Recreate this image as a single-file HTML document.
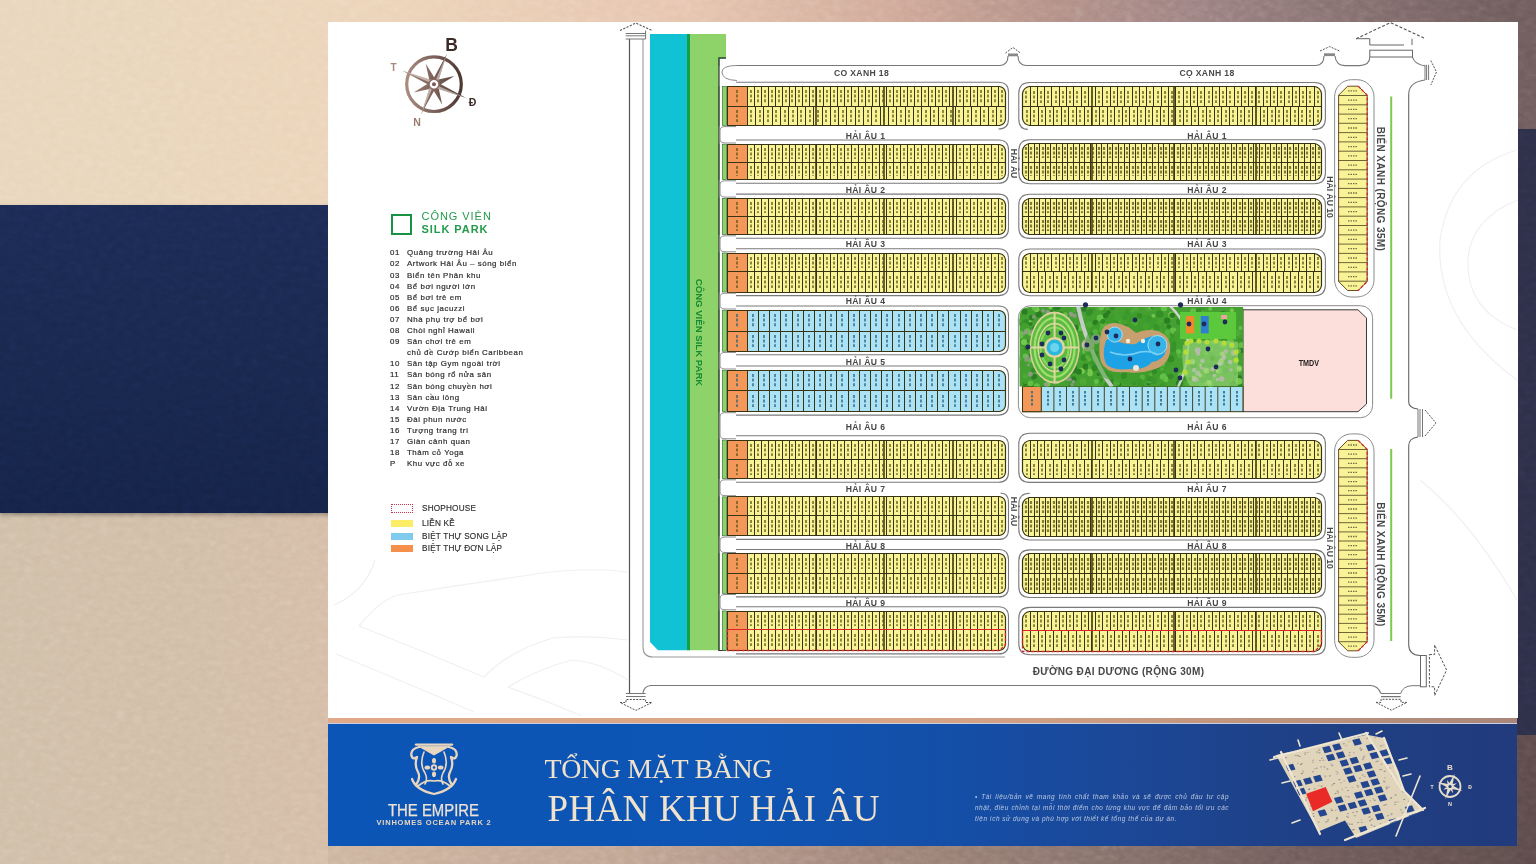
<!DOCTYPE html>
<html><head><meta charset="utf-8"><title>Tổng mặt bằng Phân khu Hải Âu</title>
<style>
*{margin:0;padding:0;box-sizing:border-box}
html,body{width:1536px;height:864px;overflow:hidden}
body{position:relative;font-family:"Liberation Sans",sans-serif;background:#d6c1a8}
.abs{position:absolute}
#bgTop{left:0;top:0;width:1536px;height:205px;background:linear-gradient(90deg,#e8d6bc 0%,#ecd3b8 25%,#e6c4ae 45%,#d0a898 58%,#bc968a 65%,#9c8080 78%,#7c6868 91%,#6a5858 100%)}
#bgNavy{left:0;top:205px;width:340px;height:308px;background:linear-gradient(180deg,#1b2a52,#18274c 50%,#142246);box-shadow:0 2px 4px rgba(0,0,0,.35)}
#bgLow{left:0;top:513px;width:340px;height:351px;background:linear-gradient(90deg,#cfbea7,#d1bda6 50%,#d5bca6)}
#bgBot{left:328px;top:846px;width:1208px;height:18px;background:linear-gradient(90deg,#cdb49e 0%,#c0a492 25%,#a08478 45%,#88726c 62%,#6f5c5a 80%,#5c4c4a 100%)}
#bgR1{left:1517px;top:0;width:19px;height:129px;background:#6e5b5c}
#bgR2{left:1517px;top:129px;width:19px;height:606px;background:#2d2e47}
#bgR3{left:1517px;top:735px;width:19px;height:129px;background:#5c4a4a}
#card{left:328px;top:22px;width:1190px;height:695.5px;background:#fff}
#stripe{left:328px;top:717.5px;width:1189px;height:5px;background:linear-gradient(90deg,#e0aa88,#d8a486 50%,#b8907c 85%,#a8867a)}
#stripe2{left:328px;top:722.5px;width:1189px;height:1.5px;background:#c9cfe0}
#banner{left:328px;top:724px;width:1189px;height:122px;background:linear-gradient(90deg,#0b55b6 0%,#0e55b4 35%,#144fa8 52%,#1b4898 66%,#1f4188 80%,#213b7c 100%)}
svg.full{position:absolute;left:0;top:0;width:1536px;height:864px}
.li{position:absolute;left:390px;height:10px;font-size:7.9px;line-height:10px;color:#2e2e2e;white-space:nowrap;letter-spacing:0.55px;-webkit-text-stroke:0.2px #2e2e2e}
.ln{display:inline-block;width:17px}
.lt{display:inline-block}
#parkT{left:421.5px;top:209.5px;color:#239a4c;font-size:11px;line-height:13.5px;white-space:nowrap;letter-spacing:0.95px}
#parkT b{font-weight:bold}
#parkSq{left:390.5px;top:213.8px;width:21.5px;height:21px;border:2.2px solid #1a9244}
.sw{position:absolute;left:390.5px;width:22px;height:7px}
.swt{position:absolute;left:422px;font-size:8.2px;line-height:9px;color:#2e2e2e;white-space:nowrap;letter-spacing:0.2px;-webkit-text-stroke:0.15px #2e2e2e}
#t1{left:544.5px;top:752.6px;font-family:"Liberation Serif",serif;font-size:28px;line-height:32px;color:#f0e2cc;letter-spacing:-0.4px;white-space:nowrap}
#t2{left:547.5px;top:789.2px;font-family:"Liberation Serif",serif;font-size:37px;line-height:40px;color:#f0e2cc;letter-spacing:0.3px;white-space:nowrap}
#emp{left:386px;top:801px;width:96px;text-align:center;font-family:"Liberation Serif",serif;font-size:17px;line-height:18px;color:#ead6bf;letter-spacing:-0.8px;white-space:nowrap;-webkit-text-stroke:0.35px #ead6bf}
#vop{left:370px;top:818.5px;width:128px;text-align:center;font-size:7.5px;line-height:8px;font-weight:bold;color:#e4d4c0;white-space:nowrap;letter-spacing:0.8px}
#disc{left:975px;top:791px;width:254px;font-size:6.4px;line-height:11px;font-style:italic;color:#dfe4f0;opacity:.8;letter-spacing:0.55px;white-space:nowrap}#disc span{display:block;text-align:justify;text-align-last:justify}#disc span.l{text-align-last:left}
</style></head><body>
<div class="abs" id="bgTop"></div>
<div class="abs" id="bgLow"></div>
<div class="abs" id="bgNavy"></div>
<div class="abs" id="bgBot"></div>
<div class="abs" id="bgR1"></div><div class="abs" id="bgR2"></div><div class="abs" id="bgR3"></div>
<svg class="full" style="opacity:0.28;mix-blend-mode:overlay" viewBox="0 0 1536 864"><filter id="nz" x="0" y="0" width="100%" height="100%"><feTurbulence type="fractalNoise" baseFrequency="0.12 0.18" numOctaves="3" seed="4"/><feColorMatrix type="saturate" values="0"/></filter><rect width="1536" height="864" filter="url(#nz)"/></svg>
<div class="abs" id="card"></div>
<div class="abs" id="stripe"></div><div class="abs" id="stripe2"></div>
<div class="abs" id="banner"></div>
<svg class="full" viewBox="0 0 1536 864">
<g fill="none" stroke="#f0f0f0" stroke-width="1.2"><path d="M334 605Q365 592 375 560"/><path d="M359 626Q380 600 398 595Q460 585 523 576Q580 566 628 572"/><path d="M359 626Q420 650 484 677Q510 650 553 638Q590 635 628 640"/><path d="M336 654Q400 680 474 712"/><path d="M508 687Q540 668 572 660Q600 662 628 680"/><path d="M508 687Q545 700 582 716"/><path d="M1517 150Q1450 170 1440 240Q1435 320 1517 380"/><path d="M1517 200Q1470 220 1468 260Q1466 310 1517 330"/><path d="M1420 480Q1470 520 1517 600"/></g>
<defs><linearGradient id="cg" x1="0" y1="0" x2="1" y2="0"><stop offset="0" stop-color="#a98b80"/><stop offset="1" stop-color="#4e3832"/></linearGradient></defs><circle cx="434" cy="84.2" r="27.3" fill="none" stroke="url(#cg)" stroke-width="3.2"/><path d="M431.1 82.9L446.9 53.8L436.9 85.5ZM432.6 80.7L454.4 76L435.4 87.7ZM435.3 81.3L466.2 97.9L432.7 87.1ZM437.5 82.8L442.2 104.6L430.5 85.6ZM436.9 85.5L421.1 114.6L431.1 82.9ZM435.4 87.7L413.6 92.4L432.6 80.7ZM432.7 87.1L401.8 70.5L435.3 81.3ZM430.5 85.6L425.8 63.8L437.5 82.8Z" fill="url(#cg)"/><path d="M434 84.2L446.9 53.8L436.9 85.5ZM434 84.2L466.2 97.9L432.7 87.1ZM434 84.2L421.1 114.6L431.1 82.9ZM434 84.2L401.8 70.5L435.3 81.3Z" fill="#f4ece8" opacity="0.55"/><circle cx="434" cy="84.2" r="5" fill="#fff" stroke="#8a6a60" stroke-width="1.5"/><circle cx="434" cy="84.2" r="2" fill="#7a5a50"/><text x="451.5" y="44.5" font-size="17.5" fill="#3a2a28" font-family="Liberation Sans" font-weight="bold" text-anchor="middle" dominant-baseline="central">B</text><text x="393.5" y="67.6" font-size="10" fill="#a88a7c" font-family="Liberation Sans" font-weight="bold" text-anchor="middle" dominant-baseline="central">T</text><text x="417" y="122" font-size="10.5" fill="#9a7c70" font-family="Liberation Sans" font-weight="bold" text-anchor="middle" dominant-baseline="central">N</text><text x="472.5" y="102" font-size="10.5" fill="#3a2a28" font-family="Liberation Sans" font-weight="bold" text-anchor="middle" dominant-baseline="central">Đ</text>
<path d="M650 34H687V650.3H658L650 642Z" fill="#10c2d3"/><rect x="687" y="34" width="3.5" height="616.3" fill="#17a03c"/><path d="M690.5 34H726V58H719V650.3H690.5Z" fill="#8dd36a"/><path d="M629.5 39V693" stroke="#555" stroke-width="1.2" fill="none"/><path d="M643 39V647Q643 657 653 657H1005" stroke="#9a9a9a" stroke-width="1.1" fill="none"/><path d="M650 685.5H1371Q1378 686 1381 693.5" stroke="#777" stroke-width="1.1" fill="none"/><path d="M643 693Q644 686 651 685.5" stroke="#777" stroke-width="1.1" fill="none"/><path d="M726 58H719V650.5H726" stroke="#333" stroke-width="1.2" fill="none"/><rect x="722.3" y="86.4" width="4" height="39" fill="#8dd36a" stroke="#2a6a2a" stroke-width="0.6"/><path d="M718.8 85.9V125.9" stroke="#3f5f3f" stroke-width="1.3"/><path d="M727.5 86.5H999.5Q1004.6 87.4 1005.5 92.5V119.5Q1004.6 124.6 999.5 125.5H727.5Q727.5 125.5 727.5 125.5V86.5Q727.5 86.5 727.5 86.5Z" fill="#f9f397" stroke="#37340f" stroke-width="1.2"/><rect x="727.5" y="86.5" width="20" height="39" fill="#f4985a" stroke="#37340f" stroke-width="1"/><path d="M727.5 106.5H1005.5M754.5 86.5V106.5M761.5 86.5V106.5M768.5 86.5V106.5M775.5 86.5V106.5M782.5 86.5V106.5M789.5 86.5V106.5M795.5 86.5V106.5M802.5 86.5V106.5M809.5 86.5V106.5M816.5 86.5V106.5M823.5 86.5V106.5M830.5 86.5V106.5M837.5 86.5V106.5M844.5 86.5V106.5M851.5 86.5V106.5M858.5 86.5V106.5M865.5 86.5V106.5M872.5 86.5V106.5M879.5 86.5V106.5M886.5 86.5V106.5M893.5 86.5V106.5M900.5 86.5V106.5M907.5 86.5V106.5M914.5 86.5V106.5M921.5 86.5V106.5M928.5 86.5V106.5M935.5 86.5V106.5M942.5 86.5V106.5M949.5 86.5V106.5M956.5 86.5V106.5M963.5 86.5V106.5M970.5 86.5V106.5M977.5 86.5V106.5M984.5 86.5V106.5M991.5 86.5V106.5M998.5 86.5V106.5M755.5 106.5V125.5M763.5 106.5V125.5M772.5 106.5V125.5M780.5 106.5V125.5M788.5 106.5V125.5M797.5 106.5V125.5M805.5 106.5V125.5M813.5 106.5V125.5M822.5 106.5V125.5M830.5 106.5V125.5M838.5 106.5V125.5M846.5 106.5V125.5M855.5 106.5V125.5M863.5 106.5V125.5M871.5 106.5V125.5M880.5 106.5V125.5M888.5 106.5V125.5M896.5 106.5V125.5M905.5 106.5V125.5M913.5 106.5V125.5M921.5 106.5V125.5M930.5 106.5V125.5M938.5 106.5V125.5M946.5 106.5V125.5M955.5 106.5V125.5M963.5 106.5V125.5M971.5 106.5V125.5M980.5 106.5V125.5M988.5 106.5V125.5M996.5 106.5V125.5" stroke="#37340f" stroke-width="1" fill="none"/><path d="M816 86.5V125.5M884 86.5V125.5M953 86.5V125.5" stroke="#37340f" stroke-width="1.5" fill="none"/><path d="M751 90V103M758 90V103M765 90V103M772 90V103M779 90V103M786 90V103M792 90V103M799 90V103M806 90V103M813 90V103M820 90V103M827 90V103M834 90V103M841 90V103M848 90V103M855 90V103M862 90V103M869 90V103M876 90V103M883 90V103M890 90V103M897 90V103M904 90V103M911 90V103M918 90V103M925 90V103M932 90V103M939 90V103M946 90V103M953 90V103M960 90V103M967 90V103M974 90V103M981 90V103M988 90V103M995 90V103M1002 90V103M751 110V122M760 110V122M768 110V122M776 110V122M785 110V122M793 110V122M801 110V122M810 110V122M818 110V122M826 110V122M835 110V122M843 110V122M851 110V122M859 110V122M868 110V122M876 110V122M884 110V122M893 110V122M901 110V122M909 110V122M918 110V122M926 110V122M934 110V122M943 110V122M951 110V122M959 110V122M968 110V122M976 110V122M984 110V122M993 110V122M1001 110V122M737 90V103M737 110V122" stroke="#59540f" stroke-width="1.8" stroke-dasharray="3 1.6" fill="none" opacity="0.75"/><path d="M736 82.2 H998.5 Q1008.5 82.2 1008.5 92.2 V119 Q1008.5 129 998.5 129 " fill="none" stroke="#7a7a7a" stroke-width="1.1"/><rect x="722.3" y="144.2" width="4" height="35.4" fill="#8dd36a" stroke="#2a6a2a" stroke-width="0.6"/><path d="M718.8 143.7V180.1" stroke="#3f5f3f" stroke-width="1.3"/><path d="M727.5 144.5H999.5Q1004.6 145.4 1005.5 150.5V173.5Q1004.6 178.6 999.5 179.5H727.5Q727.5 179.5 727.5 179.5V144.5Q727.5 144.5 727.5 144.5Z" fill="#f9f397" stroke="#37340f" stroke-width="1.2"/><rect x="727.5" y="144.5" width="20" height="35" fill="#f4985a" stroke="#37340f" stroke-width="1"/><path d="M727.5 162.5H1005.5M754.5 144.5V162.5M761.5 144.5V162.5M768.5 144.5V162.5M775.5 144.5V162.5M782.5 144.5V162.5M789.5 144.5V162.5M795.5 144.5V162.5M802.5 144.5V162.5M809.5 144.5V162.5M816.5 144.5V162.5M823.5 144.5V162.5M830.5 144.5V162.5M837.5 144.5V162.5M844.5 144.5V162.5M851.5 144.5V162.5M858.5 144.5V162.5M865.5 144.5V162.5M872.5 144.5V162.5M879.5 144.5V162.5M886.5 144.5V162.5M893.5 144.5V162.5M900.5 144.5V162.5M907.5 144.5V162.5M914.5 144.5V162.5M921.5 144.5V162.5M928.5 144.5V162.5M935.5 144.5V162.5M942.5 144.5V162.5M949.5 144.5V162.5M956.5 144.5V162.5M963.5 144.5V162.5M970.5 144.5V162.5M977.5 144.5V162.5M984.5 144.5V162.5M991.5 144.5V162.5M998.5 144.5V162.5M754.5 162.5V179.5M761.5 162.5V179.5M768.5 162.5V179.5M775.5 162.5V179.5M782.5 162.5V179.5M789.5 162.5V179.5M795.5 162.5V179.5M802.5 162.5V179.5M809.5 162.5V179.5M816.5 162.5V179.5M823.5 162.5V179.5M830.5 162.5V179.5M837.5 162.5V179.5M844.5 162.5V179.5M851.5 162.5V179.5M858.5 162.5V179.5M865.5 162.5V179.5M872.5 162.5V179.5M879.5 162.5V179.5M886.5 162.5V179.5M893.5 162.5V179.5M900.5 162.5V179.5M907.5 162.5V179.5M914.5 162.5V179.5M921.5 162.5V179.5M928.5 162.5V179.5M935.5 162.5V179.5M942.5 162.5V179.5M949.5 162.5V179.5M956.5 162.5V179.5M963.5 162.5V179.5M970.5 162.5V179.5M977.5 162.5V179.5M984.5 162.5V179.5M991.5 162.5V179.5M998.5 162.5V179.5" stroke="#37340f" stroke-width="1" fill="none"/><path d="M816 144.5V179.5M884 144.5V179.5M953 144.5V179.5" stroke="#37340f" stroke-width="1.5" fill="none"/><path d="M751 148V159M758 148V159M765 148V159M772 148V159M779 148V159M786 148V159M792 148V159M799 148V159M806 148V159M813 148V159M820 148V159M827 148V159M834 148V159M841 148V159M848 148V159M855 148V159M862 148V159M869 148V159M876 148V159M883 148V159M890 148V159M897 148V159M904 148V159M911 148V159M918 148V159M925 148V159M932 148V159M939 148V159M946 148V159M953 148V159M960 148V159M967 148V159M974 148V159M981 148V159M988 148V159M995 148V159M1002 148V159M751 166V176M758 166V176M765 166V176M772 166V176M779 166V176M786 166V176M792 166V176M799 166V176M806 166V176M813 166V176M820 166V176M827 166V176M834 166V176M841 166V176M848 166V176M855 166V176M862 166V176M869 166V176M876 166V176M883 166V176M890 166V176M897 166V176M904 166V176M911 166V176M918 166V176M925 166V176M932 166V176M939 166V176M946 166V176M953 166V176M960 166V176M967 166V176M974 166V176M981 166V176M988 166V176M995 166V176M1002 166V176M737 148V159M737 166V176" stroke="#59540f" stroke-width="1.8" stroke-dasharray="3 1.6" fill="none" opacity="0.75"/><path d="M736 140 H998.5 Q1008.5 140 1008.5 150 V173.2 Q1008.5 183.2 998.5 183.2 H736" fill="none" stroke="#7a7a7a" stroke-width="1.1"/><path d="M736 126.6 H725 Q720 126.6 720 130.6 V139 Q720 143 725 143 H736" fill="none" stroke="#8c8c8c" stroke-width="1"/><rect x="722.3" y="198.3" width="4" height="36.3" fill="#8dd36a" stroke="#2a6a2a" stroke-width="0.6"/><path d="M718.8 197.8V235.1" stroke="#3f5f3f" stroke-width="1.3"/><path d="M727.5 198.5H999.5Q1004.6 199.4 1005.5 204.5V228.5Q1004.6 233.6 999.5 234.5H727.5Q727.5 234.5 727.5 234.5V198.5Q727.5 198.5 727.5 198.5Z" fill="#f9f397" stroke="#37340f" stroke-width="1.2"/><rect x="727.5" y="198.5" width="20" height="36" fill="#f4985a" stroke="#37340f" stroke-width="1"/><path d="M727.5 216.5H1005.5M754.5 198.5V216.5M761.5 198.5V216.5M768.5 198.5V216.5M775.5 198.5V216.5M782.5 198.5V216.5M789.5 198.5V216.5M795.5 198.5V216.5M802.5 198.5V216.5M809.5 198.5V216.5M816.5 198.5V216.5M823.5 198.5V216.5M830.5 198.5V216.5M837.5 198.5V216.5M844.5 198.5V216.5M851.5 198.5V216.5M858.5 198.5V216.5M865.5 198.5V216.5M872.5 198.5V216.5M879.5 198.5V216.5M886.5 198.5V216.5M893.5 198.5V216.5M900.5 198.5V216.5M907.5 198.5V216.5M914.5 198.5V216.5M921.5 198.5V216.5M928.5 198.5V216.5M935.5 198.5V216.5M942.5 198.5V216.5M949.5 198.5V216.5M956.5 198.5V216.5M963.5 198.5V216.5M970.5 198.5V216.5M977.5 198.5V216.5M984.5 198.5V216.5M991.5 198.5V216.5M998.5 198.5V216.5M754.5 216.5V234.5M761.5 216.5V234.5M768.5 216.5V234.5M775.5 216.5V234.5M782.5 216.5V234.5M789.5 216.5V234.5M795.5 216.5V234.5M802.5 216.5V234.5M809.5 216.5V234.5M816.5 216.5V234.5M823.5 216.5V234.5M830.5 216.5V234.5M837.5 216.5V234.5M844.5 216.5V234.5M851.5 216.5V234.5M858.5 216.5V234.5M865.5 216.5V234.5M872.5 216.5V234.5M879.5 216.5V234.5M886.5 216.5V234.5M893.5 216.5V234.5M900.5 216.5V234.5M907.5 216.5V234.5M914.5 216.5V234.5M921.5 216.5V234.5M928.5 216.5V234.5M935.5 216.5V234.5M942.5 216.5V234.5M949.5 216.5V234.5M956.5 216.5V234.5M963.5 216.5V234.5M970.5 216.5V234.5M977.5 216.5V234.5M984.5 216.5V234.5M991.5 216.5V234.5M998.5 216.5V234.5" stroke="#37340f" stroke-width="1" fill="none"/><path d="M816 198.5V234.5M884 198.5V234.5M953 198.5V234.5" stroke="#37340f" stroke-width="1.5" fill="none"/><path d="M751 202V213M758 202V213M765 202V213M772 202V213M779 202V213M786 202V213M792 202V213M799 202V213M806 202V213M813 202V213M820 202V213M827 202V213M834 202V213M841 202V213M848 202V213M855 202V213M862 202V213M869 202V213M876 202V213M883 202V213M890 202V213M897 202V213M904 202V213M911 202V213M918 202V213M925 202V213M932 202V213M939 202V213M946 202V213M953 202V213M960 202V213M967 202V213M974 202V213M981 202V213M988 202V213M995 202V213M1002 202V213M751 220V231M758 220V231M765 220V231M772 220V231M779 220V231M786 220V231M792 220V231M799 220V231M806 220V231M813 220V231M820 220V231M827 220V231M834 220V231M841 220V231M848 220V231M855 220V231M862 220V231M869 220V231M876 220V231M883 220V231M890 220V231M897 220V231M904 220V231M911 220V231M918 220V231M925 220V231M932 220V231M939 220V231M946 220V231M953 220V231M960 220V231M967 220V231M974 220V231M981 220V231M988 220V231M995 220V231M1002 220V231M737 202V213M737 220V231" stroke="#59540f" stroke-width="1.8" stroke-dasharray="3 1.6" fill="none" opacity="0.75"/><path d="M736 194.1 H998.5 Q1008.5 194.1 1008.5 204.1 V228.2 Q1008.5 238.2 998.5 238.2 H736" fill="none" stroke="#7a7a7a" stroke-width="1.1"/><path d="M736 180.8 H725 Q720 180.8 720 184.8 V193.1 Q720 197.1 725 197.1 H736" fill="none" stroke="#8c8c8c" stroke-width="1"/><rect x="722.3" y="253" width="4" height="39" fill="#8dd36a" stroke="#2a6a2a" stroke-width="0.6"/><path d="M718.8 252.5V292.5" stroke="#3f5f3f" stroke-width="1.3"/><path d="M727.5 253.5H999.5Q1004.6 254.4 1005.5 259.5V286.5Q1004.6 291.6 999.5 292.5H727.5Q727.5 292.5 727.5 292.5V253.5Q727.5 253.5 727.5 253.5Z" fill="#f9f397" stroke="#37340f" stroke-width="1.2"/><rect x="727.5" y="253.5" width="20" height="39" fill="#f4985a" stroke="#37340f" stroke-width="1"/><path d="M727.5 271.5H1005.5M754.5 253.5V271.5M761.5 253.5V271.5M768.5 253.5V271.5M775.5 253.5V271.5M782.5 253.5V271.5M789.5 253.5V271.5M795.5 253.5V271.5M802.5 253.5V271.5M809.5 253.5V271.5M816.5 253.5V271.5M823.5 253.5V271.5M830.5 253.5V271.5M837.5 253.5V271.5M844.5 253.5V271.5M851.5 253.5V271.5M858.5 253.5V271.5M865.5 253.5V271.5M872.5 253.5V271.5M879.5 253.5V271.5M886.5 253.5V271.5M893.5 253.5V271.5M900.5 253.5V271.5M907.5 253.5V271.5M914.5 253.5V271.5M921.5 253.5V271.5M928.5 253.5V271.5M935.5 253.5V271.5M942.5 253.5V271.5M949.5 253.5V271.5M956.5 253.5V271.5M963.5 253.5V271.5M970.5 253.5V271.5M977.5 253.5V271.5M984.5 253.5V271.5M991.5 253.5V271.5M998.5 253.5V271.5M754.5 271.5V292.5M761.5 271.5V292.5M768.5 271.5V292.5M775.5 271.5V292.5M782.5 271.5V292.5M789.5 271.5V292.5M795.5 271.5V292.5M802.5 271.5V292.5M809.5 271.5V292.5M816.5 271.5V292.5M823.5 271.5V292.5M830.5 271.5V292.5M837.5 271.5V292.5M844.5 271.5V292.5M851.5 271.5V292.5M858.5 271.5V292.5M865.5 271.5V292.5M872.5 271.5V292.5M879.5 271.5V292.5M886.5 271.5V292.5M893.5 271.5V292.5M900.5 271.5V292.5M907.5 271.5V292.5M914.5 271.5V292.5M921.5 271.5V292.5M928.5 271.5V292.5M935.5 271.5V292.5M942.5 271.5V292.5M949.5 271.5V292.5M956.5 271.5V292.5M963.5 271.5V292.5M970.5 271.5V292.5M977.5 271.5V292.5M984.5 271.5V292.5M991.5 271.5V292.5M998.5 271.5V292.5" stroke="#37340f" stroke-width="1" fill="none"/><path d="M816 253.5V292.5M884 253.5V292.5M953 253.5V292.5" stroke="#37340f" stroke-width="1.5" fill="none"/><path d="M751 257V268M758 257V268M765 257V268M772 257V268M779 257V268M786 257V268M792 257V268M799 257V268M806 257V268M813 257V268M820 257V268M827 257V268M834 257V268M841 257V268M848 257V268M855 257V268M862 257V268M869 257V268M876 257V268M883 257V268M890 257V268M897 257V268M904 257V268M911 257V268M918 257V268M925 257V268M932 257V268M939 257V268M946 257V268M953 257V268M960 257V268M967 257V268M974 257V268M981 257V268M988 257V268M995 257V268M1002 257V268M751 276V288M758 276V288M765 276V288M772 276V288M779 276V288M786 276V288M792 276V288M799 276V288M806 276V288M813 276V288M820 276V288M827 276V288M834 276V288M841 276V288M848 276V288M855 276V288M862 276V288M869 276V288M876 276V288M883 276V288M890 276V288M897 276V288M904 276V288M911 276V288M918 276V288M925 276V288M932 276V288M939 276V288M946 276V288M953 276V288M960 276V288M967 276V288M974 276V288M981 276V288M988 276V288M995 276V288M1002 276V288M737 257V268M737 276V288" stroke="#59540f" stroke-width="1.8" stroke-dasharray="3 1.6" fill="none" opacity="0.75"/><path d="M736 248.8 H998.5 Q1008.5 248.8 1008.5 258.8 V285.6 Q1008.5 295.6 998.5 295.6 H736" fill="none" stroke="#7a7a7a" stroke-width="1.1"/><path d="M736 235.8 H725 Q720 235.8 720 239.8 V247.8 Q720 251.8 725 251.8 H736" fill="none" stroke="#8c8c8c" stroke-width="1"/><rect x="722.3" y="310.2" width="4" height="41" fill="#8dd36a" stroke="#2a6a2a" stroke-width="0.6"/><path d="M718.8 309.7V351.7" stroke="#3f5f3f" stroke-width="1.3"/><path d="M727.5 310.5H999.5Q1004.6 311.4 1005.5 316.5V345.5Q1004.6 350.6 999.5 351.5H727.5Q727.5 351.5 727.5 351.5V310.5Q727.5 310.5 727.5 310.5Z" fill="#acE2f6" stroke="#37340f" stroke-width="1.2"/><rect x="727.5" y="310.5" width="20" height="41" fill="#f4985a" stroke="#37340f" stroke-width="1"/><path d="M727.5 331.5H1005.5M758.5 310.5V331.5M769.5 310.5V331.5M780.5 310.5V331.5M792.5 310.5V331.5M803.5 310.5V331.5M814.5 310.5V331.5M825.5 310.5V331.5M836.5 310.5V331.5M848.5 310.5V331.5M859.5 310.5V331.5M870.5 310.5V331.5M881.5 310.5V331.5M892.5 310.5V331.5M904.5 310.5V331.5M915.5 310.5V331.5M926.5 310.5V331.5M937.5 310.5V331.5M948.5 310.5V331.5M960.5 310.5V331.5M971.5 310.5V331.5M982.5 310.5V331.5M993.5 310.5V331.5M758.5 331.5V351.5M769.5 331.5V351.5M780.5 331.5V351.5M792.5 331.5V351.5M803.5 331.5V351.5M814.5 331.5V351.5M825.5 331.5V351.5M836.5 331.5V351.5M848.5 331.5V351.5M859.5 331.5V351.5M870.5 331.5V351.5M881.5 331.5V351.5M892.5 331.5V351.5M904.5 331.5V351.5M915.5 331.5V351.5M926.5 331.5V351.5M937.5 331.5V351.5M948.5 331.5V351.5M960.5 331.5V351.5M971.5 331.5V351.5M982.5 331.5V351.5M993.5 331.5V351.5" stroke="#37340f" stroke-width="1" fill="none"/><path d="M753 314V327M764 314V327M775 314V327M786 314V327M798 314V327M809 314V327M820 314V327M831 314V327M842 314V327M854 314V327M865 314V327M876 314V327M887 314V327M899 314V327M910 314V327M921 314V327M932 314V327M943 314V327M955 314V327M966 314V327M977 314V327M988 314V327M999 314V327M753 335V347M764 335V347M775 335V347M786 335V347M798 335V347M809 335V347M820 335V347M831 335V347M842 335V347M854 335V347M865 335V347M876 335V347M887 335V347M899 335V347M910 335V347M921 335V347M932 335V347M943 335V347M955 335V347M966 335V347M977 335V347M988 335V347M999 335V347M737 314V327M737 335V347" stroke="#24607a" stroke-width="1.8" stroke-dasharray="3 1.6" fill="none" opacity="0.75"/><path d="M736 306 H998.5 Q1008.5 306 1008.5 316 V344.8 Q1008.5 354.8 998.5 354.8 H736" fill="none" stroke="#7a7a7a" stroke-width="1.1"/><path d="M736 293.2 H725 Q720 293.2 720 297.2 V305 Q720 309 725 309 H736" fill="none" stroke="#8c8c8c" stroke-width="1"/><rect x="722.3" y="370.2" width="4" height="41.3" fill="#8dd36a" stroke="#2a6a2a" stroke-width="0.6"/><path d="M718.8 369.7V412" stroke="#3f5f3f" stroke-width="1.3"/><path d="M727.5 370.5H999.5Q1004.6 371.4 1005.5 376.5V405.5Q1004.6 410.6 999.5 411.5H727.5Q727.5 411.5 727.5 411.5V370.5Q727.5 370.5 727.5 370.5Z" fill="#acE2f6" stroke="#37340f" stroke-width="1.2"/><rect x="727.5" y="370.5" width="20" height="41" fill="#f4985a" stroke="#37340f" stroke-width="1"/><path d="M727.5 390.5H1005.5M758.5 370.5V390.5M769.5 370.5V390.5M780.5 370.5V390.5M792.5 370.5V390.5M803.5 370.5V390.5M814.5 370.5V390.5M825.5 370.5V390.5M836.5 370.5V390.5M848.5 370.5V390.5M859.5 370.5V390.5M870.5 370.5V390.5M881.5 370.5V390.5M892.5 370.5V390.5M904.5 370.5V390.5M915.5 370.5V390.5M926.5 370.5V390.5M937.5 370.5V390.5M948.5 370.5V390.5M960.5 370.5V390.5M971.5 370.5V390.5M982.5 370.5V390.5M993.5 370.5V390.5M758.5 390.5V411.5M769.5 390.5V411.5M780.5 390.5V411.5M792.5 390.5V411.5M803.5 390.5V411.5M814.5 390.5V411.5M825.5 390.5V411.5M836.5 390.5V411.5M848.5 390.5V411.5M859.5 390.5V411.5M870.5 390.5V411.5M881.5 390.5V411.5M892.5 390.5V411.5M904.5 390.5V411.5M915.5 390.5V411.5M926.5 390.5V411.5M937.5 390.5V411.5M948.5 390.5V411.5M960.5 390.5V411.5M971.5 390.5V411.5M982.5 390.5V411.5M993.5 390.5V411.5" stroke="#37340f" stroke-width="1" fill="none"/><path d="M753 374V387M764 374V387M775 374V387M786 374V387M798 374V387M809 374V387M820 374V387M831 374V387M842 374V387M854 374V387M865 374V387M876 374V387M887 374V387M899 374V387M910 374V387M921 374V387M932 374V387M943 374V387M955 374V387M966 374V387M977 374V387M988 374V387M999 374V387M753 395V407M764 395V407M775 395V407M786 395V407M798 395V407M809 395V407M820 395V407M831 395V407M842 395V407M854 395V407M865 395V407M876 395V407M887 395V407M899 395V407M910 395V407M921 395V407M932 395V407M943 395V407M955 395V407M966 395V407M977 395V407M988 395V407M999 395V407M737 374V387M737 395V407" stroke="#24607a" stroke-width="1.8" stroke-dasharray="3 1.6" fill="none" opacity="0.75"/><path d="M736 366 H998.5 Q1008.5 366 1008.5 376 V405.1 Q1008.5 415.1 998.5 415.1 H736" fill="none" stroke="#7a7a7a" stroke-width="1.1"/><path d="M736 352.4 H725 Q720 352.4 720 356.4 V365 Q720 369 725 369 H736" fill="none" stroke="#8c8c8c" stroke-width="1"/><rect x="722.3" y="440" width="4" height="38.6" fill="#8dd36a" stroke="#2a6a2a" stroke-width="0.6"/><path d="M718.8 439.5V479.1" stroke="#3f5f3f" stroke-width="1.3"/><path d="M727.5 440.5H999.5Q1004.6 441.4 1005.5 446.5V472.5Q1004.6 477.6 999.5 478.5H727.5Q727.5 478.5 727.5 478.5V440.5Q727.5 440.5 727.5 440.5Z" fill="#f9f397" stroke="#37340f" stroke-width="1.2"/><rect x="727.5" y="440.5" width="20" height="38" fill="#f4985a" stroke="#37340f" stroke-width="1"/><path d="M727.5 459.5H1005.5M754.5 440.5V459.5M761.5 440.5V459.5M768.5 440.5V459.5M775.5 440.5V459.5M782.5 440.5V459.5M789.5 440.5V459.5M795.5 440.5V459.5M802.5 440.5V459.5M809.5 440.5V459.5M816.5 440.5V459.5M823.5 440.5V459.5M830.5 440.5V459.5M837.5 440.5V459.5M844.5 440.5V459.5M851.5 440.5V459.5M858.5 440.5V459.5M865.5 440.5V459.5M872.5 440.5V459.5M879.5 440.5V459.5M886.5 440.5V459.5M893.5 440.5V459.5M900.5 440.5V459.5M907.5 440.5V459.5M914.5 440.5V459.5M921.5 440.5V459.5M928.5 440.5V459.5M935.5 440.5V459.5M942.5 440.5V459.5M949.5 440.5V459.5M956.5 440.5V459.5M963.5 440.5V459.5M970.5 440.5V459.5M977.5 440.5V459.5M984.5 440.5V459.5M991.5 440.5V459.5M998.5 440.5V459.5M754.5 459.5V478.5M761.5 459.5V478.5M768.5 459.5V478.5M775.5 459.5V478.5M782.5 459.5V478.5M789.5 459.5V478.5M795.5 459.5V478.5M802.5 459.5V478.5M809.5 459.5V478.5M816.5 459.5V478.5M823.5 459.5V478.5M830.5 459.5V478.5M837.5 459.5V478.5M844.5 459.5V478.5M851.5 459.5V478.5M858.5 459.5V478.5M865.5 459.5V478.5M872.5 459.5V478.5M879.5 459.5V478.5M886.5 459.5V478.5M893.5 459.5V478.5M900.5 459.5V478.5M907.5 459.5V478.5M914.5 459.5V478.5M921.5 459.5V478.5M928.5 459.5V478.5M935.5 459.5V478.5M942.5 459.5V478.5M949.5 459.5V478.5M956.5 459.5V478.5M963.5 459.5V478.5M970.5 459.5V478.5M977.5 459.5V478.5M984.5 459.5V478.5M991.5 459.5V478.5M998.5 459.5V478.5" stroke="#37340f" stroke-width="1" fill="none"/><path d="M816 440.5V478.5M884 440.5V478.5M953 440.5V478.5" stroke="#37340f" stroke-width="1.5" fill="none"/><path d="M751 444V456M758 444V456M765 444V456M772 444V456M779 444V456M786 444V456M792 444V456M799 444V456M806 444V456M813 444V456M820 444V456M827 444V456M834 444V456M841 444V456M848 444V456M855 444V456M862 444V456M869 444V456M876 444V456M883 444V456M890 444V456M897 444V456M904 444V456M911 444V456M918 444V456M925 444V456M932 444V456M939 444V456M946 444V456M953 444V456M960 444V456M967 444V456M974 444V456M981 444V456M988 444V456M995 444V456M1002 444V456M751 464V475M758 464V475M765 464V475M772 464V475M779 464V475M786 464V475M792 464V475M799 464V475M806 464V475M813 464V475M820 464V475M827 464V475M834 464V475M841 464V475M848 464V475M855 464V475M862 464V475M869 464V475M876 464V475M883 464V475M890 464V475M897 464V475M904 464V475M911 464V475M918 464V475M925 464V475M932 464V475M939 464V475M946 464V475M953 464V475M960 464V475M967 464V475M974 464V475M981 464V475M988 464V475M995 464V475M1002 464V475M737 444V456M737 464V475" stroke="#59540f" stroke-width="1.8" stroke-dasharray="3 1.6" fill="none" opacity="0.75"/><path d="M736 435.8 H998.5 Q1008.5 435.8 1008.5 445.8 V472.2 Q1008.5 482.2 998.5 482.2 H736" fill="none" stroke="#7a7a7a" stroke-width="1.1"/><path d="M736 412.7 H725 Q720 412.7 720 416.7 V434.8 Q720 438.8 725 438.8 H736" fill="none" stroke="#8c8c8c" stroke-width="1"/><rect x="722.3" y="496.9" width="4" height="38.9" fill="#8dd36a" stroke="#2a6a2a" stroke-width="0.6"/><path d="M718.8 496.4V536.3" stroke="#3f5f3f" stroke-width="1.3"/><path d="M727.5 496.5H999.5Q1004.6 497.4 1005.5 502.5V529.5Q1004.6 534.6 999.5 535.5H727.5Q727.5 535.5 727.5 535.5V496.5Q727.5 496.5 727.5 496.5Z" fill="#f9f397" stroke="#37340f" stroke-width="1.2"/><rect x="727.5" y="496.5" width="20" height="39" fill="#f4985a" stroke="#37340f" stroke-width="1"/><path d="M727.5 515.5H1005.5M754.5 496.5V515.5M761.5 496.5V515.5M768.5 496.5V515.5M775.5 496.5V515.5M782.5 496.5V515.5M789.5 496.5V515.5M795.5 496.5V515.5M802.5 496.5V515.5M809.5 496.5V515.5M816.5 496.5V515.5M823.5 496.5V515.5M830.5 496.5V515.5M837.5 496.5V515.5M844.5 496.5V515.5M851.5 496.5V515.5M858.5 496.5V515.5M865.5 496.5V515.5M872.5 496.5V515.5M879.5 496.5V515.5M886.5 496.5V515.5M893.5 496.5V515.5M900.5 496.5V515.5M907.5 496.5V515.5M914.5 496.5V515.5M921.5 496.5V515.5M928.5 496.5V515.5M935.5 496.5V515.5M942.5 496.5V515.5M949.5 496.5V515.5M956.5 496.5V515.5M963.5 496.5V515.5M970.5 496.5V515.5M977.5 496.5V515.5M984.5 496.5V515.5M991.5 496.5V515.5M998.5 496.5V515.5M754.5 515.5V535.5M761.5 515.5V535.5M768.5 515.5V535.5M775.5 515.5V535.5M782.5 515.5V535.5M789.5 515.5V535.5M795.5 515.5V535.5M802.5 515.5V535.5M809.5 515.5V535.5M816.5 515.5V535.5M823.5 515.5V535.5M830.5 515.5V535.5M837.5 515.5V535.5M844.5 515.5V535.5M851.5 515.5V535.5M858.5 515.5V535.5M865.5 515.5V535.5M872.5 515.5V535.5M879.5 515.5V535.5M886.5 515.5V535.5M893.5 515.5V535.5M900.5 515.5V535.5M907.5 515.5V535.5M914.5 515.5V535.5M921.5 515.5V535.5M928.5 515.5V535.5M935.5 515.5V535.5M942.5 515.5V535.5M949.5 515.5V535.5M956.5 515.5V535.5M963.5 515.5V535.5M970.5 515.5V535.5M977.5 515.5V535.5M984.5 515.5V535.5M991.5 515.5V535.5M998.5 515.5V535.5" stroke="#37340f" stroke-width="1" fill="none"/><path d="M816 496.5V535.5M884 496.5V535.5M953 496.5V535.5" stroke="#37340f" stroke-width="1.5" fill="none"/><path d="M751 501V512M758 501V512M765 501V512M772 501V512M779 501V512M786 501V512M792 501V512M799 501V512M806 501V512M813 501V512M820 501V512M827 501V512M834 501V512M841 501V512M848 501V512M855 501V512M862 501V512M869 501V512M876 501V512M883 501V512M890 501V512M897 501V512M904 501V512M911 501V512M918 501V512M925 501V512M932 501V512M939 501V512M946 501V512M953 501V512M960 501V512M967 501V512M974 501V512M981 501V512M988 501V512M995 501V512M1002 501V512M751 520V532M758 520V532M765 520V532M772 520V532M779 520V532M786 520V532M792 520V532M799 520V532M806 520V532M813 520V532M820 520V532M827 520V532M834 520V532M841 520V532M848 520V532M855 520V532M862 520V532M869 520V532M876 520V532M883 520V532M890 520V532M897 520V532M904 520V532M911 520V532M918 520V532M925 520V532M932 520V532M939 520V532M946 520V532M953 520V532M960 520V532M967 520V532M974 520V532M981 520V532M988 520V532M995 520V532M1002 520V532M737 501V512M737 520V532" stroke="#59540f" stroke-width="1.8" stroke-dasharray="3 1.6" fill="none" opacity="0.75"/><path d="M1000.5 493.2 Q1008.5 492.7 1008.5 502.7 V529.4 Q1008.5 539.4 998.5 539.4 H736" fill="none" stroke="#7a7a7a" stroke-width="1.1"/><path d="M736 479.8 H725 Q720 479.8 720 483.8 V491.7 Q720 495.7 725 495.7 H736" fill="none" stroke="#8c8c8c" stroke-width="1"/><rect x="722.3" y="553.7" width="4" height="39.6" fill="#8dd36a" stroke="#2a6a2a" stroke-width="0.6"/><path d="M718.8 553.2V593.8" stroke="#3f5f3f" stroke-width="1.3"/><path d="M727.5 553.5H999.5Q1004.6 554.4 1005.5 559.5V587.5Q1004.6 592.6 999.5 593.5H727.5Q727.5 593.5 727.5 593.5V553.5Q727.5 553.5 727.5 553.5Z" fill="#f9f397" stroke="#37340f" stroke-width="1.2"/><rect x="727.5" y="553.5" width="20" height="40" fill="#f4985a" stroke="#37340f" stroke-width="1"/><path d="M727.5 573.5H1005.5M754.5 553.5V573.5M761.5 553.5V573.5M768.5 553.5V573.5M775.5 553.5V573.5M782.5 553.5V573.5M789.5 553.5V573.5M795.5 553.5V573.5M802.5 553.5V573.5M809.5 553.5V573.5M816.5 553.5V573.5M823.5 553.5V573.5M830.5 553.5V573.5M837.5 553.5V573.5M844.5 553.5V573.5M851.5 553.5V573.5M858.5 553.5V573.5M865.5 553.5V573.5M872.5 553.5V573.5M879.5 553.5V573.5M886.5 553.5V573.5M893.5 553.5V573.5M900.5 553.5V573.5M907.5 553.5V573.5M914.5 553.5V573.5M921.5 553.5V573.5M928.5 553.5V573.5M935.5 553.5V573.5M942.5 553.5V573.5M949.5 553.5V573.5M956.5 553.5V573.5M963.5 553.5V573.5M970.5 553.5V573.5M977.5 553.5V573.5M984.5 553.5V573.5M991.5 553.5V573.5M998.5 553.5V573.5M754.5 573.5V593.5M761.5 573.5V593.5M768.5 573.5V593.5M775.5 573.5V593.5M782.5 573.5V593.5M789.5 573.5V593.5M795.5 573.5V593.5M802.5 573.5V593.5M809.5 573.5V593.5M816.5 573.5V593.5M823.5 573.5V593.5M830.5 573.5V593.5M837.5 573.5V593.5M844.5 573.5V593.5M851.5 573.5V593.5M858.5 573.5V593.5M865.5 573.5V593.5M872.5 573.5V593.5M879.5 573.5V593.5M886.5 573.5V593.5M893.5 573.5V593.5M900.5 573.5V593.5M907.5 573.5V593.5M914.5 573.5V593.5M921.5 573.5V593.5M928.5 573.5V593.5M935.5 573.5V593.5M942.5 573.5V593.5M949.5 573.5V593.5M956.5 573.5V593.5M963.5 573.5V593.5M970.5 573.5V593.5M977.5 573.5V593.5M984.5 573.5V593.5M991.5 573.5V593.5M998.5 573.5V593.5" stroke="#37340f" stroke-width="1" fill="none"/><path d="M816 553.5V593.5M884 553.5V593.5M953 553.5V593.5" stroke="#37340f" stroke-width="1.5" fill="none"/><path d="M751 558V569M758 558V569M765 558V569M772 558V569M779 558V569M786 558V569M792 558V569M799 558V569M806 558V569M813 558V569M820 558V569M827 558V569M834 558V569M841 558V569M848 558V569M855 558V569M862 558V569M869 558V569M876 558V569M883 558V569M890 558V569M897 558V569M904 558V569M911 558V569M918 558V569M925 558V569M932 558V569M939 558V569M946 558V569M953 558V569M960 558V569M967 558V569M974 558V569M981 558V569M988 558V569M995 558V569M1002 558V569M751 577V589M758 577V589M765 577V589M772 577V589M779 577V589M786 577V589M792 577V589M799 577V589M806 577V589M813 577V589M820 577V589M827 577V589M834 577V589M841 577V589M848 577V589M855 577V589M862 577V589M869 577V589M876 577V589M883 577V589M890 577V589M897 577V589M904 577V589M911 577V589M918 577V589M925 577V589M932 577V589M939 577V589M946 577V589M953 577V589M960 577V589M967 577V589M974 577V589M981 577V589M988 577V589M995 577V589M1002 577V589M737 558V569M737 577V589" stroke="#59540f" stroke-width="1.8" stroke-dasharray="3 1.6" fill="none" opacity="0.75"/><path d="M736 549.5 H998.5 Q1008.5 549.5 1008.5 559.5 V586.9 Q1008.5 596.9 998.5 596.9 H736" fill="none" stroke="#7a7a7a" stroke-width="1.1"/><path d="M736 537 H725 Q720 537 720 541 V548.5 Q720 552.5 725 552.5 H736" fill="none" stroke="#8c8c8c" stroke-width="1"/><rect x="722.3" y="611" width="4" height="39.3" fill="#8dd36a" stroke="#2a6a2a" stroke-width="0.6"/><path d="M718.8 610.5V650.8" stroke="#3f5f3f" stroke-width="1.3"/><path d="M727.5 611.5H999.5Q1004.6 612.4 1005.5 617.5V644.5Q1004.6 649.6 999.5 650.5H727.5Q727.5 650.5 727.5 650.5V611.5Q727.5 611.5 727.5 611.5Z" fill="#f9f397" stroke="#37340f" stroke-width="1.2"/><rect x="727.5" y="611.5" width="20" height="39" fill="#f4985a" stroke="#37340f" stroke-width="1"/><path d="M727.5 629.5H1005.5M754.5 611.5V629.5M761.5 611.5V629.5M768.5 611.5V629.5M775.5 611.5V629.5M782.5 611.5V629.5M789.5 611.5V629.5M795.5 611.5V629.5M802.5 611.5V629.5M809.5 611.5V629.5M816.5 611.5V629.5M823.5 611.5V629.5M830.5 611.5V629.5M837.5 611.5V629.5M844.5 611.5V629.5M851.5 611.5V629.5M858.5 611.5V629.5M865.5 611.5V629.5M872.5 611.5V629.5M879.5 611.5V629.5M886.5 611.5V629.5M893.5 611.5V629.5M900.5 611.5V629.5M907.5 611.5V629.5M914.5 611.5V629.5M921.5 611.5V629.5M928.5 611.5V629.5M935.5 611.5V629.5M942.5 611.5V629.5M949.5 611.5V629.5M956.5 611.5V629.5M963.5 611.5V629.5M970.5 611.5V629.5M977.5 611.5V629.5M984.5 611.5V629.5M991.5 611.5V629.5M998.5 611.5V629.5M754.5 629.5V650.5M761.5 629.5V650.5M768.5 629.5V650.5M775.5 629.5V650.5M782.5 629.5V650.5M789.5 629.5V650.5M795.5 629.5V650.5M802.5 629.5V650.5M809.5 629.5V650.5M816.5 629.5V650.5M823.5 629.5V650.5M830.5 629.5V650.5M837.5 629.5V650.5M844.5 629.5V650.5M851.5 629.5V650.5M858.5 629.5V650.5M865.5 629.5V650.5M872.5 629.5V650.5M879.5 629.5V650.5M886.5 629.5V650.5M893.5 629.5V650.5M900.5 629.5V650.5M907.5 629.5V650.5M914.5 629.5V650.5M921.5 629.5V650.5M928.5 629.5V650.5M935.5 629.5V650.5M942.5 629.5V650.5M949.5 629.5V650.5M956.5 629.5V650.5M963.5 629.5V650.5M970.5 629.5V650.5M977.5 629.5V650.5M984.5 629.5V650.5M991.5 629.5V650.5M998.5 629.5V650.5" stroke="#37340f" stroke-width="1" fill="none"/><path d="M816 611.5V650.5M884 611.5V650.5M953 611.5V650.5" stroke="#37340f" stroke-width="1.5" fill="none"/><path d="M751 615V626M758 615V626M765 615V626M772 615V626M779 615V626M786 615V626M792 615V626M799 615V626M806 615V626M813 615V626M820 615V626M827 615V626M834 615V626M841 615V626M848 615V626M855 615V626M862 615V626M869 615V626M876 615V626M883 615V626M890 615V626M897 615V626M904 615V626M911 615V626M918 615V626M925 615V626M932 615V626M939 615V626M946 615V626M953 615V626M960 615V626M967 615V626M974 615V626M981 615V626M988 615V626M995 615V626M1002 615V626M751 634V646M758 634V646M765 634V646M772 634V646M779 634V646M786 634V646M792 634V646M799 634V646M806 634V646M813 634V646M820 634V646M827 634V646M834 634V646M841 634V646M848 634V646M855 634V646M862 634V646M869 634V646M876 634V646M883 634V646M890 634V646M897 634V646M904 634V646M911 634V646M918 634V646M925 634V646M932 634V646M939 634V646M946 634V646M953 634V646M960 634V646M967 634V646M974 634V646M981 634V646M988 634V646M995 634V646M1002 634V646M737 615V626M737 634V646" stroke="#59540f" stroke-width="1.8" stroke-dasharray="3 1.6" fill="none" opacity="0.75"/><path d="M727.5 629.5V650.5H999.5L1005.5 644.5V629.5" fill="none" stroke="#d8242a" stroke-width="1.3" stroke-dasharray="3 2"/><path d="M727.5 629.5H1005.5" stroke="#d8242a" stroke-width="1.2"/><path d="M736 606.8 H998.5 Q1008.5 606.8 1008.5 616.8 V643.9 Q1008.5 653.9 998.5 653.9 H736" fill="none" stroke="#7a7a7a" stroke-width="1.1"/><path d="M736 594.5 H725 Q720 594.5 720 598.5 V605.8 Q720 609.8 725 609.8 H736" fill="none" stroke="#8c8c8c" stroke-width="1"/><path d="M737 65.5 Q722 65.5 722 72 Q722 80 737 80.5" fill="none" stroke="#8c8c8c" stroke-width="1"/><path d="M726 58H718.8V66" fill="none" stroke="#3f5f3f" stroke-width="1.3"/><path d="M1029.5 86.5H1314.5Q1320.5 87.5 1321.5 93.5V118.5Q1320.5 124.5 1314.5 125.5H1029.5Q1023.5 124.5 1022.5 118.5V93.5Q1023.5 87.5 1029.5 86.5Z" fill="#f9f397" stroke="#37340f" stroke-width="1.2"/><path d="M1022.5 106.5H1321.5M1030.5 86.5V106.5M1037.5 86.5V106.5M1044.5 86.5V106.5M1051.5 86.5V106.5M1059.5 86.5V106.5M1066.5 86.5V106.5M1073.5 86.5V106.5M1081.5 86.5V106.5M1088.5 86.5V106.5M1095.5 86.5V106.5M1102.5 86.5V106.5M1110.5 86.5V106.5M1117.5 86.5V106.5M1124.5 86.5V106.5M1132.5 86.5V106.5M1139.5 86.5V106.5M1146.5 86.5V106.5M1153.5 86.5V106.5M1161.5 86.5V106.5M1168.5 86.5V106.5M1175.5 86.5V106.5M1183.5 86.5V106.5M1190.5 86.5V106.5M1197.5 86.5V106.5M1204.5 86.5V106.5M1212.5 86.5V106.5M1219.5 86.5V106.5M1226.5 86.5V106.5M1234.5 86.5V106.5M1241.5 86.5V106.5M1248.5 86.5V106.5M1255.5 86.5V106.5M1263.5 86.5V106.5M1270.5 86.5V106.5M1277.5 86.5V106.5M1284.5 86.5V106.5M1292.5 86.5V106.5M1299.5 86.5V106.5M1306.5 86.5V106.5M1314.5 86.5V106.5M1030.5 106.5V125.5M1038.5 106.5V125.5M1045.5 106.5V125.5M1053.5 106.5V125.5M1061.5 106.5V125.5M1068.5 106.5V125.5M1076.5 106.5V125.5M1084.5 106.5V125.5M1091.5 106.5V125.5M1099.5 106.5V125.5M1107.5 106.5V125.5M1114.5 106.5V125.5M1122.5 106.5V125.5M1129.5 106.5V125.5M1137.5 106.5V125.5M1145.5 106.5V125.5M1152.5 106.5V125.5M1160.5 106.5V125.5M1168.5 106.5V125.5M1175.5 106.5V125.5M1183.5 106.5V125.5M1191.5 106.5V125.5M1198.5 106.5V125.5M1206.5 106.5V125.5M1214.5 106.5V125.5M1221.5 106.5V125.5M1229.5 106.5V125.5M1237.5 106.5V125.5M1244.5 106.5V125.5M1252.5 106.5V125.5M1260.5 106.5V125.5M1267.5 106.5V125.5M1275.5 106.5V125.5M1283.5 106.5V125.5M1290.5 106.5V125.5M1298.5 106.5V125.5M1306.5 106.5V125.5M1313.5 106.5V125.5" stroke="#37340f" stroke-width="1" fill="none"/><path d="M1092 86.5V125.5M1174 86.5V125.5M1256 86.5V125.5" stroke="#37340f" stroke-width="1.5" fill="none"/><path d="M1026 91V103M1034 91V103M1041 91V103M1048 91V103M1056 91V103M1063 91V103M1070 91V103M1077 91V103M1085 91V103M1092 91V103M1099 91V103M1107 91V103M1114 91V103M1121 91V103M1128 91V103M1136 91V103M1143 91V103M1150 91V103M1158 91V103M1165 91V103M1172 91V103M1179 91V103M1187 91V103M1194 91V103M1201 91V103M1209 91V103M1216 91V103M1223 91V103M1230 91V103M1238 91V103M1245 91V103M1252 91V103M1259 91V103M1267 91V103M1274 91V103M1281 91V103M1289 91V103M1296 91V103M1303 91V103M1310 91V103M1318 91V103M1027 110V122M1034 110V122M1042 110V122M1050 110V122M1057 110V122M1065 110V122M1073 110V122M1080 110V122M1088 110V122M1096 110V122M1103 110V122M1111 110V122M1119 110V122M1126 110V122M1134 110V122M1141 110V122M1149 110V122M1157 110V122M1164 110V122M1172 110V122M1180 110V122M1187 110V122M1195 110V122M1203 110V122M1210 110V122M1218 110V122M1226 110V122M1233 110V122M1241 110V122M1249 110V122M1256 110V122M1264 110V122M1272 110V122M1279 110V122M1287 110V122M1295 110V122M1302 110V122M1310 110V122M1318 110V122" stroke="#59540f" stroke-width="1.8" stroke-dasharray="3 1.6" fill="none" opacity="0.75"/><path d="M1027.8 129.4Q1018.8 129.4 1018.8 118.4V93.5Q1018.8 82.5 1029.8 82.5H1314.4Q1325.4 82.5 1325.4 93.5V118.4Q1325.4 129.4 1314.4 129.4H1312.4" fill="none" stroke="#7a7a7a" stroke-width="1.1"/><path d="M1029.5 143.5H1314.5Q1320.5 144.6 1321.5 150.5V173.5Q1320.5 179.4 1314.5 180.5H1029.5Q1023.5 179.4 1022.5 173.5V150.5Q1023.5 144.6 1029.5 143.5Z" fill="#f9f397" stroke="#37340f" stroke-width="1.2"/><path d="M1022.5 162.5H1321.5M1028.5 143.5V162.5M1034.5 143.5V162.5M1039.5 143.5V162.5M1045.5 143.5V162.5M1050.5 143.5V162.5M1056.5 143.5V162.5M1062.5 143.5V162.5M1067.5 143.5V162.5M1073.5 143.5V162.5M1079.5 143.5V162.5M1084.5 143.5V162.5M1090.5 143.5V162.5M1096.5 143.5V162.5M1101.5 143.5V162.5M1107.5 143.5V162.5M1112.5 143.5V162.5M1118.5 143.5V162.5M1124.5 143.5V162.5M1129.5 143.5V162.5M1135.5 143.5V162.5M1141.5 143.5V162.5M1146.5 143.5V162.5M1152.5 143.5V162.5M1158.5 143.5V162.5M1163.5 143.5V162.5M1169.5 143.5V162.5M1174.5 143.5V162.5M1180.5 143.5V162.5M1186.5 143.5V162.5M1191.5 143.5V162.5M1197.5 143.5V162.5M1203.5 143.5V162.5M1208.5 143.5V162.5M1214.5 143.5V162.5M1219.5 143.5V162.5M1225.5 143.5V162.5M1231.5 143.5V162.5M1236.5 143.5V162.5M1242.5 143.5V162.5M1248.5 143.5V162.5M1253.5 143.5V162.5M1259.5 143.5V162.5M1265.5 143.5V162.5M1270.5 143.5V162.5M1276.5 143.5V162.5M1281.5 143.5V162.5M1287.5 143.5V162.5M1293.5 143.5V162.5M1298.5 143.5V162.5M1304.5 143.5V162.5M1310.5 143.5V162.5M1315.5 143.5V162.5M1028.5 162.5V180.5M1034.5 162.5V180.5M1039.5 162.5V180.5M1045.5 162.5V180.5M1050.5 162.5V180.5M1056.5 162.5V180.5M1062.5 162.5V180.5M1067.5 162.5V180.5M1073.5 162.5V180.5M1079.5 162.5V180.5M1084.5 162.5V180.5M1090.5 162.5V180.5M1096.5 162.5V180.5M1101.5 162.5V180.5M1107.5 162.5V180.5M1112.5 162.5V180.5M1118.5 162.5V180.5M1124.5 162.5V180.5M1129.5 162.5V180.5M1135.5 162.5V180.5M1141.5 162.5V180.5M1146.5 162.5V180.5M1152.5 162.5V180.5M1158.5 162.5V180.5M1163.5 162.5V180.5M1169.5 162.5V180.5M1174.5 162.5V180.5M1180.5 162.5V180.5M1186.5 162.5V180.5M1191.5 162.5V180.5M1197.5 162.5V180.5M1203.5 162.5V180.5M1208.5 162.5V180.5M1214.5 162.5V180.5M1219.5 162.5V180.5M1225.5 162.5V180.5M1231.5 162.5V180.5M1236.5 162.5V180.5M1242.5 162.5V180.5M1248.5 162.5V180.5M1253.5 162.5V180.5M1259.5 162.5V180.5M1265.5 162.5V180.5M1270.5 162.5V180.5M1276.5 162.5V180.5M1281.5 162.5V180.5M1287.5 162.5V180.5M1293.5 162.5V180.5M1298.5 162.5V180.5M1304.5 162.5V180.5M1310.5 162.5V180.5M1315.5 162.5V180.5" stroke="#37340f" stroke-width="1" fill="none"/><path d="M1092 143.5V180.5M1174 143.5V180.5M1256 143.5V180.5" stroke="#37340f" stroke-width="1.5" fill="none"/><path d="M1026 147V158M1031 147V158M1037 147V158M1043 147V158M1048 147V158M1054 147V158M1059 147V158M1065 147V158M1071 147V158M1076 147V158M1082 147V158M1088 147V158M1093 147V158M1099 147V158M1104 147V158M1110 147V158M1116 147V158M1121 147V158M1127 147V158M1133 147V158M1138 147V158M1144 147V158M1150 147V158M1155 147V158M1161 147V158M1166 147V158M1172 147V158M1178 147V158M1183 147V158M1189 147V158M1195 147V158M1200 147V158M1206 147V158M1212 147V158M1217 147V158M1223 147V158M1228 147V158M1234 147V158M1240 147V158M1245 147V158M1251 147V158M1257 147V158M1262 147V158M1268 147V158M1274 147V158M1279 147V158M1285 147V158M1290 147V158M1296 147V158M1302 147V158M1307 147V158M1313 147V158M1319 147V158M1026 166V176M1031 166V176M1037 166V176M1043 166V176M1048 166V176M1054 166V176M1059 166V176M1065 166V176M1071 166V176M1076 166V176M1082 166V176M1088 166V176M1093 166V176M1099 166V176M1104 166V176M1110 166V176M1116 166V176M1121 166V176M1127 166V176M1133 166V176M1138 166V176M1144 166V176M1150 166V176M1155 166V176M1161 166V176M1166 166V176M1172 166V176M1178 166V176M1183 166V176M1189 166V176M1195 166V176M1200 166V176M1206 166V176M1212 166V176M1217 166V176M1223 166V176M1228 166V176M1234 166V176M1240 166V176M1245 166V176M1251 166V176M1257 166V176M1262 166V176M1268 166V176M1274 166V176M1279 166V176M1285 166V176M1290 166V176M1296 166V176M1302 166V176M1307 166V176M1313 166V176M1319 166V176" stroke="#59540f" stroke-width="2.2" stroke-dasharray="3 1.6" fill="none" opacity="0.75"/><path d="M1314.4 183.8H1029.8Q1018.8 183.8 1018.8 172.8V150.8Q1018.8 139.8 1029.8 139.8H1314.4Q1325.4 139.8 1325.4 150.8V172.8Q1325.4 183.8 1314.4 183.8" fill="none" stroke="#7a7a7a" stroke-width="1.1"/><path d="M1029.5 198.5H1314.5Q1320.5 199.6 1321.5 205.5V227.5Q1320.5 233.4 1314.5 234.5H1029.5Q1023.5 233.4 1022.5 227.5V205.5Q1023.5 199.6 1029.5 198.5Z" fill="#f9f397" stroke="#37340f" stroke-width="1.2"/><path d="M1022.5 216.5H1321.5M1028.5 198.5V216.5M1034.5 198.5V216.5M1039.5 198.5V216.5M1045.5 198.5V216.5M1050.5 198.5V216.5M1056.5 198.5V216.5M1062.5 198.5V216.5M1067.5 198.5V216.5M1073.5 198.5V216.5M1079.5 198.5V216.5M1084.5 198.5V216.5M1090.5 198.5V216.5M1096.5 198.5V216.5M1101.5 198.5V216.5M1107.5 198.5V216.5M1112.5 198.5V216.5M1118.5 198.5V216.5M1124.5 198.5V216.5M1129.5 198.5V216.5M1135.5 198.5V216.5M1141.5 198.5V216.5M1146.5 198.5V216.5M1152.5 198.5V216.5M1158.5 198.5V216.5M1163.5 198.5V216.5M1169.5 198.5V216.5M1174.5 198.5V216.5M1180.5 198.5V216.5M1186.5 198.5V216.5M1191.5 198.5V216.5M1197.5 198.5V216.5M1203.5 198.5V216.5M1208.5 198.5V216.5M1214.5 198.5V216.5M1219.5 198.5V216.5M1225.5 198.5V216.5M1231.5 198.5V216.5M1236.5 198.5V216.5M1242.5 198.5V216.5M1248.5 198.5V216.5M1253.5 198.5V216.5M1259.5 198.5V216.5M1265.5 198.5V216.5M1270.5 198.5V216.5M1276.5 198.5V216.5M1281.5 198.5V216.5M1287.5 198.5V216.5M1293.5 198.5V216.5M1298.5 198.5V216.5M1304.5 198.5V216.5M1310.5 198.5V216.5M1315.5 198.5V216.5M1028.5 216.5V234.5M1034.5 216.5V234.5M1039.5 216.5V234.5M1045.5 216.5V234.5M1050.5 216.5V234.5M1056.5 216.5V234.5M1062.5 216.5V234.5M1067.5 216.5V234.5M1073.5 216.5V234.5M1079.5 216.5V234.5M1084.5 216.5V234.5M1090.5 216.5V234.5M1096.5 216.5V234.5M1101.5 216.5V234.5M1107.5 216.5V234.5M1112.5 216.5V234.5M1118.5 216.5V234.5M1124.5 216.5V234.5M1129.5 216.5V234.5M1135.5 216.5V234.5M1141.5 216.5V234.5M1146.5 216.5V234.5M1152.5 216.5V234.5M1158.5 216.5V234.5M1163.5 216.5V234.5M1169.5 216.5V234.5M1174.5 216.5V234.5M1180.5 216.5V234.5M1186.5 216.5V234.5M1191.5 216.5V234.5M1197.5 216.5V234.5M1203.5 216.5V234.5M1208.5 216.5V234.5M1214.5 216.5V234.5M1219.5 216.5V234.5M1225.5 216.5V234.5M1231.5 216.5V234.5M1236.5 216.5V234.5M1242.5 216.5V234.5M1248.5 216.5V234.5M1253.5 216.5V234.5M1259.5 216.5V234.5M1265.5 216.5V234.5M1270.5 216.5V234.5M1276.5 216.5V234.5M1281.5 216.5V234.5M1287.5 216.5V234.5M1293.5 216.5V234.5M1298.5 216.5V234.5M1304.5 216.5V234.5M1310.5 216.5V234.5M1315.5 216.5V234.5" stroke="#37340f" stroke-width="1" fill="none"/><path d="M1092 198.5V234.5M1174 198.5V234.5M1256 198.5V234.5" stroke="#37340f" stroke-width="1.5" fill="none"/><path d="M1026 202V213M1031 202V213M1037 202V213M1043 202V213M1048 202V213M1054 202V213M1059 202V213M1065 202V213M1071 202V213M1076 202V213M1082 202V213M1088 202V213M1093 202V213M1099 202V213M1104 202V213M1110 202V213M1116 202V213M1121 202V213M1127 202V213M1133 202V213M1138 202V213M1144 202V213M1150 202V213M1155 202V213M1161 202V213M1166 202V213M1172 202V213M1178 202V213M1183 202V213M1189 202V213M1195 202V213M1200 202V213M1206 202V213M1212 202V213M1217 202V213M1223 202V213M1228 202V213M1234 202V213M1240 202V213M1245 202V213M1251 202V213M1257 202V213M1262 202V213M1268 202V213M1274 202V213M1279 202V213M1285 202V213M1290 202V213M1296 202V213M1302 202V213M1307 202V213M1313 202V213M1319 202V213M1026 220V231M1031 220V231M1037 220V231M1043 220V231M1048 220V231M1054 220V231M1059 220V231M1065 220V231M1071 220V231M1076 220V231M1082 220V231M1088 220V231M1093 220V231M1099 220V231M1104 220V231M1110 220V231M1116 220V231M1121 220V231M1127 220V231M1133 220V231M1138 220V231M1144 220V231M1150 220V231M1155 220V231M1161 220V231M1166 220V231M1172 220V231M1178 220V231M1183 220V231M1189 220V231M1195 220V231M1200 220V231M1206 220V231M1212 220V231M1217 220V231M1223 220V231M1228 220V231M1234 220V231M1240 220V231M1245 220V231M1251 220V231M1257 220V231M1262 220V231M1268 220V231M1274 220V231M1279 220V231M1285 220V231M1290 220V231M1296 220V231M1302 220V231M1307 220V231M1313 220V231M1319 220V231" stroke="#59540f" stroke-width="2.2" stroke-dasharray="3 1.6" fill="none" opacity="0.75"/><path d="M1314.4 238.4H1029.8Q1018.8 238.4 1018.8 227.4V205.3Q1018.8 194.3 1029.8 194.3H1314.4Q1325.4 194.3 1325.4 205.3V227.4Q1325.4 238.4 1314.4 238.4" fill="none" stroke="#7a7a7a" stroke-width="1.1"/><path d="M1029.5 253.5H1314.5Q1320.5 254.6 1321.5 260.5V285.5Q1320.5 291.4 1314.5 292.5H1029.5Q1023.5 291.4 1022.5 285.5V260.5Q1023.5 254.6 1029.5 253.5Z" fill="#f9f397" stroke="#37340f" stroke-width="1.2"/><path d="M1022.5 271.5H1321.5M1030.5 253.5V271.5M1037.5 253.5V271.5M1044.5 253.5V271.5M1051.5 253.5V271.5M1059.5 253.5V271.5M1066.5 253.5V271.5M1073.5 253.5V271.5M1081.5 253.5V271.5M1088.5 253.5V271.5M1095.5 253.5V271.5M1102.5 253.5V271.5M1110.5 253.5V271.5M1117.5 253.5V271.5M1124.5 253.5V271.5M1132.5 253.5V271.5M1139.5 253.5V271.5M1146.5 253.5V271.5M1153.5 253.5V271.5M1161.5 253.5V271.5M1168.5 253.5V271.5M1175.5 253.5V271.5M1183.5 253.5V271.5M1190.5 253.5V271.5M1197.5 253.5V271.5M1204.5 253.5V271.5M1212.5 253.5V271.5M1219.5 253.5V271.5M1226.5 253.5V271.5M1234.5 253.5V271.5M1241.5 253.5V271.5M1248.5 253.5V271.5M1255.5 253.5V271.5M1263.5 253.5V271.5M1270.5 253.5V271.5M1277.5 253.5V271.5M1284.5 253.5V271.5M1292.5 253.5V271.5M1299.5 253.5V271.5M1306.5 253.5V271.5M1314.5 253.5V271.5M1030.5 271.5V292.5M1038.5 271.5V292.5M1045.5 271.5V292.5M1053.5 271.5V292.5M1061.5 271.5V292.5M1068.5 271.5V292.5M1076.5 271.5V292.5M1084.5 271.5V292.5M1091.5 271.5V292.5M1099.5 271.5V292.5M1107.5 271.5V292.5M1114.5 271.5V292.5M1122.5 271.5V292.5M1129.5 271.5V292.5M1137.5 271.5V292.5M1145.5 271.5V292.5M1152.5 271.5V292.5M1160.5 271.5V292.5M1168.5 271.5V292.5M1175.5 271.5V292.5M1183.5 271.5V292.5M1191.5 271.5V292.5M1198.5 271.5V292.5M1206.5 271.5V292.5M1214.5 271.5V292.5M1221.5 271.5V292.5M1229.5 271.5V292.5M1237.5 271.5V292.5M1244.5 271.5V292.5M1252.5 271.5V292.5M1260.5 271.5V292.5M1267.5 271.5V292.5M1275.5 271.5V292.5M1283.5 271.5V292.5M1290.5 271.5V292.5M1298.5 271.5V292.5M1306.5 271.5V292.5M1313.5 271.5V292.5" stroke="#37340f" stroke-width="1" fill="none"/><path d="M1092 253.5V292.5M1174 253.5V292.5M1256 253.5V292.5" stroke="#37340f" stroke-width="1.5" fill="none"/><path d="M1026 257V268M1034 257V268M1041 257V268M1048 257V268M1056 257V268M1063 257V268M1070 257V268M1077 257V268M1085 257V268M1092 257V268M1099 257V268M1107 257V268M1114 257V268M1121 257V268M1128 257V268M1136 257V268M1143 257V268M1150 257V268M1158 257V268M1165 257V268M1172 257V268M1179 257V268M1187 257V268M1194 257V268M1201 257V268M1209 257V268M1216 257V268M1223 257V268M1230 257V268M1238 257V268M1245 257V268M1252 257V268M1259 257V268M1267 257V268M1274 257V268M1281 257V268M1289 257V268M1296 257V268M1303 257V268M1310 257V268M1318 257V268M1027 276V288M1034 276V288M1042 276V288M1050 276V288M1057 276V288M1065 276V288M1073 276V288M1080 276V288M1088 276V288M1096 276V288M1103 276V288M1111 276V288M1119 276V288M1126 276V288M1134 276V288M1141 276V288M1149 276V288M1157 276V288M1164 276V288M1172 276V288M1180 276V288M1187 276V288M1195 276V288M1203 276V288M1210 276V288M1218 276V288M1226 276V288M1233 276V288M1241 276V288M1249 276V288M1256 276V288M1264 276V288M1272 276V288M1279 276V288M1287 276V288M1295 276V288M1302 276V288M1310 276V288M1318 276V288" stroke="#59540f" stroke-width="1.8" stroke-dasharray="3 1.6" fill="none" opacity="0.75"/><path d="M1314.4 295.8H1029.8Q1018.8 295.8 1018.8 284.8V260Q1018.8 249 1029.8 249H1314.4Q1325.4 249 1325.4 260V284.8Q1325.4 295.8 1314.4 295.8" fill="none" stroke="#7a7a7a" stroke-width="1.1"/><path d="M1029.5 440.5H1314.5Q1320.5 441.6 1321.5 447.5V471.5Q1320.5 477.4 1314.5 478.5H1029.5Q1023.5 477.4 1022.5 471.5V447.5Q1023.5 441.6 1029.5 440.5Z" fill="#f9f397" stroke="#37340f" stroke-width="1.2"/><path d="M1022.5 459.5H1321.5M1030.5 440.5V459.5M1037.5 440.5V459.5M1044.5 440.5V459.5M1051.5 440.5V459.5M1059.5 440.5V459.5M1066.5 440.5V459.5M1073.5 440.5V459.5M1081.5 440.5V459.5M1088.5 440.5V459.5M1095.5 440.5V459.5M1102.5 440.5V459.5M1110.5 440.5V459.5M1117.5 440.5V459.5M1124.5 440.5V459.5M1132.5 440.5V459.5M1139.5 440.5V459.5M1146.5 440.5V459.5M1153.5 440.5V459.5M1161.5 440.5V459.5M1168.5 440.5V459.5M1175.5 440.5V459.5M1183.5 440.5V459.5M1190.5 440.5V459.5M1197.5 440.5V459.5M1204.5 440.5V459.5M1212.5 440.5V459.5M1219.5 440.5V459.5M1226.5 440.5V459.5M1234.5 440.5V459.5M1241.5 440.5V459.5M1248.5 440.5V459.5M1255.5 440.5V459.5M1263.5 440.5V459.5M1270.5 440.5V459.5M1277.5 440.5V459.5M1284.5 440.5V459.5M1292.5 440.5V459.5M1299.5 440.5V459.5M1306.5 440.5V459.5M1314.5 440.5V459.5M1030.5 459.5V478.5M1038.5 459.5V478.5M1045.5 459.5V478.5M1053.5 459.5V478.5M1061.5 459.5V478.5M1068.5 459.5V478.5M1076.5 459.5V478.5M1084.5 459.5V478.5M1091.5 459.5V478.5M1099.5 459.5V478.5M1107.5 459.5V478.5M1114.5 459.5V478.5M1122.5 459.5V478.5M1129.5 459.5V478.5M1137.5 459.5V478.5M1145.5 459.5V478.5M1152.5 459.5V478.5M1160.5 459.5V478.5M1168.5 459.5V478.5M1175.5 459.5V478.5M1183.5 459.5V478.5M1191.5 459.5V478.5M1198.5 459.5V478.5M1206.5 459.5V478.5M1214.5 459.5V478.5M1221.5 459.5V478.5M1229.5 459.5V478.5M1237.5 459.5V478.5M1244.5 459.5V478.5M1252.5 459.5V478.5M1260.5 459.5V478.5M1267.5 459.5V478.5M1275.5 459.5V478.5M1283.5 459.5V478.5M1290.5 459.5V478.5M1298.5 459.5V478.5M1306.5 459.5V478.5M1313.5 459.5V478.5" stroke="#37340f" stroke-width="1" fill="none"/><path d="M1092 440.5V478.5M1174 440.5V478.5M1256 440.5V478.5" stroke="#37340f" stroke-width="1.5" fill="none"/><path d="M1026 444V456M1034 444V456M1041 444V456M1048 444V456M1056 444V456M1063 444V456M1070 444V456M1077 444V456M1085 444V456M1092 444V456M1099 444V456M1107 444V456M1114 444V456M1121 444V456M1128 444V456M1136 444V456M1143 444V456M1150 444V456M1158 444V456M1165 444V456M1172 444V456M1179 444V456M1187 444V456M1194 444V456M1201 444V456M1209 444V456M1216 444V456M1223 444V456M1230 444V456M1238 444V456M1245 444V456M1252 444V456M1259 444V456M1267 444V456M1274 444V456M1281 444V456M1289 444V456M1296 444V456M1303 444V456M1310 444V456M1318 444V456M1027 464V475M1034 464V475M1042 464V475M1050 464V475M1057 464V475M1065 464V475M1073 464V475M1080 464V475M1088 464V475M1096 464V475M1103 464V475M1111 464V475M1119 464V475M1126 464V475M1134 464V475M1141 464V475M1149 464V475M1157 464V475M1164 464V475M1172 464V475M1180 464V475M1187 464V475M1195 464V475M1203 464V475M1210 464V475M1218 464V475M1226 464V475M1233 464V475M1241 464V475M1249 464V475M1256 464V475M1264 464V475M1272 464V475M1279 464V475M1287 464V475M1295 464V475M1302 464V475M1310 464V475M1318 464V475" stroke="#59540f" stroke-width="1.8" stroke-dasharray="3 1.6" fill="none" opacity="0.75"/><path d="M1314.4 482.4H1029.8Q1018.8 482.4 1018.8 471.4V444.3Q1018.8 433.3 1029.8 433.3H1314.4Q1325.4 433.3 1325.4 444.3V471.4Q1325.4 482.4 1314.4 482.4" fill="none" stroke="#7a7a7a" stroke-width="1.1"/><path d="M1029.5 497.5H1314.5Q1320.5 498.6 1321.5 504.5V529.5Q1320.5 535.5 1314.5 536.5H1029.5Q1023.5 535.5 1022.5 529.5V504.5Q1023.5 498.6 1029.5 497.5Z" fill="#f9f397" stroke="#37340f" stroke-width="1.2"/><path d="M1022.5 516.5H1321.5M1028.5 497.5V516.5M1034.5 497.5V516.5M1039.5 497.5V516.5M1045.5 497.5V516.5M1050.5 497.5V516.5M1056.5 497.5V516.5M1062.5 497.5V516.5M1067.5 497.5V516.5M1073.5 497.5V516.5M1079.5 497.5V516.5M1084.5 497.5V516.5M1090.5 497.5V516.5M1096.5 497.5V516.5M1101.5 497.5V516.5M1107.5 497.5V516.5M1112.5 497.5V516.5M1118.5 497.5V516.5M1124.5 497.5V516.5M1129.5 497.5V516.5M1135.5 497.5V516.5M1141.5 497.5V516.5M1146.5 497.5V516.5M1152.5 497.5V516.5M1158.5 497.5V516.5M1163.5 497.5V516.5M1169.5 497.5V516.5M1174.5 497.5V516.5M1180.5 497.5V516.5M1186.5 497.5V516.5M1191.5 497.5V516.5M1197.5 497.5V516.5M1203.5 497.5V516.5M1208.5 497.5V516.5M1214.5 497.5V516.5M1219.5 497.5V516.5M1225.5 497.5V516.5M1231.5 497.5V516.5M1236.5 497.5V516.5M1242.5 497.5V516.5M1248.5 497.5V516.5M1253.5 497.5V516.5M1259.5 497.5V516.5M1265.5 497.5V516.5M1270.5 497.5V516.5M1276.5 497.5V516.5M1281.5 497.5V516.5M1287.5 497.5V516.5M1293.5 497.5V516.5M1298.5 497.5V516.5M1304.5 497.5V516.5M1310.5 497.5V516.5M1315.5 497.5V516.5M1028.5 516.5V536.5M1034.5 516.5V536.5M1039.5 516.5V536.5M1045.5 516.5V536.5M1050.5 516.5V536.5M1056.5 516.5V536.5M1062.5 516.5V536.5M1067.5 516.5V536.5M1073.5 516.5V536.5M1079.5 516.5V536.5M1084.5 516.5V536.5M1090.5 516.5V536.5M1096.5 516.5V536.5M1101.5 516.5V536.5M1107.5 516.5V536.5M1112.5 516.5V536.5M1118.5 516.5V536.5M1124.5 516.5V536.5M1129.5 516.5V536.5M1135.5 516.5V536.5M1141.5 516.5V536.5M1146.5 516.5V536.5M1152.5 516.5V536.5M1158.5 516.5V536.5M1163.5 516.5V536.5M1169.5 516.5V536.5M1174.5 516.5V536.5M1180.5 516.5V536.5M1186.5 516.5V536.5M1191.5 516.5V536.5M1197.5 516.5V536.5M1203.5 516.5V536.5M1208.5 516.5V536.5M1214.5 516.5V536.5M1219.5 516.5V536.5M1225.5 516.5V536.5M1231.5 516.5V536.5M1236.5 516.5V536.5M1242.5 516.5V536.5M1248.5 516.5V536.5M1253.5 516.5V536.5M1259.5 516.5V536.5M1265.5 516.5V536.5M1270.5 516.5V536.5M1276.5 516.5V536.5M1281.5 516.5V536.5M1287.5 516.5V536.5M1293.5 516.5V536.5M1298.5 516.5V536.5M1304.5 516.5V536.5M1310.5 516.5V536.5M1315.5 516.5V536.5" stroke="#37340f" stroke-width="1" fill="none"/><path d="M1092 497.5V536.5M1174 497.5V536.5M1256 497.5V536.5" stroke="#37340f" stroke-width="1.5" fill="none"/><path d="M1026 501V513M1031 501V513M1037 501V513M1043 501V513M1048 501V513M1054 501V513M1059 501V513M1065 501V513M1071 501V513M1076 501V513M1082 501V513M1088 501V513M1093 501V513M1099 501V513M1104 501V513M1110 501V513M1116 501V513M1121 501V513M1127 501V513M1133 501V513M1138 501V513M1144 501V513M1150 501V513M1155 501V513M1161 501V513M1166 501V513M1172 501V513M1178 501V513M1183 501V513M1189 501V513M1195 501V513M1200 501V513M1206 501V513M1212 501V513M1217 501V513M1223 501V513M1228 501V513M1234 501V513M1240 501V513M1245 501V513M1251 501V513M1257 501V513M1262 501V513M1268 501V513M1274 501V513M1279 501V513M1285 501V513M1290 501V513M1296 501V513M1302 501V513M1307 501V513M1313 501V513M1319 501V513M1026 520V532M1031 520V532M1037 520V532M1043 520V532M1048 520V532M1054 520V532M1059 520V532M1065 520V532M1071 520V532M1076 520V532M1082 520V532M1088 520V532M1093 520V532M1099 520V532M1104 520V532M1110 520V532M1116 520V532M1121 520V532M1127 520V532M1133 520V532M1138 520V532M1144 520V532M1150 520V532M1155 520V532M1161 520V532M1166 520V532M1172 520V532M1178 520V532M1183 520V532M1189 520V532M1195 520V532M1200 520V532M1206 520V532M1212 520V532M1217 520V532M1223 520V532M1228 520V532M1234 520V532M1240 520V532M1245 520V532M1251 520V532M1257 520V532M1262 520V532M1268 520V532M1274 520V532M1279 520V532M1285 520V532M1290 520V532M1296 520V532M1302 520V532M1307 520V532M1313 520V532M1319 520V532" stroke="#59540f" stroke-width="2.2" stroke-dasharray="3 1.6" fill="none" opacity="0.75"/><path d="M1314.4 540H1029.8Q1018.8 540 1018.8 529V504.3Q1018.8 493.3 1029.8 493.3M1316.4 493.3Q1325.4 493.3 1325.4 504.3V529Q1325.4 540 1314.4 540" fill="none" stroke="#7a7a7a" stroke-width="1.1"/><path d="M1029.5 553.5H1314.5Q1320.5 554.5 1321.5 560.5V586.5Q1320.5 592.5 1314.5 593.5H1029.5Q1023.5 592.5 1022.5 586.5V560.5Q1023.5 554.5 1029.5 553.5Z" fill="#f9f397" stroke="#37340f" stroke-width="1.2"/><path d="M1022.5 573.5H1321.5M1028.5 553.5V573.5M1034.5 553.5V573.5M1039.5 553.5V573.5M1045.5 553.5V573.5M1050.5 553.5V573.5M1056.5 553.5V573.5M1062.5 553.5V573.5M1067.5 553.5V573.5M1073.5 553.5V573.5M1079.5 553.5V573.5M1084.5 553.5V573.5M1090.5 553.5V573.5M1096.5 553.5V573.5M1101.5 553.5V573.5M1107.5 553.5V573.5M1112.5 553.5V573.5M1118.5 553.5V573.5M1124.5 553.5V573.5M1129.5 553.5V573.5M1135.5 553.5V573.5M1141.5 553.5V573.5M1146.5 553.5V573.5M1152.5 553.5V573.5M1158.5 553.5V573.5M1163.5 553.5V573.5M1169.5 553.5V573.5M1174.5 553.5V573.5M1180.5 553.5V573.5M1186.5 553.5V573.5M1191.5 553.5V573.5M1197.5 553.5V573.5M1203.5 553.5V573.5M1208.5 553.5V573.5M1214.5 553.5V573.5M1219.5 553.5V573.5M1225.5 553.5V573.5M1231.5 553.5V573.5M1236.5 553.5V573.5M1242.5 553.5V573.5M1248.5 553.5V573.5M1253.5 553.5V573.5M1259.5 553.5V573.5M1265.5 553.5V573.5M1270.5 553.5V573.5M1276.5 553.5V573.5M1281.5 553.5V573.5M1287.5 553.5V573.5M1293.5 553.5V573.5M1298.5 553.5V573.5M1304.5 553.5V573.5M1310.5 553.5V573.5M1315.5 553.5V573.5M1028.5 573.5V593.5M1034.5 573.5V593.5M1039.5 573.5V593.5M1045.5 573.5V593.5M1050.5 573.5V593.5M1056.5 573.5V593.5M1062.5 573.5V593.5M1067.5 573.5V593.5M1073.5 573.5V593.5M1079.5 573.5V593.5M1084.5 573.5V593.5M1090.5 573.5V593.5M1096.5 573.5V593.5M1101.5 573.5V593.5M1107.5 573.5V593.5M1112.5 573.5V593.5M1118.5 573.5V593.5M1124.5 573.5V593.5M1129.5 573.5V593.5M1135.5 573.5V593.5M1141.5 573.5V593.5M1146.5 573.5V593.5M1152.5 573.5V593.5M1158.5 573.5V593.5M1163.5 573.5V593.5M1169.5 573.5V593.5M1174.5 573.5V593.5M1180.5 573.5V593.5M1186.5 573.5V593.5M1191.5 573.5V593.5M1197.5 573.5V593.5M1203.5 573.5V593.5M1208.5 573.5V593.5M1214.5 573.5V593.5M1219.5 573.5V593.5M1225.5 573.5V593.5M1231.5 573.5V593.5M1236.5 573.5V593.5M1242.5 573.5V593.5M1248.5 573.5V593.5M1253.5 573.5V593.5M1259.5 573.5V593.5M1265.5 573.5V593.5M1270.5 573.5V593.5M1276.5 573.5V593.5M1281.5 573.5V593.5M1287.5 573.5V593.5M1293.5 573.5V593.5M1298.5 573.5V593.5M1304.5 573.5V593.5M1310.5 573.5V593.5M1315.5 573.5V593.5" stroke="#37340f" stroke-width="1" fill="none"/><path d="M1092 553.5V593.5M1174 553.5V593.5M1256 553.5V593.5" stroke="#37340f" stroke-width="1.5" fill="none"/><path d="M1026 558V570M1031 558V570M1037 558V570M1043 558V570M1048 558V570M1054 558V570M1059 558V570M1065 558V570M1071 558V570M1076 558V570M1082 558V570M1088 558V570M1093 558V570M1099 558V570M1104 558V570M1110 558V570M1116 558V570M1121 558V570M1127 558V570M1133 558V570M1138 558V570M1144 558V570M1150 558V570M1155 558V570M1161 558V570M1166 558V570M1172 558V570M1178 558V570M1183 558V570M1189 558V570M1195 558V570M1200 558V570M1206 558V570M1212 558V570M1217 558V570M1223 558V570M1228 558V570M1234 558V570M1240 558V570M1245 558V570M1251 558V570M1257 558V570M1262 558V570M1268 558V570M1274 558V570M1279 558V570M1285 558V570M1290 558V570M1296 558V570M1302 558V570M1307 558V570M1313 558V570M1319 558V570M1026 578V590M1031 578V590M1037 578V590M1043 578V590M1048 578V590M1054 578V590M1059 578V590M1065 578V590M1071 578V590M1076 578V590M1082 578V590M1088 578V590M1093 578V590M1099 578V590M1104 578V590M1110 578V590M1116 578V590M1121 578V590M1127 578V590M1133 578V590M1138 578V590M1144 578V590M1150 578V590M1155 578V590M1161 578V590M1166 578V590M1172 578V590M1178 578V590M1183 578V590M1189 578V590M1195 578V590M1200 578V590M1206 578V590M1212 578V590M1217 578V590M1223 578V590M1228 578V590M1234 578V590M1240 578V590M1245 578V590M1251 578V590M1257 578V590M1262 578V590M1268 578V590M1274 578V590M1279 578V590M1285 578V590M1290 578V590M1296 578V590M1302 578V590M1307 578V590M1313 578V590M1319 578V590" stroke="#59540f" stroke-width="2.2" stroke-dasharray="3 1.6" fill="none" opacity="0.75"/><path d="M1314.4 597.5H1029.8Q1018.8 597.5 1018.8 586.5V560.9Q1018.8 549.9 1029.8 549.9H1314.4Q1325.4 549.9 1325.4 560.9V586.5Q1325.4 597.5 1314.4 597.5" fill="none" stroke="#7a7a7a" stroke-width="1.1"/><path d="M1029.5 611.5H1314.5Q1320.5 612.5 1321.5 618.5V644.5Q1320.5 650.5 1314.5 651.5H1029.5Q1023.5 650.5 1022.5 644.5V618.5Q1023.5 612.5 1029.5 611.5Z" fill="#f9f397" stroke="#37340f" stroke-width="1.2"/><path d="M1022.5 630.5H1321.5M1030.5 611.5V630.5M1037.5 611.5V630.5M1044.5 611.5V630.5M1051.5 611.5V630.5M1059.5 611.5V630.5M1066.5 611.5V630.5M1073.5 611.5V630.5M1081.5 611.5V630.5M1088.5 611.5V630.5M1095.5 611.5V630.5M1102.5 611.5V630.5M1110.5 611.5V630.5M1117.5 611.5V630.5M1124.5 611.5V630.5M1132.5 611.5V630.5M1139.5 611.5V630.5M1146.5 611.5V630.5M1153.5 611.5V630.5M1161.5 611.5V630.5M1168.5 611.5V630.5M1175.5 611.5V630.5M1183.5 611.5V630.5M1190.5 611.5V630.5M1197.5 611.5V630.5M1204.5 611.5V630.5M1212.5 611.5V630.5M1219.5 611.5V630.5M1226.5 611.5V630.5M1234.5 611.5V630.5M1241.5 611.5V630.5M1248.5 611.5V630.5M1255.5 611.5V630.5M1263.5 611.5V630.5M1270.5 611.5V630.5M1277.5 611.5V630.5M1284.5 611.5V630.5M1292.5 611.5V630.5M1299.5 611.5V630.5M1306.5 611.5V630.5M1314.5 611.5V630.5M1030.5 630.5V651.5M1038.5 630.5V651.5M1045.5 630.5V651.5M1053.5 630.5V651.5M1061.5 630.5V651.5M1068.5 630.5V651.5M1076.5 630.5V651.5M1084.5 630.5V651.5M1091.5 630.5V651.5M1099.5 630.5V651.5M1107.5 630.5V651.5M1114.5 630.5V651.5M1122.5 630.5V651.5M1129.5 630.5V651.5M1137.5 630.5V651.5M1145.5 630.5V651.5M1152.5 630.5V651.5M1160.5 630.5V651.5M1168.5 630.5V651.5M1175.5 630.5V651.5M1183.5 630.5V651.5M1191.5 630.5V651.5M1198.5 630.5V651.5M1206.5 630.5V651.5M1214.5 630.5V651.5M1221.5 630.5V651.5M1229.5 630.5V651.5M1237.5 630.5V651.5M1244.5 630.5V651.5M1252.5 630.5V651.5M1260.5 630.5V651.5M1267.5 630.5V651.5M1275.5 630.5V651.5M1283.5 630.5V651.5M1290.5 630.5V651.5M1298.5 630.5V651.5M1306.5 630.5V651.5M1313.5 630.5V651.5" stroke="#37340f" stroke-width="1" fill="none"/><path d="M1092 611.5V651.5M1174 611.5V651.5M1256 611.5V651.5" stroke="#37340f" stroke-width="1.5" fill="none"/><path d="M1026 615V627M1034 615V627M1041 615V627M1048 615V627M1056 615V627M1063 615V627M1070 615V627M1077 615V627M1085 615V627M1092 615V627M1099 615V627M1107 615V627M1114 615V627M1121 615V627M1128 615V627M1136 615V627M1143 615V627M1150 615V627M1158 615V627M1165 615V627M1172 615V627M1179 615V627M1187 615V627M1194 615V627M1201 615V627M1209 615V627M1216 615V627M1223 615V627M1230 615V627M1238 615V627M1245 615V627M1252 615V627M1259 615V627M1267 615V627M1274 615V627M1281 615V627M1289 615V627M1296 615V627M1303 615V627M1310 615V627M1318 615V627M1027 635V647M1034 635V647M1042 635V647M1050 635V647M1057 635V647M1065 635V647M1073 635V647M1080 635V647M1088 635V647M1096 635V647M1103 635V647M1111 635V647M1119 635V647M1126 635V647M1134 635V647M1141 635V647M1149 635V647M1157 635V647M1164 635V647M1172 635V647M1180 635V647M1187 635V647M1195 635V647M1203 635V647M1210 635V647M1218 635V647M1226 635V647M1233 635V647M1241 635V647M1249 635V647M1256 635V647M1264 635V647M1272 635V647M1279 635V647M1287 635V647M1295 635V647M1302 635V647M1310 635V647M1318 635V647" stroke="#59540f" stroke-width="1.8" stroke-dasharray="3 1.6" fill="none" opacity="0.75"/><path d="M1022.5 630.5V651.5H1314.5L1321.5 644.5V630.5" fill="none" stroke="#d8242a" stroke-width="1.3" stroke-dasharray="3 2"/><path d="M1022.5 630.5H1321.5" stroke="#d8242a" stroke-width="1.2"/><path d="M1314.4 654.8H1029.8Q1018.8 654.8 1018.8 643.8V618.4Q1018.8 607.4 1029.8 607.4H1314.4Q1325.4 607.4 1325.4 618.4V643.8Q1325.4 654.8 1314.4 654.8" fill="none" stroke="#7a7a7a" stroke-width="1.1"/><rect x="1018.4" y="305.7" width="354.2" height="112" rx="12" fill="none" stroke="#8c8c8c" stroke-width="1"/><path d="M1243 309.8H1358L1366.5 318V404L1358 411.7H1243Z" fill="#fcdfdb" stroke="#3a3a3a" stroke-width="1"/><text x="1298.7" y="365.8" font-family="Liberation Sans" font-weight="bold" font-size="9.3" fill="#2a2222" textLength="20.3" lengthAdjust="spacingAndGlyphs">TMDV</text><rect x="1022.5" y="386.4" width="220.5" height="25.3" fill="#acE2f6" stroke="#37340f" stroke-width="1"/><path d="M1022.5 386.4H1041.3V411.7H1022.5Z" fill="#f4985a" stroke="#37340f" stroke-width="1"/><path d="M1053.9 386.4V411.7M1066.5 386.4V411.7M1079.1 386.4V411.7M1091.7 386.4V411.7M1104.3 386.4V411.7M1116.9 386.4V411.7M1129.5 386.4V411.7M1142.2 386.4V411.7M1154.8 386.4V411.7M1167.4 386.4V411.7M1180 386.4V411.7M1192.6 386.4V411.7M1205.2 386.4V411.7M1217.8 386.4V411.7M1230.4 386.4V411.7" stroke="#37340f" stroke-width="0.9"/><path d="M1032 391V407M1048 391V407M1060 391V407M1073 391V407M1085 391V407M1098 391V407M1111 391V407M1123 391V407M1136 391V407M1148 391V407M1161 391V407M1174 391V407M1186 391V407M1199 391V407M1211 391V407M1224 391V407M1237 391V407" stroke="#2f6a80" stroke-width="2" stroke-dasharray="2.6 1.4" fill="none" opacity="0.85"/><clipPath id="pk"><path d="M1030 306.9H1243.2V386.4H1019.6V317Q1020 307 1030 306.9Z"/></clipPath><g clip-path="url(#pk)"><rect x="1019" y="306" width="225" height="81" fill="#44a030"/><circle cx="1072.8" cy="350.2" r="2.5" fill="#42a02e"/><circle cx="1125.6" cy="353.1" r="2.9" fill="#74c84e"/><circle cx="1124.5" cy="350.7" r="2.1" fill="#3c962c"/><circle cx="1124.8" cy="373.4" r="2.7" fill="#3c962c"/><circle cx="1212.1" cy="325.3" r="2.1" fill="#42a02e"/><circle cx="1106.8" cy="308.1" r="3.2" fill="#4eaa36"/><circle cx="1189.1" cy="353.9" r="2.3" fill="#348f28"/><circle cx="1203.8" cy="328.3" r="2.9" fill="#62c044"/><circle cx="1179.3" cy="380.1" r="2.5" fill="#74c84e"/><circle cx="1148.6" cy="383.5" r="2" fill="#2a7e22"/><circle cx="1041.4" cy="317.7" r="2.2" fill="#3c962c"/><circle cx="1117.1" cy="356.7" r="2.3" fill="#42a02e"/><circle cx="1206" cy="352.5" r="2.8" fill="#62c044"/><circle cx="1150.2" cy="378.8" r="3" fill="#348f28"/><circle cx="1211.1" cy="385.7" r="3" fill="#4eaa36"/><circle cx="1175.8" cy="332.8" r="2.8" fill="#42a02e"/><circle cx="1146.9" cy="363.6" r="2.2" fill="#74c84e"/><circle cx="1240.5" cy="328.1" r="2" fill="#62c044"/><circle cx="1210.5" cy="385.6" r="2" fill="#74c84e"/><circle cx="1034.5" cy="378.2" r="1.8" fill="#62c044"/><circle cx="1191.5" cy="376.3" r="1.9" fill="#42a02e"/><circle cx="1189.9" cy="336.9" r="2.9" fill="#42a02e"/><circle cx="1216.6" cy="384.9" r="2.7" fill="#348f28"/><circle cx="1088.8" cy="313" r="2.9" fill="#348f28"/><circle cx="1231.8" cy="384.1" r="2.3" fill="#2a7e22"/><circle cx="1054.5" cy="310.3" r="3.4" fill="#2a7e22"/><circle cx="1100.1" cy="317.9" r="3.4" fill="#62c044"/><circle cx="1122.5" cy="348.2" r="3" fill="#42a02e"/><circle cx="1171.9" cy="315.1" r="3.6" fill="#74c84e"/><circle cx="1133" cy="341.2" r="3.1" fill="#4eaa36"/><circle cx="1229" cy="341.7" r="2.3" fill="#2a7e22"/><circle cx="1142.2" cy="307.8" r="2.5" fill="#42a02e"/><circle cx="1090" cy="336.8" r="2.9" fill="#4eaa36"/><circle cx="1033" cy="356.8" r="2.6" fill="#3c962c"/><circle cx="1224.7" cy="355.3" r="2.3" fill="#62c044"/><circle cx="1024.6" cy="311.7" r="3" fill="#2a7e22"/><circle cx="1075.8" cy="343.2" r="2.9" fill="#2a7e22"/><circle cx="1059.3" cy="321.6" r="3.2" fill="#74c84e"/><circle cx="1152.8" cy="330.8" r="2.5" fill="#74c84e"/><circle cx="1201.4" cy="384.1" r="3" fill="#4eaa36"/><circle cx="1088.9" cy="324.6" r="3.2" fill="#4eaa36"/><circle cx="1092.9" cy="360.8" r="3" fill="#348f28"/><circle cx="1042.4" cy="332.5" r="2.4" fill="#74c84e"/><circle cx="1069.8" cy="371.3" r="3.5" fill="#348f28"/><circle cx="1094.9" cy="358.6" r="3.4" fill="#62c044"/><circle cx="1080.1" cy="369.5" r="1.9" fill="#4eaa36"/><circle cx="1090.1" cy="373.4" r="2.8" fill="#74c84e"/><circle cx="1081.9" cy="371.1" r="3" fill="#74c84e"/><circle cx="1158.1" cy="353.8" r="2.6" fill="#42a02e"/><circle cx="1197.1" cy="328.5" r="2.4" fill="#62c044"/><circle cx="1084.5" cy="352.1" r="1.9" fill="#62c044"/><circle cx="1054.5" cy="307.3" r="3.5" fill="#42a02e"/><circle cx="1240.3" cy="341.4" r="3.5" fill="#3c962c"/><circle cx="1069.3" cy="366.2" r="3.3" fill="#3c962c"/><circle cx="1186.9" cy="383.5" r="2.8" fill="#4eaa36"/><circle cx="1212.2" cy="375.1" r="3.5" fill="#348f28"/><circle cx="1200.8" cy="310.5" r="3.4" fill="#3c962c"/><circle cx="1134.1" cy="322.7" r="3.4" fill="#62c044"/><circle cx="1148.6" cy="307.9" r="3.1" fill="#4eaa36"/><circle cx="1132.1" cy="325.9" r="1.8" fill="#42a02e"/><circle cx="1112.1" cy="381.6" r="2.9" fill="#2a7e22"/><circle cx="1047.6" cy="384.2" r="2.8" fill="#74c84e"/><circle cx="1194.5" cy="334.9" r="2.2" fill="#42a02e"/><circle cx="1218.1" cy="316.4" r="2.2" fill="#2a7e22"/><circle cx="1225.7" cy="371" r="3.3" fill="#348f28"/><circle cx="1128.6" cy="352.3" r="2.5" fill="#74c84e"/><circle cx="1080.3" cy="328.3" r="2.7" fill="#62c044"/><circle cx="1031" cy="332.6" r="3.3" fill="#74c84e"/><circle cx="1031.9" cy="317" r="2" fill="#348f28"/><circle cx="1127.6" cy="309.5" r="3.1" fill="#42a02e"/><circle cx="1131.9" cy="332" r="2.4" fill="#2a7e22"/><circle cx="1105.9" cy="337.9" r="2.3" fill="#2a7e22"/><circle cx="1062.3" cy="333" r="2" fill="#42a02e"/><circle cx="1020.4" cy="364.4" r="3.2" fill="#42a02e"/><circle cx="1059.5" cy="336.6" r="2.9" fill="#74c84e"/><circle cx="1140.6" cy="357.5" r="1.9" fill="#62c044"/><circle cx="1031.5" cy="356.8" r="3.2" fill="#2a7e22"/><circle cx="1113.6" cy="362.1" r="2.6" fill="#4eaa36"/><circle cx="1068.5" cy="328.4" r="2.9" fill="#74c84e"/><circle cx="1114.6" cy="340.8" r="3.4" fill="#2a7e22"/><circle cx="1103.3" cy="378.3" r="3.2" fill="#2a7e22"/><circle cx="1046.8" cy="361.8" r="3.5" fill="#3c962c"/><circle cx="1167.7" cy="377.4" r="3.2" fill="#3c962c"/><circle cx="1043.9" cy="332.2" r="2.8" fill="#74c84e"/><circle cx="1151" cy="307.3" r="2.1" fill="#74c84e"/><circle cx="1106.5" cy="348.8" r="2.8" fill="#3c962c"/><circle cx="1216.5" cy="321.1" r="1.8" fill="#74c84e"/><circle cx="1210.2" cy="308.9" r="2" fill="#62c044"/><circle cx="1206.6" cy="382.6" r="2.8" fill="#74c84e"/><circle cx="1039.5" cy="386.1" r="2.8" fill="#42a02e"/><circle cx="1179.5" cy="315.4" r="3.1" fill="#42a02e"/><circle cx="1033.3" cy="332.7" r="2.8" fill="#74c84e"/><circle cx="1036.9" cy="386.3" r="3" fill="#62c044"/><circle cx="1157.3" cy="366.8" r="2.5" fill="#2a7e22"/><circle cx="1153.6" cy="381.5" r="2.8" fill="#348f28"/><circle cx="1103.5" cy="325.6" r="3.5" fill="#74c84e"/><circle cx="1186.7" cy="319.7" r="3" fill="#74c84e"/><circle cx="1149.2" cy="380.4" r="3" fill="#4eaa36"/><circle cx="1163.4" cy="378.2" r="2.1" fill="#348f28"/><circle cx="1130.9" cy="345.3" r="3.1" fill="#62c044"/><circle cx="1150.7" cy="375.1" r="2" fill="#74c84e"/><circle cx="1064.1" cy="353.5" r="2.4" fill="#4eaa36"/><circle cx="1210" cy="349.7" r="3.2" fill="#3c962c"/><circle cx="1177.3" cy="339.7" r="3.3" fill="#42a02e"/><circle cx="1239.6" cy="377.6" r="2.4" fill="#2a7e22"/><circle cx="1126.8" cy="337.3" r="2.1" fill="#2a7e22"/><circle cx="1073" cy="345.3" r="3.4" fill="#62c044"/><circle cx="1241.2" cy="345" r="2.9" fill="#62c044"/><circle cx="1149.4" cy="378.6" r="3" fill="#348f28"/><circle cx="1127.2" cy="364.2" r="3.3" fill="#62c044"/><circle cx="1194.7" cy="377" r="1.9" fill="#4eaa36"/><circle cx="1218.8" cy="358.4" r="3.2" fill="#348f28"/><circle cx="1234" cy="374.8" r="2.2" fill="#4eaa36"/><circle cx="1193.1" cy="317.8" r="2.9" fill="#3c962c"/><circle cx="1211.6" cy="378.4" r="2.3" fill="#74c84e"/><circle cx="1029.7" cy="321.5" r="2" fill="#74c84e"/><circle cx="1038.8" cy="314.3" r="3.3" fill="#2a7e22"/><circle cx="1027.7" cy="342.9" r="3.1" fill="#2a7e22"/><circle cx="1021.1" cy="333.5" r="2.6" fill="#62c044"/><circle cx="1037" cy="358.1" r="3.1" fill="#62c044"/><circle cx="1107" cy="350.2" r="2" fill="#2a7e22"/><circle cx="1036.6" cy="341.3" r="2.6" fill="#42a02e"/><circle cx="1222.8" cy="314.6" r="3.5" fill="#2a7e22"/><circle cx="1171.3" cy="336.2" r="2.6" fill="#3c962c"/><circle cx="1170.7" cy="358.9" r="3.3" fill="#2a7e22"/><circle cx="1043.6" cy="382" r="2.4" fill="#42a02e"/><circle cx="1139.5" cy="315.9" r="2.7" fill="#2a7e22"/><circle cx="1032.9" cy="330.3" r="3.1" fill="#3c962c"/><circle cx="1060.3" cy="358.2" r="2.9" fill="#4eaa36"/><circle cx="1102.5" cy="380" r="2.6" fill="#348f28"/><circle cx="1228" cy="318.1" r="2.4" fill="#3c962c"/><circle cx="1164.8" cy="340.3" r="2.3" fill="#4eaa36"/><circle cx="1121.9" cy="331.7" r="2.1" fill="#348f28"/><circle cx="1043.6" cy="321.3" r="2.8" fill="#42a02e"/><circle cx="1185" cy="335.5" r="2.3" fill="#62c044"/><circle cx="1031.6" cy="317.8" r="2.7" fill="#2a7e22"/><circle cx="1074.9" cy="368" r="2.4" fill="#2a7e22"/><circle cx="1230.9" cy="342.5" r="3.3" fill="#348f28"/><circle cx="1098.5" cy="374.2" r="2" fill="#2a7e22"/><circle cx="1151.6" cy="361.1" r="2.8" fill="#3c962c"/><circle cx="1044.7" cy="362.4" r="2.8" fill="#3c962c"/><circle cx="1185.8" cy="371.8" r="3.1" fill="#42a02e"/><circle cx="1155.5" cy="375.2" r="3.2" fill="#42a02e"/><circle cx="1137.6" cy="352.1" r="2.2" fill="#2a7e22"/><circle cx="1102.2" cy="330.2" r="3.3" fill="#62c044"/><circle cx="1218.9" cy="382.4" r="2.5" fill="#42a02e"/><circle cx="1222.2" cy="331.5" r="2.7" fill="#42a02e"/><circle cx="1173.1" cy="330.7" r="3.3" fill="#62c044"/><circle cx="1026.3" cy="322" r="2.9" fill="#348f28"/><circle cx="1191.9" cy="359.5" r="2.7" fill="#42a02e"/><circle cx="1159.4" cy="322.7" r="3.2" fill="#4eaa36"/><circle cx="1027.9" cy="346.7" r="3" fill="#62c044"/><circle cx="1044.5" cy="329.4" r="3" fill="#4eaa36"/><circle cx="1049.9" cy="369.9" r="2.9" fill="#348f28"/><circle cx="1025.3" cy="356.1" r="2.7" fill="#62c044"/><circle cx="1140.1" cy="380.8" r="2.4" fill="#74c84e"/><circle cx="1096.5" cy="362" r="1.9" fill="#74c84e"/><circle cx="1154" cy="380.6" r="3.1" fill="#3c962c"/><circle cx="1241.9" cy="386.2" r="2.2" fill="#348f28"/><circle cx="1212.2" cy="341.6" r="3.2" fill="#62c044"/><circle cx="1090.2" cy="369.5" r="2.5" fill="#74c84e"/><circle cx="1064.4" cy="319.7" r="2.7" fill="#3c962c"/><circle cx="1034.8" cy="374.6" r="2.2" fill="#62c044"/><circle cx="1087.7" cy="343.8" r="3.2" fill="#62c044"/><circle cx="1117.6" cy="343.1" r="1.9" fill="#2a7e22"/><circle cx="1101.6" cy="336.4" r="2.8" fill="#42a02e"/><circle cx="1109.4" cy="384" r="3.2" fill="#2a7e22"/><circle cx="1194.7" cy="318.3" r="2.6" fill="#4eaa36"/><circle cx="1055.2" cy="308.7" r="2.9" fill="#42a02e"/><circle cx="1057.2" cy="309.1" r="2" fill="#4eaa36"/><circle cx="1118.6" cy="321.6" r="3.3" fill="#62c044"/><circle cx="1119.8" cy="339.3" r="3.1" fill="#348f28"/><circle cx="1073.1" cy="310" r="2.7" fill="#4eaa36"/><circle cx="1073.6" cy="337.8" r="2.1" fill="#2a7e22"/><circle cx="1158.8" cy="334.4" r="2" fill="#348f28"/><circle cx="1200.1" cy="330" r="3.6" fill="#62c044"/><circle cx="1196.1" cy="383.4" r="2.7" fill="#42a02e"/><circle cx="1079" cy="371.7" r="2.9" fill="#2a7e22"/><circle cx="1090.5" cy="311.4" r="2.6" fill="#348f28"/><circle cx="1152" cy="307.2" r="1.9" fill="#348f28"/><circle cx="1023.9" cy="346.9" r="2.7" fill="#4eaa36"/><circle cx="1165.9" cy="378.5" r="2.2" fill="#74c84e"/><circle cx="1126.2" cy="370.8" r="3.5" fill="#3c962c"/><circle cx="1027.2" cy="331.1" r="2.9" fill="#62c044"/><circle cx="1039.2" cy="330.2" r="3.3" fill="#348f28"/><circle cx="1133.1" cy="350.4" r="2.8" fill="#74c84e"/><circle cx="1227.2" cy="320.8" r="3.1" fill="#3c962c"/><circle cx="1105.9" cy="381.4" r="2.4" fill="#4eaa36"/><circle cx="1100.7" cy="339.9" r="2.2" fill="#74c84e"/><circle cx="1176.7" cy="334.3" r="3.3" fill="#42a02e"/><circle cx="1180.7" cy="355.1" r="3.1" fill="#62c044"/><circle cx="1231.9" cy="310.3" r="2.1" fill="#74c84e"/><circle cx="1024.7" cy="344" r="3.2" fill="#3c962c"/><circle cx="1167.3" cy="332.3" r="2.9" fill="#74c84e"/><circle cx="1163.2" cy="376.7" r="3.4" fill="#62c044"/><circle cx="1123.9" cy="376" r="3" fill="#2a7e22"/><circle cx="1020" cy="322.4" r="3.2" fill="#348f28"/><circle cx="1095.3" cy="331.7" r="2.6" fill="#74c84e"/><circle cx="1164.7" cy="326" r="1.9" fill="#4eaa36"/><circle cx="1228.8" cy="318.3" r="3.6" fill="#348f28"/><circle cx="1071" cy="383.8" r="2.2" fill="#42a02e"/><circle cx="1134.9" cy="347" r="3.4" fill="#2a7e22"/><circle cx="1195.9" cy="349.4" r="2.1" fill="#4eaa36"/><circle cx="1158.8" cy="310.2" r="3.3" fill="#42a02e"/><circle cx="1025" cy="383.7" r="2.2" fill="#2a7e22"/><circle cx="1038.8" cy="343.9" r="2.2" fill="#74c84e"/><circle cx="1171.8" cy="315.6" r="2.7" fill="#3c962c"/><circle cx="1214.5" cy="334.4" r="2.9" fill="#62c044"/><circle cx="1193.5" cy="330.1" r="3.5" fill="#62c044"/><circle cx="1201.8" cy="323.3" r="2.8" fill="#62c044"/><circle cx="1086.5" cy="358" r="2.4" fill="#4eaa36"/><circle cx="1127.9" cy="312.6" r="2.8" fill="#3c962c"/><circle cx="1101.1" cy="369.2" r="1.9" fill="#42a02e"/><circle cx="1067.5" cy="334.8" r="3.6" fill="#2a7e22"/><circle cx="1072.4" cy="341.8" r="2.3" fill="#2a7e22"/><circle cx="1056.6" cy="380.9" r="3.1" fill="#74c84e"/><circle cx="1215.4" cy="365.3" r="2.6" fill="#3c962c"/><circle cx="1139.4" cy="340.2" r="3.5" fill="#42a02e"/><circle cx="1231.9" cy="345.4" r="3.2" fill="#62c044"/><circle cx="1124.6" cy="353.6" r="1.9" fill="#348f28"/><circle cx="1060.9" cy="314.5" r="3.1" fill="#2a7e22"/><circle cx="1132.2" cy="311.8" r="2.6" fill="#4eaa36"/><circle cx="1186.2" cy="328.8" r="2.6" fill="#2a7e22"/><circle cx="1124.3" cy="322.5" r="3.2" fill="#4eaa36"/><circle cx="1042.7" cy="330.7" r="2.5" fill="#348f28"/><circle cx="1065.6" cy="345.6" r="3.3" fill="#2a7e22"/><circle cx="1237.9" cy="384.8" r="3.4" fill="#2a7e22"/><circle cx="1230.4" cy="341.2" r="3.5" fill="#62c044"/><circle cx="1137.2" cy="350" r="2.4" fill="#74c84e"/><circle cx="1084.1" cy="309.2" r="2.5" fill="#2a7e22"/><circle cx="1200.1" cy="330.5" r="2.2" fill="#74c84e"/><circle cx="1135.8" cy="308" r="2.9" fill="#4eaa36"/><circle cx="1139.4" cy="320.1" r="1.9" fill="#4eaa36"/><circle cx="1239.5" cy="370" r="2.4" fill="#74c84e"/><circle cx="1100.7" cy="350.8" r="2.7" fill="#4eaa36"/><circle cx="1022.5" cy="341.3" r="2.4" fill="#348f28"/><circle cx="1154.5" cy="371.4" r="2.6" fill="#2a7e22"/><circle cx="1074.9" cy="370.7" r="2.6" fill="#2a7e22"/><circle cx="1095.5" cy="309.2" r="1.9" fill="#3c962c"/><circle cx="1056.6" cy="367.4" r="2.8" fill="#4eaa36"/><circle cx="1185.9" cy="373.8" r="2.5" fill="#74c84e"/><circle cx="1205.4" cy="350.8" r="2.3" fill="#4eaa36"/><circle cx="1029.7" cy="345.5" r="1.9" fill="#74c84e"/><circle cx="1222.2" cy="344.1" r="3" fill="#74c84e"/><circle cx="1201.6" cy="354.8" r="2.5" fill="#42a02e"/><circle cx="1160.9" cy="330.3" r="1.9" fill="#4eaa36"/><circle cx="1241.4" cy="350.4" r="2.5" fill="#2a7e22"/><circle cx="1118.9" cy="329" r="2.3" fill="#2a7e22"/><circle cx="1234.1" cy="319.2" r="2.4" fill="#42a02e"/><circle cx="1028" cy="345.5" r="2.2" fill="#62c044"/><circle cx="1227.8" cy="355.6" r="1.9" fill="#42a02e"/><circle cx="1153.3" cy="316.1" r="2" fill="#74c84e"/><circle cx="1178.2" cy="379.4" r="2" fill="#3c962c"/><circle cx="1036.6" cy="309.6" r="2.7" fill="#74c84e"/><circle cx="1234.3" cy="358.1" r="2.2" fill="#2a7e22"/><circle cx="1060.1" cy="337.4" r="3.3" fill="#2a7e22"/><circle cx="1030.6" cy="323.9" r="1.9" fill="#2a7e22"/><circle cx="1090.6" cy="338.1" r="2.3" fill="#4eaa36"/><circle cx="1112.9" cy="339.8" r="3.4" fill="#62c044"/><circle cx="1071" cy="322.8" r="1.9" fill="#42a02e"/><circle cx="1045.3" cy="357.2" r="2" fill="#74c84e"/><circle cx="1202.5" cy="307.3" r="2.3" fill="#3c962c"/><circle cx="1035.1" cy="328.2" r="2.7" fill="#2a7e22"/><circle cx="1084.3" cy="351.4" r="2.1" fill="#62c044"/><circle cx="1233.7" cy="318.4" r="3.4" fill="#4eaa36"/><circle cx="1173.9" cy="344.1" r="2.5" fill="#348f28"/><circle cx="1051.4" cy="311.2" r="3.2" fill="#4eaa36"/><circle cx="1089.1" cy="358.5" r="2" fill="#4eaa36"/><circle cx="1030.5" cy="383.3" r="2.8" fill="#62c044"/><circle cx="1193.7" cy="341.3" r="2.1" fill="#348f28"/><circle cx="1082.4" cy="317.3" r="2.1" fill="#4eaa36"/><circle cx="1105.4" cy="381.5" r="2.9" fill="#4eaa36"/><circle cx="1021.3" cy="336.4" r="2.1" fill="#62c044"/><circle cx="1074.6" cy="335.1" r="3.5" fill="#62c044"/><circle cx="1042.8" cy="374.2" r="2.7" fill="#3c962c"/><circle cx="1096.8" cy="366.4" r="3.2" fill="#42a02e"/><circle cx="1110.7" cy="349.7" r="2.3" fill="#4eaa36"/><circle cx="1139.1" cy="373.1" r="2.2" fill="#42a02e"/><circle cx="1085.7" cy="366.5" r="3.1" fill="#2a7e22"/><circle cx="1235" cy="373.7" r="2.1" fill="#2a7e22"/><circle cx="1207.4" cy="317.3" r="2.9" fill="#348f28"/><circle cx="1111.1" cy="376.3" r="2" fill="#348f28"/><circle cx="1054.9" cy="316.6" r="2.5" fill="#42a02e"/><circle cx="1172.9" cy="348.7" r="3.2" fill="#348f28"/><circle cx="1123.2" cy="353.1" r="2.4" fill="#42a02e"/><circle cx="1153.8" cy="332.6" r="2.7" fill="#2a7e22"/><circle cx="1162" cy="353.9" r="3.1" fill="#74c84e"/><circle cx="1238.8" cy="381.3" r="3.4" fill="#74c84e"/><circle cx="1095.9" cy="384.5" r="2.3" fill="#4eaa36"/><circle cx="1047.1" cy="346.7" r="3.1" fill="#2a7e22"/><circle cx="1182.6" cy="326.7" r="2.6" fill="#2a7e22"/><circle cx="1120.9" cy="344.9" r="2.8" fill="#74c84e"/><circle cx="1058.9" cy="356.2" r="2.7" fill="#42a02e"/><circle cx="1031.1" cy="340.1" r="2.8" fill="#42a02e"/><circle cx="1193.4" cy="311.6" r="3.3" fill="#62c044"/><circle cx="1066.8" cy="312.8" r="2.7" fill="#348f28"/><circle cx="1142.3" cy="377.2" r="2.6" fill="#74c84e"/><circle cx="1106.7" cy="351.5" r="1.8" fill="#2a7e22"/><circle cx="1132.6" cy="338.6" r="2.5" fill="#3c962c"/><circle cx="1172.8" cy="315.2" r="2.7" fill="#2a7e22"/><circle cx="1068.8" cy="336.4" r="2.9" fill="#4eaa36"/><circle cx="1217.5" cy="323.5" r="2.6" fill="#4eaa36"/><circle cx="1026.2" cy="349.7" r="3.5" fill="#42a02e"/><circle cx="1119" cy="335.8" r="3.1" fill="#74c84e"/><circle cx="1223.8" cy="342" r="3" fill="#348f28"/><circle cx="1133.5" cy="380.7" r="2.2" fill="#4eaa36"/><circle cx="1218.7" cy="329.7" r="2.1" fill="#74c84e"/><circle cx="1058.4" cy="377.1" r="2.6" fill="#74c84e"/><circle cx="1098.1" cy="307.5" r="3.3" fill="#4eaa36"/><circle cx="1125.3" cy="318" r="2.2" fill="#3c962c"/><circle cx="1116.3" cy="356.9" r="3" fill="#62c044"/><circle cx="1083.8" cy="357.8" r="3.1" fill="#348f28"/><circle cx="1034" cy="376.6" r="3.1" fill="#2a7e22"/><circle cx="1034.4" cy="307.7" r="2.7" fill="#62c044"/><circle cx="1160.8" cy="314.4" r="3" fill="#3c962c"/><circle cx="1113.2" cy="353.2" r="3.4" fill="#4eaa36"/><circle cx="1164.6" cy="383.1" r="1.9" fill="#42a02e"/><circle cx="1025.5" cy="381.2" r="2.7" fill="#42a02e"/><circle cx="1205" cy="321.2" r="3.3" fill="#74c84e"/><circle cx="1211.3" cy="349.8" r="2.3" fill="#62c044"/><circle cx="1167.5" cy="348.9" r="2.2" fill="#2a7e22"/><circle cx="1096.2" cy="353.6" r="2.8" fill="#2a7e22"/><circle cx="1158.2" cy="335.1" r="3.2" fill="#42a02e"/><circle cx="1211.3" cy="365.6" r="2.2" fill="#348f28"/><circle cx="1180.9" cy="375.1" r="2.9" fill="#62c044"/><circle cx="1214.4" cy="324.1" r="3.3" fill="#62c044"/><circle cx="1046.4" cy="379.5" r="2.5" fill="#4eaa36"/><circle cx="1090.1" cy="366.9" r="2.4" fill="#4eaa36"/><circle cx="1105.5" cy="374.6" r="3.3" fill="#348f28"/><circle cx="1072.5" cy="336.1" r="2.2" fill="#2a7e22"/><circle cx="1075.7" cy="327.8" r="3" fill="#2a7e22"/><circle cx="1183.3" cy="323.4" r="2.3" fill="#4eaa36"/><circle cx="1145.9" cy="326.4" r="3.1" fill="#4eaa36"/><circle cx="1200.9" cy="335.9" r="2.2" fill="#3c962c"/><circle cx="1187.5" cy="338.2" r="2.8" fill="#42a02e"/><circle cx="1059.2" cy="330.9" r="2.5" fill="#348f28"/><circle cx="1195.5" cy="375.2" r="2.7" fill="#42a02e"/><circle cx="1059.1" cy="348.2" r="2.6" fill="#62c044"/><circle cx="1069.2" cy="371.9" r="3.6" fill="#2a7e22"/><circle cx="1110.4" cy="356.1" r="3.2" fill="#348f28"/><circle cx="1179.9" cy="333.8" r="3.1" fill="#42a02e"/><circle cx="1091.5" cy="334.6" r="2.1" fill="#2a7e22"/><circle cx="1126.4" cy="349.8" r="3.4" fill="#62c044"/><circle cx="1103.4" cy="310.2" r="2.4" fill="#3c962c"/><circle cx="1065" cy="314.3" r="3.2" fill="#42a02e"/><circle cx="1152.2" cy="353.3" r="3" fill="#2a7e22"/><circle cx="1140.7" cy="385.5" r="3.3" fill="#3c962c"/><circle cx="1165.2" cy="380.3" r="2.6" fill="#42a02e"/><circle cx="1184" cy="334.8" r="2.7" fill="#42a02e"/><circle cx="1060.2" cy="330.4" r="2.1" fill="#74c84e"/><circle cx="1105.8" cy="315.6" r="2.8" fill="#2a7e22"/><circle cx="1224.2" cy="345.5" r="2.8" fill="#62c044"/><circle cx="1063.5" cy="339.4" r="2.8" fill="#348f28"/><circle cx="1181.5" cy="355.1" r="3.1" fill="#4eaa36"/><circle cx="1132.5" cy="320.2" r="2" fill="#42a02e"/><circle cx="1045.8" cy="337.7" r="2.8" fill="#2a7e22"/><circle cx="1108.4" cy="312.2" r="2.3" fill="#2a7e22"/><circle cx="1071.1" cy="327.6" r="2.2" fill="#348f28"/><circle cx="1126.2" cy="341.4" r="2.3" fill="#3c962c"/><circle cx="1061.2" cy="352.3" r="2.7" fill="#4eaa36"/><circle cx="1168.7" cy="326.5" r="2.3" fill="#2a7e22"/><circle cx="1183.6" cy="378.7" r="2" fill="#3c962c"/><circle cx="1049.9" cy="313.5" r="3.6" fill="#2a7e22"/><circle cx="1237.5" cy="332.9" r="3.2" fill="#4eaa36"/><circle cx="1029.1" cy="345.9" r="3.6" fill="#4eaa36"/><circle cx="1102.9" cy="376.1" r="3.1" fill="#42a02e"/><circle cx="1146.1" cy="352.5" r="3.6" fill="#62c044"/><circle cx="1077.2" cy="350.2" r="2.9" fill="#62c044"/><circle cx="1054" cy="309.4" r="2.6" fill="#348f28"/><circle cx="1066.9" cy="367.2" r="2.7" fill="#4eaa36"/><circle cx="1209.2" cy="364.7" r="2.5" fill="#348f28"/><circle cx="1160.1" cy="351.7" r="3.5" fill="#2a7e22"/><circle cx="1064.9" cy="319.5" r="3.6" fill="#3c962c"/><circle cx="1036.1" cy="340.9" r="2.3" fill="#348f28"/><circle cx="1141.2" cy="360.1" r="2.9" fill="#4eaa36"/><circle cx="1077.5" cy="313.8" r="1.9" fill="#3c962c"/><circle cx="1050.5" cy="307.5" r="1.9" fill="#74c84e"/><circle cx="1135.6" cy="363.2" r="2.8" fill="#3c962c"/><circle cx="1156.3" cy="327.8" r="3.1" fill="#348f28"/><circle cx="1035.2" cy="361.2" r="2.5" fill="#348f28"/><circle cx="1026.9" cy="348.1" r="2.4" fill="#2a7e22"/><circle cx="1042.3" cy="370.7" r="2.5" fill="#74c84e"/><circle cx="1139.4" cy="381.3" r="3.1" fill="#3c962c"/><circle cx="1069.8" cy="342.9" r="3.2" fill="#2a7e22"/><circle cx="1067.6" cy="319.4" r="2.5" fill="#62c044"/><circle cx="1090.2" cy="352.4" r="2.8" fill="#42a02e"/><circle cx="1074.1" cy="314.6" r="2.5" fill="#42a02e"/><circle cx="1095.4" cy="322.5" r="2.8" fill="#2a7e22"/><circle cx="1162.7" cy="385.3" r="2.5" fill="#3c962c"/><circle cx="1066.4" cy="353.5" r="2.9" fill="#74c84e"/><circle cx="1033.7" cy="370.1" r="2.7" fill="#348f28"/><circle cx="1083.1" cy="381.6" r="3.5" fill="#4eaa36"/><circle cx="1117.7" cy="316.9" r="3.6" fill="#4eaa36"/><circle cx="1070.1" cy="348.7" r="2.3" fill="#348f28"/><circle cx="1131.3" cy="345" r="2.2" fill="#74c84e"/><circle cx="1112.2" cy="307.8" r="2.7" fill="#348f28"/><circle cx="1032.6" cy="347.3" r="2.7" fill="#348f28"/><circle cx="1030.3" cy="360.6" r="2.3" fill="#62c044"/><circle cx="1129.5" cy="368.8" r="3.2" fill="#2a7e22"/><circle cx="1159.5" cy="313.9" r="3.5" fill="#348f28"/><circle cx="1045" cy="361" r="2.2" fill="#4eaa36"/><circle cx="1186.1" cy="349.1" r="3.2" fill="#42a02e"/><circle cx="1050.7" cy="320" r="3.5" fill="#2a7e22"/><circle cx="1134.2" cy="383.4" r="1.8" fill="#348f28"/><circle cx="1100.6" cy="346.6" r="2" fill="#3c962c"/><circle cx="1178.6" cy="351.5" r="2.5" fill="#62c044"/><circle cx="1096.4" cy="381.5" r="2.4" fill="#62c044"/><circle cx="1184.6" cy="327.4" r="2.7" fill="#2a7e22"/><circle cx="1065.6" cy="314.6" r="2.3" fill="#62c044"/><circle cx="1233.5" cy="344.8" r="2.2" fill="#2a7e22"/><circle cx="1153.8" cy="359.6" r="3.6" fill="#348f28"/><circle cx="1156.2" cy="326.1" r="2.1" fill="#348f28"/><circle cx="1165.9" cy="379.5" r="2.6" fill="#62c044"/><circle cx="1217.2" cy="351.8" r="2.4" fill="#62c044"/><circle cx="1202.7" cy="335.9" r="3.3" fill="#62c044"/><circle cx="1100.9" cy="364.6" r="2.3" fill="#4eaa36"/><circle cx="1050.5" cy="376.8" r="3.2" fill="#348f28"/><circle cx="1163.2" cy="364.8" r="2" fill="#74c84e"/><circle cx="1109.3" cy="344.9" r="2.7" fill="#42a02e"/><circle cx="1116.4" cy="322.8" r="2.5" fill="#3c962c"/><circle cx="1144.8" cy="319.7" r="1.8" fill="#42a02e"/><circle cx="1218.8" cy="370.5" r="3.1" fill="#74c84e"/><circle cx="1050.4" cy="368.6" r="3.4" fill="#348f28"/><circle cx="1042.9" cy="323.9" r="3.5" fill="#42a02e"/><circle cx="1210.8" cy="379" r="2.6" fill="#4eaa36"/><circle cx="1054.9" cy="361.8" r="2.9" fill="#62c044"/><circle cx="1090.2" cy="342.1" r="3.5" fill="#2a7e22"/><circle cx="1142.6" cy="353.9" r="2.4" fill="#42a02e"/><circle cx="1105.8" cy="384.5" r="2.3" fill="#348f28"/><circle cx="1065.8" cy="337.9" r="3.3" fill="#74c84e"/><circle cx="1229.3" cy="325.1" r="3.4" fill="#2a7e22"/><circle cx="1144.5" cy="368.4" r="3.3" fill="#4eaa36"/><circle cx="1144.8" cy="338.6" r="2.7" fill="#2a7e22"/><circle cx="1202.1" cy="326" r="2.1" fill="#2a7e22"/><circle cx="1202.9" cy="312.5" r="2.3" fill="#4eaa36"/><circle cx="1084.6" cy="334.3" r="2.2" fill="#4eaa36"/><circle cx="1224" cy="351.2" r="2" fill="#62c044"/><circle cx="1075.7" cy="349.3" r="2.5" fill="#42a02e"/><circle cx="1084" cy="382.1" r="2.2" fill="#4eaa36"/><circle cx="1089.2" cy="359.8" r="2" fill="#74c84e"/><circle cx="1108.7" cy="334.3" r="3" fill="#42a02e"/><circle cx="1072.8" cy="366.3" r="2.9" fill="#348f28"/><circle cx="1025.1" cy="376.2" r="2.4" fill="#4eaa36"/><circle cx="1069.6" cy="310.7" r="3.2" fill="#42a02e"/><circle cx="1141.1" cy="339.2" r="2.4" fill="#2a7e22"/><circle cx="1024.1" cy="342.1" r="3.1" fill="#74c84e"/><circle cx="1057.3" cy="307" r="3.2" fill="#2a7e22"/><circle cx="1209.1" cy="345" r="2.5" fill="#42a02e"/><circle cx="1063.8" cy="343.5" r="2.7" fill="#3c962c"/><circle cx="1101.4" cy="307.8" r="2.8" fill="#62c044"/><circle cx="1145.8" cy="349.5" r="1.8" fill="#348f28"/><circle cx="1179.6" cy="321.7" r="3.6" fill="#348f28"/><circle cx="1167.1" cy="320.7" r="3.1" fill="#2a7e22"/><circle cx="1089.8" cy="335.7" r="1.8" fill="#4eaa36"/><circle cx="1208.7" cy="376.6" r="3.6" fill="#348f28"/><circle cx="1239.6" cy="320" r="3" fill="#42a02e"/><circle cx="1120.6" cy="366.1" r="3.2" fill="#62c044"/><circle cx="1170.9" cy="376.5" r="2.8" fill="#348f28"/><circle cx="1044" cy="367.6" r="3" fill="#4eaa36"/><circle cx="1205.3" cy="329.2" r="3" fill="#348f28"/><circle cx="1198.4" cy="310.8" r="2.6" fill="#348f28"/><circle cx="1133.8" cy="381.4" r="2.2" fill="#3c962c"/><circle cx="1119.1" cy="384.8" r="2.3" fill="#2a7e22"/><circle cx="1175.7" cy="308" r="2.1" fill="#42a02e"/><circle cx="1164" cy="308.1" r="3.2" fill="#62c044"/><circle cx="1048.3" cy="374.2" r="2.6" fill="#42a02e"/><circle cx="1111.3" cy="344.4" r="2.9" fill="#74c84e"/><circle cx="1087.3" cy="356.9" r="1.9" fill="#74c84e"/><circle cx="1056.5" cy="378.4" r="2.6" fill="#62c044"/><circle cx="1073.6" cy="379" r="2.8" fill="#2a7e22"/><circle cx="1094.8" cy="367.8" r="3.2" fill="#2a7e22"/><circle cx="1103" cy="321.5" r="2.5" fill="#2a7e22"/><circle cx="1152.5" cy="339.1" r="3.5" fill="#62c044"/><circle cx="1203.1" cy="380.2" r="2.9" fill="#348f28"/><circle cx="1153.9" cy="335.9" r="3.5" fill="#3c962c"/><circle cx="1162.9" cy="349" r="3.3" fill="#2a7e22"/><circle cx="1157.7" cy="346.3" r="2.7" fill="#62c044"/><circle cx="1193.4" cy="365.9" r="3.3" fill="#2a7e22"/><circle cx="1039.1" cy="361.8" r="3.3" fill="#74c84e"/><circle cx="1118.6" cy="363.5" r="2.2" fill="#2a7e22"/><circle cx="1179.4" cy="383.2" r="3.4" fill="#2a7e22"/><circle cx="1019.7" cy="321" r="2.2" fill="#4eaa36"/><circle cx="1121.3" cy="351.9" r="2.3" fill="#3c962c"/><circle cx="1062.5" cy="348" r="2" fill="#2a7e22"/><circle cx="1117.9" cy="345.8" r="1.9" fill="#74c84e"/><circle cx="1161.9" cy="369.1" r="2.1" fill="#62c044"/><circle cx="1150.4" cy="346.4" r="3.3" fill="#42a02e"/><circle cx="1126.1" cy="326" r="2.2" fill="#348f28"/><circle cx="1100.9" cy="349.6" r="2.4" fill="#348f28"/><circle cx="1059.6" cy="344.6" r="2.4" fill="#4eaa36"/><circle cx="1210" cy="353.1" r="2.2" fill="#3c962c"/><circle cx="1133.4" cy="349.7" r="1.8" fill="#42a02e"/><circle cx="1070.8" cy="386.2" r="2.1" fill="#2a7e22"/><circle cx="1144.7" cy="334.7" r="3.2" fill="#2a7e22"/><circle cx="1149.2" cy="318.7" r="2.6" fill="#3c962c"/><circle cx="1110.2" cy="343.7" r="2.5" fill="#348f28"/><circle cx="1227.9" cy="362.4" r="2.9" fill="#2a7e22"/><circle cx="1113.3" cy="335.9" r="1.8" fill="#74c84e"/><circle cx="1198" cy="339.3" r="1.9" fill="#3c962c"/><circle cx="1215.8" cy="367.3" r="3" fill="#74c84e"/><circle cx="1116.7" cy="382.3" r="3.5" fill="#4eaa36"/><circle cx="1115.6" cy="360.2" r="3.4" fill="#3c962c"/><circle cx="1024.2" cy="325.5" r="2.9" fill="#42a02e"/><circle cx="1071.6" cy="382.5" r="2.5" fill="#3c962c"/><circle cx="1099.1" cy="355.8" r="2.2" fill="#3c962c"/><circle cx="1019.6" cy="358.5" r="2.7" fill="#4eaa36"/><circle cx="1050.3" cy="376.3" r="3.6" fill="#74c84e"/><circle cx="1217.4" cy="353.5" r="3.4" fill="#4eaa36"/><circle cx="1187.6" cy="339.1" r="2.3" fill="#62c044"/><circle cx="1189.5" cy="338.1" r="2.2" fill="#3c962c"/><circle cx="1043.3" cy="376.3" r="3" fill="#2a7e22"/><circle cx="1204.2" cy="335.2" r="2.3" fill="#3c962c"/><circle cx="1167.7" cy="337" r="2.8" fill="#62c044"/><circle cx="1054" cy="334.3" r="1.9" fill="#2a7e22"/><circle cx="1217.5" cy="367.2" r="2.3" fill="#4eaa36"/><circle cx="1062.8" cy="362.1" r="2.5" fill="#74c84e"/><circle cx="1067.3" cy="364.2" r="2.7" fill="#2a7e22"/><circle cx="1214.3" cy="327.8" r="2.2" fill="#74c84e"/><circle cx="1046" cy="366.2" r="2.7" fill="#348f28"/><circle cx="1166.5" cy="353" r="3.3" fill="#348f28"/><circle cx="1073.4" cy="381.8" r="1.8" fill="#9a9a8e" opacity="0.8"/><circle cx="1028.4" cy="365" r="1.6" fill="#9a9a8e" opacity="0.8"/><circle cx="1071.9" cy="384.9" r="1.8" fill="#9a9a8e" opacity="0.8"/><circle cx="1026.3" cy="360" r="2.1" fill="#9a9a8e" opacity="0.8"/><circle cx="1067.4" cy="379.4" r="1.5" fill="#9a9a8e" opacity="0.8"/><circle cx="1032.2" cy="345.7" r="1.6" fill="#9a9a8e" opacity="0.8"/><circle cx="1054.8" cy="382.4" r="2" fill="#9a9a8e" opacity="0.8"/><circle cx="1027.4" cy="356.9" r="2.1" fill="#9a9a8e" opacity="0.8"/><circle cx="1069.9" cy="379.4" r="2" fill="#9a9a8e" opacity="0.8"/><circle cx="1035.2" cy="328.9" r="1.6" fill="#9a9a8e" opacity="0.8"/><circle cx="1048.2" cy="312.8" r="2.1" fill="#9a9a8e" opacity="0.8"/><circle cx="1033.3" cy="333.2" r="1.9" fill="#9a9a8e" opacity="0.8"/><circle cx="1074.7" cy="315.8" r="2.2" fill="#9a9a8e" opacity="0.8"/><circle cx="1033.8" cy="316.9" r="1.9" fill="#9a9a8e" opacity="0.8"/><circle cx="1058.7" cy="380.8" r="1.5" fill="#9a9a8e" opacity="0.8"/><circle cx="1023.9" cy="333.3" r="1.9" fill="#9a9a8e" opacity="0.8"/><circle cx="1071.5" cy="314.5" r="2.3" fill="#9a9a8e" opacity="0.8"/><circle cx="1032.1" cy="331.8" r="2.4" fill="#9a9a8e" opacity="0.8"/><circle cx="1046.9" cy="378.6" r="1.6" fill="#9a9a8e" opacity="0.8"/><circle cx="1030.7" cy="358.7" r="1.7" fill="#9a9a8e" opacity="0.8"/><circle cx="1047.9" cy="312.4" r="2.5" fill="#9a9a8e" opacity="0.8"/><circle cx="1026.2" cy="331.6" r="2.2" fill="#9a9a8e" opacity="0.8"/><circle cx="1070.8" cy="313.5" r="2" fill="#9a9a8e" opacity="0.8"/><circle cx="1035.9" cy="326.7" r="1.6" fill="#9a9a8e" opacity="0.8"/><circle cx="1046.1" cy="384.7" r="2.3" fill="#9a9a8e" opacity="0.8"/><circle cx="1032" cy="341" r="1.5" fill="#9a9a8e" opacity="0.8"/><circle cx="1043.1" cy="310.7" r="1.9" fill="#9a9a8e" opacity="0.8"/><circle cx="1037.4" cy="356.1" r="2.2" fill="#9a9a8e" opacity="0.8"/><circle cx="1045.6" cy="384.2" r="1.6" fill="#9a9a8e" opacity="0.8"/><circle cx="1030.4" cy="374.2" r="2.5" fill="#9a9a8e" opacity="0.8"/><ellipse cx="1054.6" cy="347.5" rx="25" ry="36" fill="#d8d09a"/><ellipse cx="1054.6" cy="347.5" rx="23.5" ry="34" fill="#5cba40"/><ellipse cx="1054.6" cy="347.5" rx="20" ry="29.5" fill="none" stroke="#9ee070" stroke-width="2.2"/><ellipse cx="1054.6" cy="347.5" rx="16.5" ry="24" fill="none" stroke="#e0d8a0" stroke-width="1.4"/><ellipse cx="1054.6" cy="347.5" rx="14" ry="20" fill="none" stroke="#8ad860" stroke-width="2"/><path d="M1054.6 312.5V382.5M1030.6 347.5H1078.6" stroke="#e0d6a0" stroke-width="2"/><circle cx="1054.6" cy="347.5" r="10.5" fill="#e2d49c"/><circle cx="1054.6" cy="347.5" r="8" fill="#2cb8dc"/><circle cx="1054.6" cy="347.5" r="4.5" fill="#6cd4ee"/><path d="M1078 306Q1083 330 1090 345Q1098 368 1112 387" fill="none" stroke="#c8ccc8" stroke-width="4"/><path d="M1170 306Q1190 325 1188 350Q1186 372 1178 387" fill="none" stroke="#cfd4cc" stroke-width="2.5"/><circle cx="1088" cy="345" r="6.5" fill="#c2b8a8"/><circle cx="1096" cy="339" r="5" fill="#b8b8b8"/><ellipse cx="1130" cy="348" rx="46" ry="36" fill="#3a9a2a" opacity="0.5"/><path d="M1102 330Q1106 322 1116 323Q1128 325 1136 333Q1146 328 1158 331Q1172 336 1170 352Q1168 366 1152 370Q1140 374 1125 372Q1106 374 1101 362Q1097 348 1102 330Z" fill="#c8a070"/><path d="M1105 344Q1106 336 1114 340Q1124 345 1136 344Q1146 336 1156 336Q1167 340 1166 350Q1164 360 1152 362Q1146 370 1130 369Q1112 371 1106 364Q1102 354 1105 344Z" fill="#1ea2e6"/><circle cx="1114.8" cy="334.6" r="7.5" fill="#36b4ea" stroke="#9fe0f6" stroke-width="1"/><circle cx="1157.4" cy="345" r="9.5" fill="#36b4ea" stroke="#9fe0f6" stroke-width="1"/><path d="M1110 352Q1125 358 1140 352Q1150 350 1158 355" fill="none" stroke="#7ad0f4" stroke-width="1.5"/><circle cx="1128" cy="341" r="2.2" fill="#f4ead8"/><circle cx="1143" cy="341" r="2.2" fill="#f4ead8"/><circle cx="1136" cy="368" r="3" fill="#f0e6d4"/><rect x="1180" y="312" width="56" height="27" fill="#5cc83c"/><rect x="1185.9" y="316" width="8.4" height="17.4" fill="#f08a2a"/><rect x="1200.8" y="316" width="7.9" height="17.4" fill="#2f7fd0"/><rect x="1221" y="315" width="6" height="4" fill="#f0a0a0"/><path d="M1183 345Q1200 338 1238 342V386H1190Q1180 370 1183 345Z" fill="#8ccf70" opacity="0.75"/><circle cx="1239.1" cy="350.9" r="2.1" fill="#6ab84a" opacity="0.8"/><circle cx="1217.2" cy="379.5" r="1.7" fill="#b8c4b0" opacity="0.8"/><circle cx="1236.4" cy="351" r="3" fill="#6ab84a" opacity="0.8"/><circle cx="1206.2" cy="370.6" r="2.9" fill="#a8d878" opacity="0.8"/><circle cx="1213.5" cy="373.8" r="1.9" fill="#b8c4b0" opacity="0.8"/><circle cx="1230" cy="362.2" r="2.4" fill="#b8c4b0" opacity="0.8"/><circle cx="1237.1" cy="360.7" r="1.6" fill="#a8d878" opacity="0.8"/><circle cx="1196" cy="379.3" r="2.5" fill="#c0b8b8" opacity="0.8"/><circle cx="1221.6" cy="379" r="2.7" fill="#c0b8b8" opacity="0.8"/><circle cx="1192.5" cy="361.7" r="2.8" fill="#a8d878" opacity="0.8"/><circle cx="1200.2" cy="375.2" r="2" fill="#a8d878" opacity="0.8"/><circle cx="1217.3" cy="371.3" r="1.7" fill="#a8d878" opacity="0.8"/><circle cx="1194.1" cy="369.9" r="2.2" fill="#b8c4b0" opacity="0.8"/><circle cx="1209.5" cy="382.7" r="2.4" fill="#a8d878" opacity="0.8"/><circle cx="1224.1" cy="356.6" r="2.3" fill="#c0b8b8" opacity="0.8"/><circle cx="1213.2" cy="372.4" r="2.9" fill="#6ab84a" opacity="0.8"/><circle cx="1197.7" cy="373.3" r="2.5" fill="#b8c4b0" opacity="0.8"/><circle cx="1202.1" cy="367.2" r="2.2" fill="#c0b8b8" opacity="0.8"/><circle cx="1219.6" cy="363.5" r="2.2" fill="#a8d878" opacity="0.8"/><circle cx="1239.3" cy="368.1" r="2.7" fill="#a8d878" opacity="0.8"/><circle cx="1193.9" cy="378" r="2.4" fill="#a8d878" opacity="0.8"/><circle cx="1234" cy="352.7" r="3" fill="#c0b8b8" opacity="0.8"/><circle cx="1203" cy="365.8" r="1.6" fill="#6ab84a" opacity="0.8"/><circle cx="1212.7" cy="369.4" r="2.4" fill="#c0b8b8" opacity="0.8"/><circle cx="1198.1" cy="353.7" r="2.1" fill="#c0b8b8" opacity="0.8"/><circle cx="1200.6" cy="364.9" r="1.5" fill="#a8d878" opacity="0.8"/><circle cx="1223.9" cy="359.9" r="1.7" fill="#6ab84a" opacity="0.8"/><circle cx="1226.1" cy="351.4" r="2.1" fill="#c0b8b8" opacity="0.8"/><circle cx="1220.6" cy="362.8" r="2.9" fill="#b8c4b0" opacity="0.8"/><circle cx="1197.7" cy="350.2" r="2.9" fill="#c0b8b8" opacity="0.8"/><circle cx="1212.5" cy="358.3" r="2.8" fill="#6ab84a" opacity="0.8"/><circle cx="1222.2" cy="353.8" r="2.4" fill="#a8d878" opacity="0.8"/><circle cx="1221.3" cy="360.5" r="2.5" fill="#a8d878" opacity="0.8"/><circle cx="1214.5" cy="375.6" r="1.8" fill="#b8c4b0" opacity="0.8"/><circle cx="1234" cy="382" r="1.5" fill="#6ab84a" opacity="0.8"/><circle cx="1230.9" cy="369.8" r="1.6" fill="#c0b8b8" opacity="0.8"/><circle cx="1190.4" cy="378.9" r="2" fill="#6ab84a" opacity="0.8"/><circle cx="1223.3" cy="358.4" r="2.2" fill="#b8c4b0" opacity="0.8"/><circle cx="1193.4" cy="379.5" r="1.9" fill="#b8c4b0" opacity="0.8"/><circle cx="1202.4" cy="361" r="2.2" fill="#b8c4b0" opacity="0.8"/><circle cx="1187" cy="343" r="2.6" fill="#b6dc3a"/><circle cx="1191" cy="341" r="2.6" fill="#b6dc3a"/><circle cx="1199" cy="341" r="2.6" fill="#b6dc3a"/><circle cx="1207" cy="342" r="2.6" fill="#b6dc3a"/><circle cx="1216" cy="341" r="2.6" fill="#b6dc3a"/><circle cx="1224" cy="343" r="2.6" fill="#b6dc3a"/><circle cx="1232" cy="345" r="2.6" fill="#b6dc3a"/><circle cx="1236" cy="352" r="2.6" fill="#b6dc3a"/><circle cx="1236" cy="360" r="2.6" fill="#b6dc3a"/><circle cx="1186" cy="352" r="2.6" fill="#b6dc3a"/><circle cx="1188" cy="362" r="2.6" fill="#b6dc3a"/><circle cx="1185" cy="372" r="2.6" fill="#b6dc3a"/><circle cx="1048" cy="333" r="2.4" fill="#1e2a5a"/><circle cx="1061" cy="333" r="2.4" fill="#1e2a5a"/><circle cx="1042" cy="344" r="2.4" fill="#1e2a5a"/><circle cx="1042" cy="355" r="2.4" fill="#1e2a5a"/><circle cx="1064" cy="338" r="2.4" fill="#1e2a5a"/><circle cx="1064" cy="360" r="2.4" fill="#1e2a5a"/><circle cx="1050" cy="364" r="2.4" fill="#1e2a5a"/><circle cx="1061" cy="369" r="2.4" fill="#1e2a5a"/><circle cx="1087" cy="345" r="2.4" fill="#1e2a5a"/><circle cx="1096" cy="338" r="2.4" fill="#1e2a5a"/><circle cx="1116" cy="336" r="2.4" fill="#1e2a5a"/><circle cx="1158" cy="344" r="2.4" fill="#1e2a5a"/><circle cx="1130" cy="359" r="2.4" fill="#1e2a5a"/><circle cx="1189" cy="324" r="2.4" fill="#1e2a5a"/><circle cx="1204" cy="324" r="2.4" fill="#1e2a5a"/><circle cx="1225" cy="322" r="2.4" fill="#1e2a5a"/><circle cx="1208" cy="349" r="2.4" fill="#1e2a5a"/><circle cx="1216" cy="367" r="2.4" fill="#1e2a5a"/><circle cx="1176" cy="370" r="2.4" fill="#1e2a5a"/><circle cx="1180" cy="378" r="2.4" fill="#1e2a5a"/><circle cx="1107" cy="332" r="2.4" fill="#1e2a5a"/><circle cx="1135" cy="320" r="2.4" fill="#1e2a5a"/><circle cx="1028" cy="347" r="2.4" fill="#1e2a5a"/></g><circle cx="1085.5" cy="304.8" r="2.6" fill="#1e2a5a"/><circle cx="1180.5" cy="304.8" r="2.6" fill="#1e2a5a"/><path d="M1347.6 86.2 H1358.2 L1367.2 95.2 V281.5 L1358.2 290.5 H1347.6 L1338.6 281.5 V95.2 Z" fill="#f9f397" stroke="#6a4a20" stroke-width="1"/><path d="M1338.6 95.5H1367.2M1338.6 104.8H1367.2M1338.6 114.1H1367.2M1338.6 123.3H1367.2M1338.6 132.6H1367.2M1338.6 141.9H1367.2M1338.6 151.2H1367.2M1338.6 160.5H1367.2M1338.6 169.8H1367.2M1338.6 179.1H1367.2M1338.6 188.4H1367.2M1338.6 197.6H1367.2M1338.6 206.9H1367.2M1338.6 216.2H1367.2M1338.6 225.5H1367.2M1338.6 234.8H1367.2M1338.6 244.1H1367.2M1338.6 253.4H1367.2M1338.6 262.6H1367.2M1338.6 271.9H1367.2M1338.6 281.2H1367.2" stroke="#4a4020" stroke-width="0.8"/><path d="M1348 90.8H1358M1348 100.1H1358M1348 109.4H1358M1348 118.7H1358M1348 128H1358M1348 137.3H1358M1348 146.6H1358M1348 155.8H1358M1348 165.1H1358M1348 174.4H1358M1348 183.7H1358M1348 193H1358M1348 202.3H1358M1348 211.6H1358M1348 220.9H1358M1348 230.1H1358M1348 239.4H1358M1348 248.7H1358M1348 258H1358M1348 267.3H1358M1348 276.6H1358M1348 285.9H1358" stroke="#3c3820" stroke-width="1.3" stroke-dasharray="1.5 1" opacity="0.7"/><path d="M1358.2 86.2L1367.2 95.2V281.5 L1358.2 290.5" fill="none" stroke="#d8242a" stroke-width="1.3" stroke-dasharray="3 2"/><rect x="1334.6" y="79.7" width="39.4" height="217.3" rx="17" fill="none" stroke="#8c8c8c" stroke-width="1"/><path d="M1347.6 440.4 H1358.2 L1367.2 449.4 V641.8 L1358.2 650.8 H1347.6 L1338.6 641.8 V449.4 Z" fill="#f9f397" stroke="#6a4a20" stroke-width="1"/><path d="M1338.6 449.5H1367.2M1338.6 458.7H1367.2M1338.6 467.8H1367.2M1338.6 477H1367.2M1338.6 486.1H1367.2M1338.6 495.3H1367.2M1338.6 504.4H1367.2M1338.6 513.6H1367.2M1338.6 522.7H1367.2M1338.6 531.9H1367.2M1338.6 541H1367.2M1338.6 550.2H1367.2M1338.6 559.3H1367.2M1338.6 568.5H1367.2M1338.6 577.6H1367.2M1338.6 586.8H1367.2M1338.6 595.9H1367.2M1338.6 605.1H1367.2M1338.6 614.2H1367.2M1338.6 623.4H1367.2M1338.6 632.5H1367.2M1338.6 641.7H1367.2" stroke="#4a4020" stroke-width="0.8"/><path d="M1348 445H1358M1348 454.1H1358M1348 463.3H1358M1348 472.4H1358M1348 481.6H1358M1348 490.7H1358M1348 499.9H1358M1348 509H1358M1348 518.2H1358M1348 527.3H1358M1348 536.5H1358M1348 545.6H1358M1348 554.7H1358M1348 563.9H1358M1348 573H1358M1348 582.2H1358M1348 591.3H1358M1348 600.5H1358M1348 609.6H1358M1348 618.8H1358M1348 627.9H1358M1348 637.1H1358M1348 646.2H1358" stroke="#3c3820" stroke-width="1.3" stroke-dasharray="1.5 1" opacity="0.7"/><path d="M1358.2 440.4L1367.2 449.4V641.8 L1358.2 650.8" fill="none" stroke="#d8242a" stroke-width="1.3" stroke-dasharray="3 2"/><rect x="1334.6" y="433.9" width="39.4" height="223.4" rx="17" fill="none" stroke="#8c8c8c" stroke-width="1"/><path d="M1391.2 96.6V398.7M1391.2 449V641" stroke="#7ccb4e" stroke-width="2"/><path d="M1408.7 94V402Q1408.7 408 1418 409M1418 437Q1408.7 438 1408.7 446V645Q1409 655 1420 655.5" stroke="#666" stroke-width="1.1" fill="none"/><path d="M737 65.5H1000Q1008 65 1008 56" stroke="#777" stroke-width="1.1" fill="none"/><path d="M1018 56Q1018 65 1026 65.5H1316Q1324 65 1324 56M1335 56Q1336 65.6 1345 65.6H1360Q1369.8 65 1369.8 57M1412.5 57Q1414 64 1425 66" stroke="#777" stroke-width="1.1" fill="none"/><path d="M1425 80Q1409 82 1408.7 94" stroke="#777" stroke-width="1.1" fill="none"/><path d="M620 30.5L635.7 23.1L651.7 30.3" fill="none" stroke="#555" stroke-width="1.1" stroke-dasharray="2.2 1.4"/><path d="M625.7 33.5H645.6M625.7 35.8H645.6M625.7 39H645.6M645.6 30.5V39" fill="none" stroke="#777" stroke-width="1"/><path d="M1005.5 53L1013 47.5L1020.5 53" fill="none" stroke="#555" stroke-width="1" stroke-dasharray="2 1.2"/><rect x="1008" y="53.5" width="10" height="2.8" fill="#888"/><path d="M1320 51L1329.7 46.6L1339.5 51" fill="none" stroke="#555" stroke-width="1" stroke-dasharray="2 1.2"/><rect x="1324" y="53.3" width="11" height="2.8" fill="#888"/><path d="M1356 38.7L1390.6 22.6L1425 38.5" fill="none" stroke="#555" stroke-width="1.1" stroke-dasharray="3 1.8"/><path d="M1356 38.7H1369.8V45H1404M1412 38.7V45" fill="none" stroke="#666" stroke-width="1"/><rect x="1369.8" y="50.2" width="42.7" height="6.8" fill="none" stroke="#666" stroke-width="1"/><path d="M1425 64.8V80M1426.6 64.8V80M1428.6 64.8V80" stroke="#666" stroke-width="0.9"/><path d="M1430.8 60.6L1436.5 72L1430.8 85" fill="none" stroke="#555" stroke-width="1" stroke-dasharray="2 1.2"/><path d="M1418 409V437M1420 409V437M1422.5 409V437" stroke="#666" stroke-width="0.9"/><path d="M1425 410L1436 423L1425 436" fill="none" stroke="#555" stroke-width="1" stroke-dasharray="2 1.2"/><rect x="1420.5" y="655.5" width="5.8" height="31.3" fill="none" stroke="#666" stroke-width="1"/><path d="M1429.4 654.5H1434.6V645L1446.6 670L1434.6 695.6V686.8H1429.4Z" fill="none" stroke="#555" stroke-width="1" stroke-dasharray="2.5 1.5"/><path d="M1400.7 693.5Q1403 686 1412 685.7H1420.5" fill="none" stroke="#777" stroke-width="1"/><path d="M1381 693.5H1400.7M1381 696.7H1400.7" stroke="#777" stroke-width="1.2"/><path d="M1376 702.4H1381V699.3H1401V702.4H1407L1391.4 710.2Z" fill="none" stroke="#555" stroke-width="1" stroke-dasharray="2 1.2"/><path d="M626 693.5H645.6M626 696.5H645.6" stroke="#777" stroke-width="1.2"/><path d="M620 702.5H626V699.5H645.6V702.5H652L636 710.4Z" fill="none" stroke="#555" stroke-width="1" stroke-dasharray="2 1.2"/><text x="861.5" y="72.5" font-size="8.6" font-family="Liberation Sans" font-weight="bold" fill="#474747" text-anchor="middle" letter-spacing="0.35" dominant-baseline="central">CO XANH 18</text><text x="865.5" y="135.7" font-size="8.6" font-family="Liberation Sans" font-weight="bold" fill="#474747" text-anchor="middle" letter-spacing="0.35" dominant-baseline="central">HẢI ÂU 1</text><text x="865.5" y="190" font-size="8.6" font-family="Liberation Sans" font-weight="bold" fill="#474747" text-anchor="middle" letter-spacing="0.35" dominant-baseline="central">HẢI ÂU 2</text><text x="865.5" y="244.2" font-size="8.6" font-family="Liberation Sans" font-weight="bold" fill="#474747" text-anchor="middle" letter-spacing="0.35" dominant-baseline="central">HẢI ÂU 3</text><text x="865.5" y="300.8" font-size="8.6" font-family="Liberation Sans" font-weight="bold" fill="#474747" text-anchor="middle" letter-spacing="0.35" dominant-baseline="central">HẢI ÂU 4</text><text x="865.5" y="362" font-size="8.6" font-family="Liberation Sans" font-weight="bold" fill="#474747" text-anchor="middle" letter-spacing="0.35" dominant-baseline="central">HẢI ÂU 5</text><text x="865.5" y="426.5" font-size="8.6" font-family="Liberation Sans" font-weight="bold" fill="#474747" text-anchor="middle" letter-spacing="0.35" dominant-baseline="central">HẢI ÂU 6</text><text x="865.5" y="489" font-size="8.6" font-family="Liberation Sans" font-weight="bold" fill="#474747" text-anchor="middle" letter-spacing="0.35" dominant-baseline="central">HẢI ÂU 7</text><text x="865.5" y="546" font-size="8.6" font-family="Liberation Sans" font-weight="bold" fill="#474747" text-anchor="middle" letter-spacing="0.35" dominant-baseline="central">HẢI ÂU 8</text><text x="865.5" y="603" font-size="8.6" font-family="Liberation Sans" font-weight="bold" fill="#474747" text-anchor="middle" letter-spacing="0.35" dominant-baseline="central">HẢI ÂU 9</text><text x="1207" y="72.5" font-size="8.6" font-family="Liberation Sans" font-weight="bold" fill="#474747" text-anchor="middle" letter-spacing="0.35" dominant-baseline="central">CỌ XANH 18</text><text x="1207" y="135.7" font-size="8.6" font-family="Liberation Sans" font-weight="bold" fill="#474747" text-anchor="middle" letter-spacing="0.35" dominant-baseline="central">HẢI ÂU 1</text><text x="1207" y="190" font-size="8.6" font-family="Liberation Sans" font-weight="bold" fill="#474747" text-anchor="middle" letter-spacing="0.35" dominant-baseline="central">HẢI ÂU 2</text><text x="1207" y="244.2" font-size="8.6" font-family="Liberation Sans" font-weight="bold" fill="#474747" text-anchor="middle" letter-spacing="0.35" dominant-baseline="central">HẢI ÂU 3</text><text x="1207" y="300.8" font-size="8.6" font-family="Liberation Sans" font-weight="bold" fill="#474747" text-anchor="middle" letter-spacing="0.35" dominant-baseline="central">HẢI ÂU 4</text><text x="1207" y="426.5" font-size="8.6" font-family="Liberation Sans" font-weight="bold" fill="#474747" text-anchor="middle" letter-spacing="0.35" dominant-baseline="central">HẢI ÂU 6</text><text x="1207" y="489" font-size="8.6" font-family="Liberation Sans" font-weight="bold" fill="#474747" text-anchor="middle" letter-spacing="0.35" dominant-baseline="central">HẢI ÂU 7</text><text x="1207" y="546" font-size="8.6" font-family="Liberation Sans" font-weight="bold" fill="#474747" text-anchor="middle" letter-spacing="0.35" dominant-baseline="central">HẢI ÂU 8</text><text x="1207" y="603" font-size="8.6" font-family="Liberation Sans" font-weight="bold" fill="#474747" text-anchor="middle" letter-spacing="0.35" dominant-baseline="central">HẢI ÂU 9</text><text x="1118.5" y="671.7" font-size="10" font-family="Liberation Sans" font-weight="bold" fill="#474747" text-anchor="middle" letter-spacing="0.35" dominant-baseline="central">ĐƯỜNG ĐẠI DƯƠNG (RỘNG 30M)</text><text transform="translate(1013.5 163.5) rotate(90)" font-size="8.6" font-family="Liberation Sans" font-weight="bold" fill="#474747" text-anchor="middle" dominant-baseline="central" letter-spacing="0">HẢI ÂU</text><text transform="translate(1013.5 511.5) rotate(90)" font-size="8.6" font-family="Liberation Sans" font-weight="bold" fill="#474747" text-anchor="middle" dominant-baseline="central" letter-spacing="0">HẢI ÂU</text><text transform="translate(1329.8 197) rotate(90)" font-size="8.6" font-family="Liberation Sans" font-weight="bold" fill="#474747" text-anchor="middle" dominant-baseline="central" letter-spacing="0">HẢI ÂU 10</text><text transform="translate(1329.8 548) rotate(90)" font-size="8.6" font-family="Liberation Sans" font-weight="bold" fill="#474747" text-anchor="middle" dominant-baseline="central" letter-spacing="0">HẢI ÂU 10</text><text transform="translate(1380.5 189) rotate(90)" font-size="10" font-family="Liberation Sans" font-weight="bold" fill="#474747" text-anchor="middle" dominant-baseline="central" letter-spacing="0.4">BIỂN XANH (RỘNG 35M)</text><text transform="translate(1380.5 564.5) rotate(90)" font-size="10" font-family="Liberation Sans" font-weight="bold" fill="#474747" text-anchor="middle" dominant-baseline="central" letter-spacing="0.4">BIỂN XANH (RỘNG 35M)</text><text transform="translate(699.4 332.5) rotate(90)" font-size="9.6" font-family="Liberation Sans" font-weight="bold" fill="#168a32" text-anchor="middle" dominant-baseline="central" letter-spacing="0">CÔNG VIÊN SILK PARK</text>
<g fill="none" stroke="#ead6bf" stroke-width="2.3" stroke-linecap="round" stroke-linejoin="round"><path d="M416 744.6H452" stroke-width="2.4"/><path d="M419 746.5L434 755L449 746.5Z" fill="#ead6bf" stroke-width="1"/><path d="M419 747Q410 749 411.5 756Q413 760 417 757Q414 765 418 772Q421 778 416 785"/><path d="M449 747Q458 749 456.5 756Q455 760 451 757Q454 765 450 772Q447 778 452 785"/><path d="M424 752Q419 764 425 773Q428 779 425 784" stroke-width="1.6"/><path d="M444 752Q449 764 443 773Q440 779 443 784" stroke-width="1.6"/><path d="M412 779Q416 790 434 794Q452 790 456 779"/><path d="M418 786Q426 779 434 781Q442 779 450 786" stroke-width="1.8"/></g><g fill="#ead6bf"><circle cx="434" cy="767.5" r="3.2"/><ellipse cx="434" cy="760.8" rx="2" ry="2.8"/><ellipse cx="434" cy="774.2" rx="2" ry="2.8"/><ellipse cx="427.3" cy="767.5" rx="2.8" ry="2"/><ellipse cx="440.7" cy="767.5" rx="2.8" ry="2"/></g><circle cx="434" cy="767.5" r="1.3" fill="#1455b4"/><text x="388" y="816.2" font-family="Liberation Sans" font-size="17" fill="#efe3d6" textLength="91" lengthAdjust="spacingAndGlyphs" stroke="#efe3d6" stroke-width="0.25">THE EMPIRE</text>
<clipPath id="mm"><polygon points="1276,755 1366.6,734.7 1384,738 1398.9,772.3 1404,791 1423,810.5 1356,838 1345,820.6 1318.3,831.4"/></clipPath><polygon points="1276,755 1366.6,734.7 1384,738 1398.9,772.3 1404,791 1423,810.5 1356,838 1345,820.6 1318.3,831.4" fill="#e0d4bb"/><g clip-path="url(#mm)"><g transform="matrix(100 -25 36.3 80 1283.4 751.5)"><rect x="0.008" y="0.01" width="0.018" height="0.012" fill="#b8b0a0"/><rect x="0.003" y="-0.005" width="0.018" height="0.012" fill="#a39c90"/><rect x="0.01" y="-0.021" width="0.018" height="0.012" fill="#8e8a84"/><rect x="-0.028" y="0.091" width="0.018" height="0.012" fill="#8e8a84"/><rect x="-0.013" y="0.071" width="0.018" height="0.012" fill="#8e8a84"/><rect x="-0.034" y="0.077" width="0.018" height="0.012" fill="#a39c90"/><rect x="-0.013" y="0.308" width="0.018" height="0.012" fill="#8e8a84"/><rect x="-0.027" y="0.3" width="0.018" height="0.012" fill="#8e8a84"/><rect x="-0.027" y="0.319" width="0.018" height="0.012" fill="#8e8a84"/><rect x="0.015" y="0.581" width="0.018" height="0.012" fill="#8e8a84"/><rect x="-0.004" y="0.603" width="0.018" height="0.012" fill="#8e8a84"/><rect x="-0.025" y="0.619" width="0.018" height="0.012" fill="#8e8a84"/><rect x="0.016" y="0.682" width="0.018" height="0.012" fill="#a39c90"/><rect x="-0.011" y="0.717" width="0.018" height="0.012" fill="#a39c90"/><rect x="-0.031" y="0.682" width="0.018" height="0.012" fill="#b8b0a0"/><rect x="-0.001" y="0.805" width="0.018" height="0.012" fill="#8e8a84"/><rect x="-0.017" y="0.811" width="0.018" height="0.012" fill="#a39c90"/><rect x="0.005" y="0.775" width="0.018" height="0.012" fill="#a39c90"/><rect x="-0.032" y="0.92" width="0.018" height="0.012" fill="#8e8a84"/><rect x="0.02" y="0.885" width="0.018" height="0.012" fill="#a39c90"/><rect x="-0.034" y="0.909" width="0.018" height="0.012" fill="#a39c90"/><rect x="0.013" y="0.99" width="0.018" height="0.012" fill="#b8b0a0"/><rect x="-0.025" y="1.018" width="0.018" height="0.012" fill="#8e8a84"/><rect x="-0.028" y="0.979" width="0.018" height="0.012" fill="#a39c90"/><rect x="-0.015" y="1.094" width="0.018" height="0.012" fill="#a39c90"/><rect x="-0.029" y="1.107" width="0.018" height="0.012" fill="#a39c90"/><rect x="0.015" y="1.067" width="0.018" height="0.012" fill="#8e8a84"/><rect x="0.086" y="0.073" width="0.018" height="0.012" fill="#a39c90"/><rect x="0.118" y="0.096" width="0.018" height="0.012" fill="#a39c90"/><rect x="0.105" y="0.082" width="0.018" height="0.012" fill="#8e8a84"/><rect x="0.107" y="0.182" width="0.018" height="0.012" fill="#a39c90"/><rect x="0.074" y="0.168" width="0.018" height="0.012" fill="#b8b0a0"/><rect x="0.096" y="0.188" width="0.018" height="0.012" fill="#8e8a84"/><rect x="0.085" y="0.279" width="0.018" height="0.012" fill="#b8b0a0"/><rect x="0.089" y="0.268" width="0.018" height="0.012" fill="#b8b0a0"/><rect x="0.067" y="0.293" width="0.018" height="0.012" fill="#8e8a84"/><rect x="0.12" y="0.5" width="0.018" height="0.012" fill="#a39c90"/><rect x="0.071" y="0.489" width="0.018" height="0.012" fill="#8e8a84"/><rect x="0.068" y="0.489" width="0.018" height="0.012" fill="#8e8a84"/><rect x="0.123" y="0.613" width="0.018" height="0.012" fill="#b8b0a0"/><rect x="0.091" y="0.592" width="0.018" height="0.012" fill="#b8b0a0"/><rect x="0.083" y="0.58" width="0.018" height="0.012" fill="#a39c90"/><rect x="0.073" y="0.686" width="0.018" height="0.012" fill="#b8b0a0"/><rect x="0.12" y="0.7" width="0.018" height="0.012" fill="#a39c90"/><rect x="0.115" y="0.675" width="0.018" height="0.012" fill="#a39c90"/><rect x="0.115" y="0.885" width="0.018" height="0.012" fill="#a39c90"/><rect x="0.105" y="0.902" width="0.018" height="0.012" fill="#a39c90"/><rect x="0.086" y="0.904" width="0.018" height="0.012" fill="#a39c90"/><rect x="0.08" y="1.02" width="0.018" height="0.012" fill="#b8b0a0"/><rect x="0.082" y="1.018" width="0.018" height="0.012" fill="#b8b0a0"/><rect x="0.075" y="1.013" width="0.018" height="0.012" fill="#a39c90"/><rect x="0.079" y="1.103" width="0.018" height="0.012" fill="#a39c90"/><rect x="0.082" y="1.093" width="0.018" height="0.012" fill="#b8b0a0"/><rect x="0.111" y="1.084" width="0.018" height="0.012" fill="#b8b0a0"/><rect x="0.219" y="-0.012" width="0.018" height="0.012" fill="#8e8a84"/><rect x="0.215" y="0.004" width="0.018" height="0.012" fill="#a39c90"/><rect x="0.22" y="-0.006" width="0.018" height="0.012" fill="#b8b0a0"/><rect x="0.176" y="0.085" width="0.018" height="0.012" fill="#a39c90"/><rect x="0.181" y="0.069" width="0.018" height="0.012" fill="#b8b0a0"/><rect x="0.207" y="0.075" width="0.018" height="0.012" fill="#b8b0a0"/><rect x="0.219" y="0.182" width="0.018" height="0.012" fill="#b8b0a0"/><rect x="0.21" y="0.201" width="0.018" height="0.012" fill="#b8b0a0"/><rect x="0.222" y="0.176" width="0.018" height="0.012" fill="#b8b0a0"/><rect x="0.202" y="0.277" width="0.018" height="0.012" fill="#b8b0a0"/><rect x="0.175" y="0.305" width="0.018" height="0.012" fill="#a39c90"/><rect x="0.221" y="0.274" width="0.018" height="0.012" fill="#8e8a84"/><rect x="0.193" y="0.496" width="0.018" height="0.012" fill="#a39c90"/><rect x="0.192" y="0.486" width="0.018" height="0.012" fill="#b8b0a0"/><rect x="0.169" y="0.476" width="0.018" height="0.012" fill="#b8b0a0"/><rect x="0.165" y="0.588" width="0.018" height="0.012" fill="#a39c90"/><rect x="0.214" y="0.614" width="0.018" height="0.012" fill="#b8b0a0"/><rect x="0.213" y="0.586" width="0.018" height="0.012" fill="#8e8a84"/><rect x="0.182" y="0.682" width="0.018" height="0.012" fill="#b8b0a0"/><rect x="0.185" y="0.698" width="0.018" height="0.012" fill="#a39c90"/><rect x="0.212" y="0.688" width="0.018" height="0.012" fill="#b8b0a0"/><rect x="0.186" y="0.773" width="0.018" height="0.012" fill="#b8b0a0"/><rect x="0.187" y="0.792" width="0.018" height="0.012" fill="#8e8a84"/><rect x="0.221" y="0.799" width="0.018" height="0.012" fill="#a39c90"/><rect x="0.203" y="0.886" width="0.018" height="0.012" fill="#a39c90"/><rect x="0.198" y="0.899" width="0.018" height="0.012" fill="#8e8a84"/><rect x="0.184" y="0.914" width="0.018" height="0.012" fill="#b8b0a0"/><rect x="0.19" y="0.978" width="0.018" height="0.012" fill="#a39c90"/><rect x="0.193" y="1.005" width="0.018" height="0.012" fill="#a39c90"/><rect x="0.22" y="1.016" width="0.018" height="0.012" fill="#b8b0a0"/><rect x="0.208" y="1.082" width="0.018" height="0.012" fill="#a39c90"/><rect x="0.189" y="1.083" width="0.018" height="0.012" fill="#a39c90"/><rect x="0.193" y="1.081" width="0.018" height="0.012" fill="#a39c90"/><rect x="0.32" y="0.079" width="0.018" height="0.012" fill="#8e8a84"/><rect x="0.31" y="0.111" width="0.018" height="0.012" fill="#8e8a84"/><rect x="0.293" y="0.096" width="0.018" height="0.012" fill="#8e8a84"/><rect x="0.31" y="0.179" width="0.018" height="0.012" fill="#a39c90"/><rect x="0.314" y="0.205" width="0.018" height="0.012" fill="#a39c90"/><rect x="0.282" y="0.199" width="0.018" height="0.012" fill="#a39c90"/><rect x="0.315" y="0.314" width="0.018" height="0.012" fill="#8e8a84"/><rect x="0.266" y="0.272" width="0.018" height="0.012" fill="#a39c90"/><rect x="0.296" y="0.284" width="0.018" height="0.012" fill="#a39c90"/><rect x="0.267" y="0.385" width="0.018" height="0.012" fill="#b8b0a0"/><rect x="0.308" y="0.398" width="0.018" height="0.012" fill="#8e8a84"/><rect x="0.265" y="0.396" width="0.018" height="0.012" fill="#b8b0a0"/><rect x="0.316" y="0.496" width="0.018" height="0.012" fill="#8e8a84"/><rect x="0.29" y="0.51" width="0.018" height="0.012" fill="#b8b0a0"/><rect x="0.298" y="0.505" width="0.018" height="0.012" fill="#b8b0a0"/><rect x="0.314" y="0.612" width="0.018" height="0.012" fill="#a39c90"/><rect x="0.288" y="0.613" width="0.018" height="0.012" fill="#8e8a84"/><rect x="0.317" y="0.591" width="0.018" height="0.012" fill="#8e8a84"/><rect x="0.299" y="0.901" width="0.018" height="0.012" fill="#a39c90"/><rect x="0.317" y="0.873" width="0.018" height="0.012" fill="#a39c90"/><rect x="0.305" y="0.915" width="0.018" height="0.012" fill="#a39c90"/><rect x="0.29" y="0.995" width="0.018" height="0.012" fill="#8e8a84"/><rect x="0.269" y="0.978" width="0.018" height="0.012" fill="#8e8a84"/><rect x="0.311" y="1.002" width="0.018" height="0.012" fill="#8e8a84"/><rect x="0.29" y="1.069" width="0.018" height="0.012" fill="#a39c90"/><rect x="0.305" y="1.068" width="0.018" height="0.012" fill="#8e8a84"/><rect x="0.278" y="1.101" width="0.018" height="0.012" fill="#8e8a84"/><rect x="0.373" y="-0.019" width="0.018" height="0.012" fill="#a39c90"/><rect x="0.374" y="-0.001" width="0.018" height="0.012" fill="#a39c90"/><rect x="0.411" y="-0.031" width="0.018" height="0.012" fill="#8e8a84"/><rect x="0.369" y="0.268" width="0.018" height="0.012" fill="#b8b0a0"/><rect x="0.372" y="0.287" width="0.018" height="0.012" fill="#b8b0a0"/><rect x="0.373" y="0.289" width="0.018" height="0.012" fill="#a39c90"/><rect x="0.393" y="0.385" width="0.018" height="0.012" fill="#b8b0a0"/><rect x="0.387" y="0.368" width="0.018" height="0.012" fill="#b8b0a0"/><rect x="0.382" y="0.397" width="0.018" height="0.012" fill="#b8b0a0"/><rect x="0.417" y="0.496" width="0.018" height="0.012" fill="#b8b0a0"/><rect x="0.378" y="0.469" width="0.018" height="0.012" fill="#8e8a84"/><rect x="0.38" y="0.507" width="0.018" height="0.012" fill="#b8b0a0"/><rect x="0.412" y="0.613" width="0.018" height="0.012" fill="#a39c90"/><rect x="0.407" y="0.575" width="0.018" height="0.012" fill="#b8b0a0"/><rect x="0.366" y="0.584" width="0.018" height="0.012" fill="#b8b0a0"/><rect x="0.37" y="0.672" width="0.018" height="0.012" fill="#b8b0a0"/><rect x="0.391" y="0.687" width="0.018" height="0.012" fill="#a39c90"/><rect x="0.393" y="0.683" width="0.018" height="0.012" fill="#b8b0a0"/><rect x="0.368" y="0.873" width="0.018" height="0.012" fill="#a39c90"/><rect x="0.404" y="0.877" width="0.018" height="0.012" fill="#8e8a84"/><rect x="0.37" y="0.916" width="0.018" height="0.012" fill="#a39c90"/><rect x="0.373" y="1" width="0.018" height="0.012" fill="#a39c90"/><rect x="0.413" y="0.981" width="0.018" height="0.012" fill="#b8b0a0"/><rect x="0.406" y="1.01" width="0.018" height="0.012" fill="#a39c90"/><rect x="0.502" y="0.01" width="0.018" height="0.012" fill="#a39c90"/><rect x="0.52" y="-0.015" width="0.018" height="0.012" fill="#8e8a84"/><rect x="0.499" y="-0.003" width="0.018" height="0.012" fill="#b8b0a0"/><rect x="0.519" y="0.602" width="0.018" height="0.012" fill="#a39c90"/><rect x="0.465" y="0.591" width="0.018" height="0.012" fill="#b8b0a0"/><rect x="0.518" y="0.583" width="0.018" height="0.012" fill="#a39c90"/><rect x="0.487" y="1.014" width="0.018" height="0.012" fill="#8e8a84"/><rect x="0.497" y="0.971" width="0.018" height="0.012" fill="#8e8a84"/><rect x="0.508" y="1.003" width="0.018" height="0.012" fill="#8e8a84"/><rect x="0.467" y="1.117" width="0.018" height="0.012" fill="#a39c90"/><rect x="0.483" y="1.068" width="0.018" height="0.012" fill="#8e8a84"/><rect x="0.504" y="1.091" width="0.018" height="0.012" fill="#8e8a84"/><rect x="0.582" y="0.103" width="0.018" height="0.012" fill="#b8b0a0"/><rect x="0.622" y="0.067" width="0.018" height="0.012" fill="#b8b0a0"/><rect x="0.566" y="0.078" width="0.018" height="0.012" fill="#8e8a84"/><rect x="0.618" y="0.205" width="0.018" height="0.012" fill="#b8b0a0"/><rect x="0.583" y="0.191" width="0.018" height="0.012" fill="#a39c90"/><rect x="0.569" y="0.221" width="0.018" height="0.012" fill="#a39c90"/><rect x="0.619" y="0.501" width="0.018" height="0.012" fill="#a39c90"/><rect x="0.607" y="0.48" width="0.018" height="0.012" fill="#a39c90"/><rect x="0.569" y="0.509" width="0.018" height="0.012" fill="#a39c90"/><rect x="0.613" y="0.797" width="0.018" height="0.012" fill="#8e8a84"/><rect x="0.606" y="0.778" width="0.018" height="0.012" fill="#a39c90"/><rect x="0.57" y="0.791" width="0.018" height="0.012" fill="#b8b0a0"/><rect x="0.568" y="1.079" width="0.018" height="0.012" fill="#a39c90"/><rect x="0.591" y="1.101" width="0.018" height="0.012" fill="#8e8a84"/><rect x="0.62" y="1.076" width="0.018" height="0.012" fill="#b8b0a0"/><rect x="0.688" y="-0.005" width="0.018" height="0.012" fill="#8e8a84"/><rect x="0.718" y="0.009" width="0.018" height="0.012" fill="#8e8a84"/><rect x="0.696" y="0.017" width="0.018" height="0.012" fill="#b8b0a0"/><rect x="0.701" y="0.19" width="0.018" height="0.012" fill="#a39c90"/><rect x="0.693" y="0.197" width="0.018" height="0.012" fill="#a39c90"/><rect x="0.695" y="0.172" width="0.018" height="0.012" fill="#8e8a84"/><rect x="0.683" y="0.29" width="0.018" height="0.012" fill="#8e8a84"/><rect x="0.697" y="0.273" width="0.018" height="0.012" fill="#a39c90"/><rect x="0.67" y="0.308" width="0.018" height="0.012" fill="#a39c90"/><rect x="0.698" y="0.879" width="0.018" height="0.012" fill="#8e8a84"/><rect x="0.693" y="0.879" width="0.018" height="0.012" fill="#b8b0a0"/><rect x="0.677" y="0.881" width="0.018" height="0.012" fill="#a39c90"/><rect x="0.669" y="1.008" width="0.018" height="0.012" fill="#a39c90"/><rect x="0.708" y="0.996" width="0.018" height="0.012" fill="#a39c90"/><rect x="0.703" y="1.008" width="0.018" height="0.012" fill="#b8b0a0"/><rect x="0.81" y="0.066" width="0.018" height="0.012" fill="#8e8a84"/><rect x="0.805" y="0.08" width="0.018" height="0.012" fill="#a39c90"/><rect x="0.797" y="0.083" width="0.018" height="0.012" fill="#a39c90"/><rect x="0.781" y="0.369" width="0.018" height="0.012" fill="#b8b0a0"/><rect x="0.797" y="0.367" width="0.018" height="0.012" fill="#8e8a84"/><rect x="0.821" y="0.411" width="0.018" height="0.012" fill="#a39c90"/><rect x="0.82" y="0.499" width="0.018" height="0.012" fill="#8e8a84"/><rect x="0.795" y="0.472" width="0.018" height="0.012" fill="#8e8a84"/><rect x="0.784" y="0.466" width="0.018" height="0.012" fill="#b8b0a0"/><rect x="0.774" y="0.62" width="0.018" height="0.012" fill="#a39c90"/><rect x="0.796" y="0.575" width="0.018" height="0.012" fill="#b8b0a0"/><rect x="0.773" y="0.608" width="0.018" height="0.012" fill="#a39c90"/><rect x="0.772" y="0.683" width="0.018" height="0.012" fill="#8e8a84"/><rect x="0.792" y="0.689" width="0.018" height="0.012" fill="#a39c90"/><rect x="0.768" y="0.702" width="0.018" height="0.012" fill="#8e8a84"/><rect x="0.821" y="0.798" width="0.018" height="0.012" fill="#8e8a84"/><rect x="0.772" y="0.813" width="0.018" height="0.012" fill="#b8b0a0"/><rect x="0.768" y="0.82" width="0.018" height="0.012" fill="#8e8a84"/><rect x="0.779" y="0.904" width="0.018" height="0.012" fill="#a39c90"/><rect x="0.788" y="0.877" width="0.018" height="0.012" fill="#a39c90"/><rect x="0.812" y="0.882" width="0.018" height="0.012" fill="#b8b0a0"/><rect x="0.808" y="0.979" width="0.018" height="0.012" fill="#a39c90"/><rect x="0.812" y="1.011" width="0.018" height="0.012" fill="#b8b0a0"/><rect x="0.813" y="1.013" width="0.018" height="0.012" fill="#b8b0a0"/><rect x="0.785" y="1.073" width="0.018" height="0.012" fill="#8e8a84"/><rect x="0.793" y="1.067" width="0.018" height="0.012" fill="#8e8a84"/><rect x="0.788" y="1.107" width="0.018" height="0.012" fill="#a39c90"/><rect x="0.876" y="0.01" width="0.018" height="0.012" fill="#a39c90"/><rect x="0.892" y="-0.009" width="0.018" height="0.012" fill="#b8b0a0"/><rect x="0.901" y="0.01" width="0.018" height="0.012" fill="#a39c90"/><rect x="0.871" y="0.099" width="0.018" height="0.012" fill="#b8b0a0"/><rect x="0.876" y="0.087" width="0.018" height="0.012" fill="#a39c90"/><rect x="0.904" y="0.099" width="0.018" height="0.012" fill="#b8b0a0"/><rect x="0.892" y="0.204" width="0.018" height="0.012" fill="#a39c90"/><rect x="0.891" y="0.209" width="0.018" height="0.012" fill="#b8b0a0"/><rect x="0.918" y="0.204" width="0.018" height="0.012" fill="#b8b0a0"/><rect x="0.92" y="0.466" width="0.018" height="0.012" fill="#b8b0a0"/><rect x="0.877" y="0.481" width="0.018" height="0.012" fill="#8e8a84"/><rect x="0.87" y="0.485" width="0.018" height="0.012" fill="#b8b0a0"/><rect x="0.919" y="0.588" width="0.018" height="0.012" fill="#8e8a84"/><rect x="0.881" y="0.605" width="0.018" height="0.012" fill="#8e8a84"/><rect x="0.867" y="0.57" width="0.018" height="0.012" fill="#a39c90"/><rect x="0.905" y="0.712" width="0.018" height="0.012" fill="#b8b0a0"/><rect x="0.9" y="0.696" width="0.018" height="0.012" fill="#a39c90"/><rect x="0.895" y="0.715" width="0.018" height="0.012" fill="#8e8a84"/><rect x="0.91" y="0.789" width="0.018" height="0.012" fill="#8e8a84"/><rect x="0.904" y="0.786" width="0.018" height="0.012" fill="#b8b0a0"/><rect x="0.895" y="0.777" width="0.018" height="0.012" fill="#b8b0a0"/><rect x="0.887" y="0.871" width="0.018" height="0.012" fill="#b8b0a0"/><rect x="0.916" y="0.904" width="0.018" height="0.012" fill="#a39c90"/><rect x="0.879" y="0.871" width="0.018" height="0.012" fill="#a39c90"/><rect x="1.017" y="-0.026" width="0.018" height="0.012" fill="#b8b0a0"/><rect x="0.989" y="-0.025" width="0.018" height="0.012" fill="#b8b0a0"/><rect x="0.969" y="-0.003" width="0.018" height="0.012" fill="#b8b0a0"/><rect x="1.007" y="0.088" width="0.018" height="0.012" fill="#a39c90"/><rect x="0.993" y="0.098" width="0.018" height="0.012" fill="#8e8a84"/><rect x="0.982" y="0.081" width="0.018" height="0.012" fill="#b8b0a0"/><rect x="0.984" y="0.189" width="0.018" height="0.012" fill="#8e8a84"/><rect x="0.972" y="0.197" width="0.018" height="0.012" fill="#b8b0a0"/><rect x="0.997" y="0.189" width="0.018" height="0.012" fill="#a39c90"/><rect x="1.002" y="0.304" width="0.018" height="0.012" fill="#b8b0a0"/><rect x="0.969" y="0.318" width="0.018" height="0.012" fill="#8e8a84"/><rect x="1.013" y="0.319" width="0.018" height="0.012" fill="#a39c90"/><rect x="0.987" y="0.516" width="0.018" height="0.012" fill="#b8b0a0"/><rect x="1" y="0.51" width="0.018" height="0.012" fill="#8e8a84"/><rect x="0.965" y="0.503" width="0.018" height="0.012" fill="#8e8a84"/><rect x="0.971" y="0.807" width="0.018" height="0.012" fill="#b8b0a0"/><rect x="0.984" y="0.808" width="0.018" height="0.012" fill="#8e8a84"/><rect x="1.006" y="0.817" width="0.018" height="0.012" fill="#b8b0a0"/><rect x="1.021" y="0.871" width="0.018" height="0.012" fill="#8e8a84"/><rect x="1.012" y="0.876" width="0.018" height="0.012" fill="#a39c90"/><rect x="0.987" y="0.891" width="0.018" height="0.012" fill="#b8b0a0"/><rect x="1.009" y="0.979" width="0.018" height="0.012" fill="#b8b0a0"/><rect x="0.992" y="0.965" width="0.018" height="0.012" fill="#b8b0a0"/><rect x="1.02" y="0.972" width="0.018" height="0.012" fill="#8e8a84"/><rect x="1.02" y="1.118" width="0.018" height="0.012" fill="#8e8a84"/><rect x="0.993" y="1.118" width="0.018" height="0.012" fill="#b8b0a0"/><rect x="0.982" y="1.072" width="0.018" height="0.012" fill="#a39c90"/><rect x="1.108" y="-0.024" width="0.018" height="0.012" fill="#a39c90"/><rect x="1.087" y="-0.019" width="0.018" height="0.012" fill="#a39c90"/><rect x="1.102" y="0.008" width="0.018" height="0.012" fill="#8e8a84"/><rect x="1.082" y="0.084" width="0.018" height="0.012" fill="#8e8a84"/><rect x="1.095" y="0.068" width="0.018" height="0.012" fill="#a39c90"/><rect x="1.122" y="0.08" width="0.018" height="0.012" fill="#b8b0a0"/><rect x="1.122" y="0.495" width="0.018" height="0.012" fill="#a39c90"/><rect x="1.114" y="0.479" width="0.018" height="0.012" fill="#a39c90"/><rect x="1.085" y="0.51" width="0.018" height="0.012" fill="#8e8a84"/><rect x="1.073" y="0.61" width="0.018" height="0.012" fill="#8e8a84"/><rect x="1.079" y="0.591" width="0.018" height="0.012" fill="#a39c90"/><rect x="1.115" y="0.569" width="0.018" height="0.012" fill="#8e8a84"/><rect x="1.066" y="0.794" width="0.018" height="0.012" fill="#a39c90"/><rect x="1.099" y="0.812" width="0.018" height="0.012" fill="#a39c90"/><rect x="1.094" y="0.768" width="0.018" height="0.012" fill="#a39c90"/><rect x="1.094" y="0.913" width="0.018" height="0.012" fill="#b8b0a0"/><rect x="1.102" y="0.901" width="0.018" height="0.012" fill="#8e8a84"/><rect x="1.077" y="0.889" width="0.018" height="0.012" fill="#b8b0a0"/><rect x="1.115" y="1.011" width="0.018" height="0.012" fill="#a39c90"/><rect x="1.066" y="1.011" width="0.018" height="0.012" fill="#8e8a84"/><rect x="1.116" y="0.973" width="0.018" height="0.012" fill="#8e8a84"/><rect x="1.121" y="1.121" width="0.018" height="0.012" fill="#8e8a84"/><rect x="1.088" y="1.076" width="0.018" height="0.012" fill="#8e8a84"/><rect x="1.092" y="1.081" width="0.018" height="0.012" fill="#b8b0a0"/><rect x="1.209" y="0.007" width="0.018" height="0.012" fill="#8e8a84"/><rect x="1.169" y="-0.014" width="0.018" height="0.012" fill="#a39c90"/><rect x="1.216" y="-0.024" width="0.018" height="0.012" fill="#8e8a84"/><rect x="1.193" y="0.083" width="0.018" height="0.012" fill="#a39c90"/><rect x="1.173" y="0.078" width="0.018" height="0.012" fill="#a39c90"/><rect x="1.219" y="0.067" width="0.018" height="0.012" fill="#8e8a84"/><rect x="1.17" y="0.172" width="0.018" height="0.012" fill="#b8b0a0"/><rect x="1.186" y="0.208" width="0.018" height="0.012" fill="#8e8a84"/><rect x="1.182" y="0.215" width="0.018" height="0.012" fill="#b8b0a0"/><rect x="1.181" y="0.271" width="0.018" height="0.012" fill="#a39c90"/><rect x="1.187" y="0.286" width="0.018" height="0.012" fill="#a39c90"/><rect x="1.197" y="0.29" width="0.018" height="0.012" fill="#8e8a84"/><rect x="1.173" y="0.366" width="0.018" height="0.012" fill="#8e8a84"/><rect x="1.207" y="0.372" width="0.018" height="0.012" fill="#a39c90"/><rect x="1.203" y="0.368" width="0.018" height="0.012" fill="#8e8a84"/><rect x="1.189" y="0.493" width="0.018" height="0.012" fill="#b8b0a0"/><rect x="1.179" y="0.482" width="0.018" height="0.012" fill="#b8b0a0"/><rect x="1.179" y="0.504" width="0.018" height="0.012" fill="#a39c90"/><rect x="1.197" y="0.59" width="0.018" height="0.012" fill="#8e8a84"/><rect x="1.203" y="0.617" width="0.018" height="0.012" fill="#a39c90"/><rect x="1.198" y="0.58" width="0.018" height="0.012" fill="#b8b0a0"/><rect x="1.22" y="0.72" width="0.018" height="0.012" fill="#a39c90"/><rect x="1.214" y="0.698" width="0.018" height="0.012" fill="#b8b0a0"/><rect x="1.169" y="0.69" width="0.018" height="0.012" fill="#b8b0a0"/><rect x="1.171" y="0.894" width="0.018" height="0.012" fill="#b8b0a0"/><rect x="1.186" y="0.888" width="0.018" height="0.012" fill="#a39c90"/><rect x="1.185" y="0.893" width="0.018" height="0.012" fill="#b8b0a0"/><rect x="1.198" y="0.967" width="0.018" height="0.012" fill="#b8b0a0"/><rect x="1.17" y="0.984" width="0.018" height="0.012" fill="#8e8a84"/><rect x="1.187" y="0.984" width="0.018" height="0.012" fill="#a39c90"/><rect x="1.173" y="1.072" width="0.018" height="0.012" fill="#a39c90"/><rect x="1.213" y="1.1" width="0.018" height="0.012" fill="#a39c90"/><rect x="1.175" y="1.109" width="0.018" height="0.012" fill="#b8b0a0"/><rect x="-0.036" y="0.165" width="0.072" height="0.07" fill="#24468e"/><rect x="-0.036" y="0.365" width="0.072" height="0.07" fill="#24468e"/><rect x="-0.036" y="0.465" width="0.072" height="0.07" fill="#24468e"/><rect x="0.064" y="-0.035" width="0.072" height="0.07" fill="#24468e"/><rect x="0.064" y="0.365" width="0.072" height="0.07" fill="#24468e"/><rect x="0.064" y="0.765" width="0.072" height="0.07" fill="#24468e"/><rect x="0.164" y="0.365" width="0.072" height="0.07" fill="#24468e"/><rect x="0.264" y="-0.035" width="0.072" height="0.07" fill="#24468e"/><rect x="0.264" y="0.665" width="0.072" height="0.07" fill="#24468e"/><rect x="0.264" y="0.765" width="0.072" height="0.07" fill="#24468e"/><rect x="0.364" y="0.065" width="0.072" height="0.07" fill="#24468e"/><rect x="0.364" y="0.165" width="0.072" height="0.07" fill="#24468e"/><rect x="0.364" y="0.765" width="0.072" height="0.07" fill="#24468e"/><rect x="0.364" y="1.065" width="0.072" height="0.07" fill="#24468e"/><rect x="0.464" y="0.065" width="0.072" height="0.07" fill="#24468e"/><rect x="0.464" y="0.165" width="0.072" height="0.07" fill="#24468e"/><rect x="0.464" y="0.265" width="0.072" height="0.07" fill="#24468e"/><rect x="0.464" y="0.365" width="0.072" height="0.07" fill="#24468e"/><rect x="0.464" y="0.465" width="0.072" height="0.07" fill="#24468e"/><rect x="0.464" y="0.665" width="0.072" height="0.07" fill="#24468e"/><rect x="0.464" y="0.765" width="0.072" height="0.07" fill="#24468e"/><rect x="0.464" y="0.865" width="0.072" height="0.07" fill="#24468e"/><rect x="0.564" y="-0.035" width="0.072" height="0.07" fill="#24468e"/><rect x="0.564" y="0.265" width="0.072" height="0.07" fill="#24468e"/><rect x="0.564" y="0.365" width="0.072" height="0.07" fill="#24468e"/><rect x="0.564" y="0.565" width="0.072" height="0.07" fill="#24468e"/><rect x="0.564" y="0.665" width="0.072" height="0.07" fill="#24468e"/><rect x="0.564" y="0.865" width="0.072" height="0.07" fill="#24468e"/><rect x="0.564" y="0.965" width="0.072" height="0.07" fill="#24468e"/><rect x="0.664" y="0.065" width="0.072" height="0.07" fill="#24468e"/><rect x="0.664" y="0.365" width="0.072" height="0.07" fill="#24468e"/><rect x="0.664" y="0.465" width="0.072" height="0.07" fill="#24468e"/><rect x="0.664" y="0.565" width="0.072" height="0.07" fill="#24468e"/><rect x="0.664" y="0.665" width="0.072" height="0.07" fill="#24468e"/><rect x="0.664" y="0.765" width="0.072" height="0.07" fill="#24468e"/><rect x="0.664" y="1.065" width="0.072" height="0.07" fill="#24468e"/><rect x="0.764" y="-0.035" width="0.072" height="0.07" fill="#24468e"/><rect x="0.764" y="0.165" width="0.072" height="0.07" fill="#24468e"/><rect x="0.764" y="0.265" width="0.072" height="0.07" fill="#24468e"/><rect x="0.864" y="0.265" width="0.072" height="0.07" fill="#24468e"/><rect x="0.864" y="0.365" width="0.072" height="0.07" fill="#24468e"/><rect x="0.864" y="0.965" width="0.072" height="0.07" fill="#24468e"/><rect x="0.864" y="1.065" width="0.072" height="0.07" fill="#24468e"/><rect x="0.964" y="0.365" width="0.072" height="0.07" fill="#24468e"/><rect x="0.964" y="0.565" width="0.072" height="0.07" fill="#24468e"/><rect x="0.964" y="0.665" width="0.072" height="0.07" fill="#24468e"/><rect x="1.064" y="0.165" width="0.072" height="0.07" fill="#24468e"/><rect x="1.064" y="0.265" width="0.072" height="0.07" fill="#24468e"/><rect x="1.064" y="0.365" width="0.072" height="0.07" fill="#24468e"/><rect x="1.064" y="0.665" width="0.072" height="0.07" fill="#24468e"/><rect x="1.164" y="0.765" width="0.072" height="0.07" fill="#24468e"/></g></g><path d="M1274 757L1368 733" stroke="#efe6d2" stroke-width="2.2" stroke-linecap="round"/><path d="M1281 752L1320 834" stroke="#efe6d2" stroke-width="2.2" stroke-linecap="round"/><path d="M1366 733L1402 790" stroke="#efe6d2" stroke-width="2.2" stroke-linecap="round"/><path d="M1345 840L1425 808" stroke="#efe6d2" stroke-width="2.2" stroke-linecap="round"/><path d="M1384 738L1404 791" stroke="#efe6d2" stroke-width="2.2" stroke-linecap="round"/><path d="M1404 791L1423 810" stroke="#efe6d2" stroke-width="2.2" stroke-linecap="round"/><path d="M1270 760L1281 757" stroke="#efe6d2" stroke-width="1.6" stroke-linecap="round"/><path d="M1300 746L1298 740" stroke="#efe6d2" stroke-width="1.6" stroke-linecap="round"/><path d="M1342 740L1339 733" stroke="#efe6d2" stroke-width="1.6" stroke-linecap="round"/><path d="M1399 760L1407 758" stroke="#efe6d2" stroke-width="1.6" stroke-linecap="round"/><path d="M1403 776L1411 774" stroke="#efe6d2" stroke-width="1.6" stroke-linecap="round"/><path d="M1420 776L1396 836" stroke="#efe6d2" stroke-width="1.6" stroke-linecap="round"/><path d="M1290 781L1282 783" stroke="#efe6d2" stroke-width="1.6" stroke-linecap="round"/><path d="M1300 820L1292 823" stroke="#efe6d2" stroke-width="1.6" stroke-linecap="round"/><path d="M1376 734L1382 731" stroke="#efe6d2" stroke-width="1.6" stroke-linecap="round"/><polygon points="1306.2,793.8 1325.7,787 1332.4,801.8 1313,811.2" fill="#ea2a26"/><circle cx="1450" cy="786.5" r="10.5" fill="none" stroke="#e6dccb" stroke-width="1.8"/><path d="M1447.933 785.748L1454.617 773.814L1452.067 787.252ZM1449.197 784.778L1456.797 783.33L1450.803 788.222ZM1450.752 784.433L1462.686 791.117L1449.248 788.567ZM1451.722 785.697L1453.17 793.297L1448.278 787.303ZM1452.067 787.252L1445.383 799.186L1447.933 785.748ZM1450.803 788.222L1443.203 789.67L1449.197 784.778ZM1449.248 788.567L1437.314 781.883L1450.752 784.433ZM1448.278 787.303L1446.83 779.703L1451.722 785.697Z" fill="#e6dccb"/><circle cx="1450" cy="786.5" r="1.6" fill="#1d3f86"/><text x="1450" y="767.3" font-size="8" font-family="Liberation Sans" font-weight="bold" fill="#e6dccb" text-anchor="middle" dominant-baseline="central">B</text><text x="1450" y="804" font-size="5.5" font-family="Liberation Sans" font-weight="bold" fill="#e6dccb" text-anchor="middle" dominant-baseline="central">N</text><text x="1432" y="786.5" font-size="5" font-family="Liberation Sans" font-weight="bold" fill="#e6dccb" text-anchor="middle" dominant-baseline="central">T</text><text x="1470" y="786.5" font-size="5" font-family="Liberation Sans" font-weight="bold" fill="#e6dccb" text-anchor="middle" dominant-baseline="central">Đ</text>
</svg>
<div class="abs" id="parkSq"></div>
<div class="abs" id="parkT">CÔNG VIÊN<br><b>SILK PARK</b></div>
<div class="li" style="top:248.3px"><span class="ln">01</span><span class="lt">Quảng trường Hải Âu</span></div><div class="li" style="top:259.4px"><span class="ln">02</span><span class="lt">Artwork Hải Âu – sóng biển</span></div><div class="li" style="top:270.5px"><span class="ln">03</span><span class="lt">Biển tên Phân khu</span></div><div class="li" style="top:281.6px"><span class="ln">04</span><span class="lt">Bể bơi người lớn</span></div><div class="li" style="top:292.7px"><span class="ln">05</span><span class="lt">Bể bơi trẻ em</span></div><div class="li" style="top:303.8px"><span class="ln">06</span><span class="lt">Bể sục jacuzzi</span></div><div class="li" style="top:314.9px"><span class="ln">07</span><span class="lt">Nhà phụ trợ bể bơi</span></div><div class="li" style="top:326px"><span class="ln">08</span><span class="lt">Chòi nghỉ Hawaii</span></div><div class="li" style="top:337.1px"><span class="ln">09</span><span class="lt">Sân chơi trẻ em</span></div><div class="li" style="top:348.2px"><span class="ln"></span><span class="lt">chủ đề Cướp biển Caribbean</span></div><div class="li" style="top:359.3px"><span class="ln">10</span><span class="lt">Sân tập Gym ngoài trời</span></div><div class="li" style="top:370.4px"><span class="ln">11</span><span class="lt">Sân bóng rổ nửa sân</span></div><div class="li" style="top:381.5px"><span class="ln">12</span><span class="lt">Sân bóng chuyền hơi</span></div><div class="li" style="top:392.6px"><span class="ln">13</span><span class="lt">Sân cầu lông</span></div><div class="li" style="top:403.7px"><span class="ln">14</span><span class="lt">Vườn Địa Trung Hải</span></div><div class="li" style="top:414.8px"><span class="ln">15</span><span class="lt">Đài phun nước</span></div><div class="li" style="top:425.9px"><span class="ln">16</span><span class="lt">Tượng trang trí</span></div><div class="li" style="top:437px"><span class="ln">17</span><span class="lt">Giàn cảnh quan</span></div><div class="li" style="top:448.1px"><span class="ln">18</span><span class="lt">Thảm cỏ Yoga</span></div><div class="li" style="top:459.2px"><span class="ln">P</span><span class="lt">Khu vực đỗ xe</span></div>
<div class="sw" style="top:504.2px;height:8.6px;border:1.3px dotted #c8304e"></div>
<div class="sw" style="top:519.6px;background:#fbee66"></div>
<div class="sw" style="top:532.8px;background:#7ecbee"></div>
<div class="sw" style="top:544.6px;background:#f4904c"></div>
<div class="swt" style="top:504px">SHOPHOUSE</div>
<div class="swt" style="top:519px">LIỀN KỀ</div>
<div class="swt" style="top:532px">BIỆT THỰ SONG LẬP</div>
<div class="swt" style="top:544px">BIỆT THỰ ĐƠN LẬP</div>
<div class="abs" id="t1">TỔNG MẶT BẰNG</div>
<div class="abs" id="t2">PHÂN KHU HẢI ÂU</div>
<div class="abs" id="vop">VINHOMES OCEAN PARK 2</div>
<div class="abs" id="disc"><span>• Tài liệu/bản vẽ mang tính chất tham khảo và sẽ được chủ đầu tư cập</span><span>nhật, điều chỉnh tại mỗi thời điểm cho từng khu vực để đảm bảo tối ưu các</span><span class="l">tiện ích sử dụng và phù hợp với thiết kế tổng thể của dự án.</span></div>
</body></html>
